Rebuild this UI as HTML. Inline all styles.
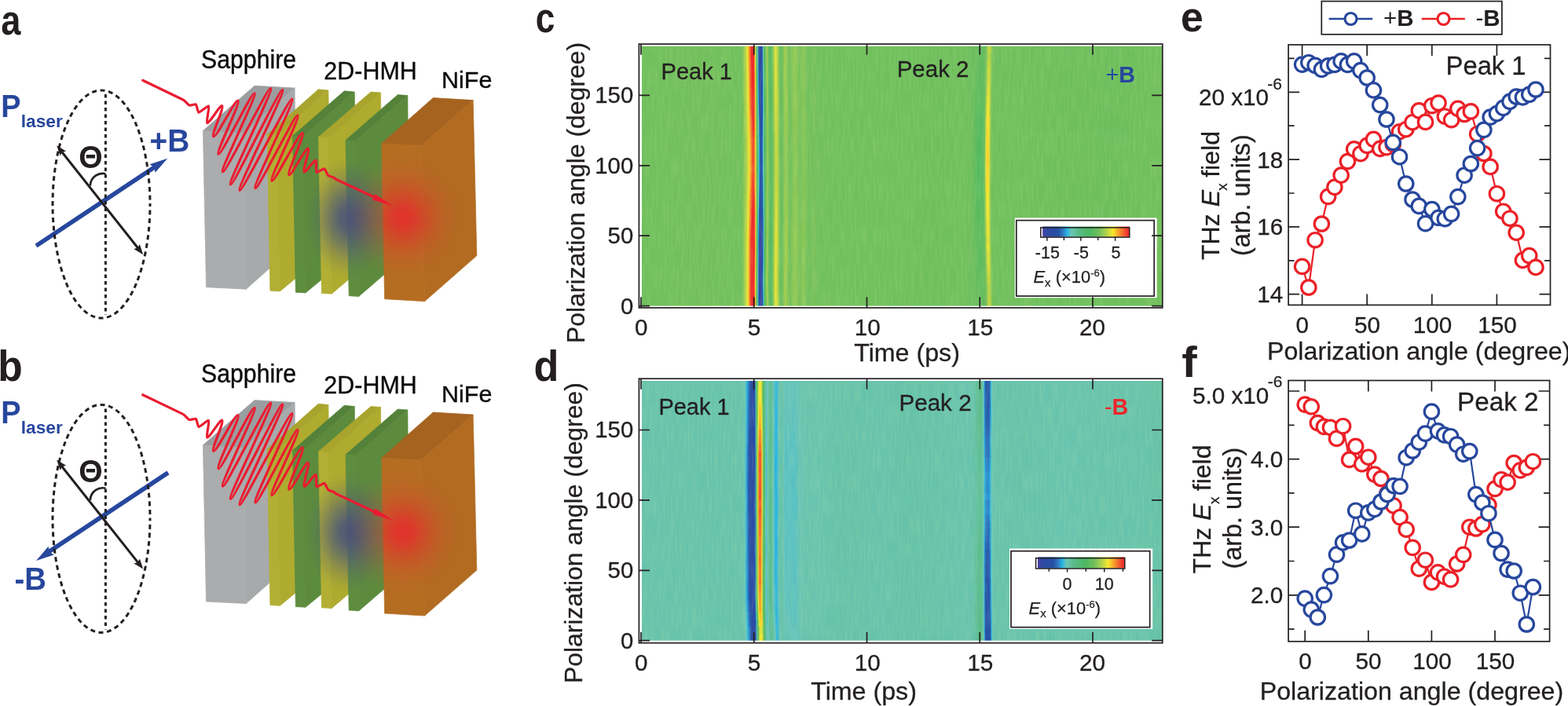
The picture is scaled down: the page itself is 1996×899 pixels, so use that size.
<!DOCTYPE html>
<html lang="en"><head><meta charset="utf-8"><title>Figure</title>
<style>
html,body{margin:0;padding:0;background:#fff;}
body{width:1996px;height:899px;overflow:hidden;}
svg{display:block;font-family:"Liberation Sans",sans-serif;}
</style></head>
<body>
<svg width="1996" height="899" viewBox="0 0 1996 899">
<defs>
<radialGradient id="gblue" cx="0.5" cy="0.5" r="0.5">
<stop offset="0" stop-color="#42507e" stop-opacity="0.95"/>
<stop offset="0.22" stop-color="#46547c" stop-opacity="0.85"/>
<stop offset="0.45" stop-color="#4d5a78" stop-opacity="0.6"/>
<stop offset="0.68" stop-color="#556070" stop-opacity="0.3"/>
<stop offset="0.88" stop-color="#5a6468" stop-opacity="0.08"/>
<stop offset="1" stop-color="#606a60" stop-opacity="0"/>
</radialGradient>
<radialGradient id="gred" cx="0.5" cy="0.5" r="0.5">
<stop offset="0" stop-color="#e2302c" stop-opacity="0.97"/>
<stop offset="0.15" stop-color="#e0332c" stop-opacity="0.9"/>
<stop offset="0.35" stop-color="#d93e2b" stop-opacity="0.66"/>
<stop offset="0.6" stop-color="#cf4d2a" stop-opacity="0.34"/>
<stop offset="0.85" stop-color="#c45a28" stop-opacity="0.09"/>
<stop offset="1" stop-color="#b96622" stop-opacity="0"/>
</radialGradient>
<clipPath id="clipN"><polygon points="485.8,182.6 551.4,124.6 602.2,127.6 606.9,325.6 540.6,383.7 489.6,380.7"/></clipPath>
<clipPath id="clipS"><polygon points="340.2,171.4 405.2,113.8 602.2,127.6 606.9,325.6 540.6,383.7 343.9,370.2"/></clipPath>
<clipPath id="clipL"><polygon points="340.2,171.4 405.2,113.8 518.9,121.6 520,152 485.8,182.6 489.6,380.7 343.9,370.2"/></clipPath>
<filter id="nz" x="0" y="0" width="100%" height="100%" color-interpolation-filters="sRGB"><feTurbulence type="fractalNoise" baseFrequency="0.42 0.035" numOctaves="1" seed="11"/><feColorMatrix type="matrix" values="0 0 0 0 0.9  0 0 0 0 1  0 0 0 0 0.7  0.26 0 0 0 -0.1"/></filter>
<linearGradient id="cb"><stop offset="0%" stop-color="#4a3ea5"/><stop offset="5%" stop-color="#2f49a3"/><stop offset="18%" stop-color="#2551a5"/><stop offset="24%" stop-color="#2f7fc5"/><stop offset="28%" stop-color="#25b4e6"/><stop offset="33%" stop-color="#6cc5b5"/><stop offset="42%" stop-color="#58bb88"/><stop offset="55%" stop-color="#4db860"/><stop offset="65%" stop-color="#72bf5d"/><stop offset="72%" stop-color="#a5cf50"/><stop offset="81%" stop-color="#f5e830"/><stop offset="86%" stop-color="#f9b22c"/><stop offset="92%" stop-color="#f3702e"/><stop offset="98%" stop-color="#ee3030"/><stop offset="100%" stop-color="#ed2a2a"/></linearGradient>
<linearGradient id="hc0"><stop offset="0%" stop-color="#70bf5d"/><stop offset="11.78%" stop-color="#73bf5d"/><stop offset="17.44%" stop-color="#71bf5d"/><stop offset="19.32%" stop-color="#72bf5d"/><stop offset="19.7%" stop-color="#9ccc52"/><stop offset="20.08%" stop-color="#c1d845"/><stop offset="20.38%" stop-color="#f0e632"/><stop offset="20.46%" stop-color="#f6d82f"/><stop offset="20.68%" stop-color="#f68d2d"/><stop offset="21.06%" stop-color="#ee3030"/><stop offset="21.36%" stop-color="#ed2a2a"/><stop offset="21.59%" stop-color="#ed2a2a"/><stop offset="21.66%" stop-color="#ef422f"/><stop offset="21.74%" stop-color="#f36f2e"/><stop offset="21.81%" stop-color="#f8ab2c"/><stop offset="21.89%" stop-color="#e5e336"/><stop offset="21.97%" stop-color="#a2ce51"/><stop offset="22.04%" stop-color="#6abe5e"/><stop offset="22.12%" stop-color="#4eb862"/><stop offset="22.27%" stop-color="#5dbe94"/><stop offset="22.34%" stop-color="#64c3bb"/><stop offset="22.42%" stop-color="#2c90cf"/><stop offset="22.49%" stop-color="#285eae"/><stop offset="22.57%" stop-color="#284fa4"/><stop offset="22.8%" stop-color="#3646a4"/><stop offset="22.87%" stop-color="#4440a5"/><stop offset="23.02%" stop-color="#3049a3"/><stop offset="23.17%" stop-color="#294ea4"/><stop offset="23.25%" stop-color="#2759aa"/><stop offset="23.32%" stop-color="#2b94d2"/><stop offset="23.4%" stop-color="#65c3ba"/><stop offset="23.48%" stop-color="#5dbd93"/><stop offset="23.63%" stop-color="#4eb862"/><stop offset="23.93%" stop-color="#77c05c"/><stop offset="24.08%" stop-color="#9dcc52"/><stop offset="24.15%" stop-color="#9fcd52"/><stop offset="24.38%" stop-color="#72bf5d"/><stop offset="24.76%" stop-color="#4db861"/><stop offset="25.14%" stop-color="#6fbe5d"/><stop offset="25.59%" stop-color="#c7da42"/><stop offset="25.74%" stop-color="#e8e435"/><stop offset="25.82%" stop-color="#e7e435"/><stop offset="26.57%" stop-color="#70bf5d"/><stop offset="26.8%" stop-color="#63bc5e"/><stop offset="27.17%" stop-color="#7bc25b"/><stop offset="27.63%" stop-color="#a7d04f"/><stop offset="28.46%" stop-color="#6fbe5d"/><stop offset="29.44%" stop-color="#97cb53"/><stop offset="30.27%" stop-color="#77c05c"/><stop offset="31.1%" stop-color="#8ac757"/><stop offset="32%" stop-color="#70bf5d"/><stop offset="32.99%" stop-color="#7ac15b"/><stop offset="34.04%" stop-color="#70bf5d"/><stop offset="50.72%" stop-color="#70bf5d"/><stop offset="56.54%" stop-color="#6ebe5d"/><stop offset="61.82%" stop-color="#71bf5d"/><stop offset="64.01%" stop-color="#6bbe5e"/><stop offset="65.52%" stop-color="#60bc5e"/><stop offset="66.05%" stop-color="#6abe5e"/><stop offset="66.2%" stop-color="#72bf5d"/><stop offset="66.58%" stop-color="#b9d548"/><stop offset="66.88%" stop-color="#bfd745"/><stop offset="66.95%" stop-color="#bed746"/><stop offset="67.33%" stop-color="#7dc25a"/><stop offset="67.71%" stop-color="#6fbe5d"/><stop offset="72.01%" stop-color="#70bf5d"/><stop offset="80.62%" stop-color="#6ebe5d"/><stop offset="82.88%" stop-color="#6ebe5d"/><stop offset="90.73%" stop-color="#6dbe5d"/><stop offset="99.94%" stop-color="#71bf5d"/></linearGradient>
<linearGradient id="hc1"><stop offset="0%" stop-color="#70bf5d"/><stop offset="11.78%" stop-color="#73bf5d"/><stop offset="17.44%" stop-color="#71bf5d"/><stop offset="19.25%" stop-color="#71bf5d"/><stop offset="19.7%" stop-color="#9ecd52"/><stop offset="20.08%" stop-color="#c6d943"/><stop offset="20.38%" stop-color="#f5e730"/><stop offset="20.68%" stop-color="#f5862d"/><stop offset="21.06%" stop-color="#ee2d2d"/><stop offset="21.59%" stop-color="#ee2d2d"/><stop offset="21.66%" stop-color="#f1512f"/><stop offset="21.74%" stop-color="#f5822d"/><stop offset="21.81%" stop-color="#f7c82e"/><stop offset="21.89%" stop-color="#cddb40"/><stop offset="21.97%" stop-color="#8ac757"/><stop offset="22.04%" stop-color="#5ebb5f"/><stop offset="22.12%" stop-color="#50b96b"/><stop offset="22.19%" stop-color="#56bb82"/><stop offset="22.27%" stop-color="#63c1a1"/><stop offset="22.34%" stop-color="#3dbad5"/><stop offset="22.42%" stop-color="#2e78c0"/><stop offset="22.49%" stop-color="#2551a5"/><stop offset="22.72%" stop-color="#2f49a3"/><stop offset="22.87%" stop-color="#4142a4"/><stop offset="23.1%" stop-color="#2c4ba4"/><stop offset="23.17%" stop-color="#274fa5"/><stop offset="23.25%" stop-color="#2b6bb7"/><stop offset="23.32%" stop-color="#25b3e5"/><stop offset="23.4%" stop-color="#67c3aa"/><stop offset="23.48%" stop-color="#58bb87"/><stop offset="23.63%" stop-color="#52b960"/><stop offset="23.85%" stop-color="#6ebe5d"/><stop offset="24.08%" stop-color="#a4cf50"/><stop offset="24.46%" stop-color="#67bd5e"/><stop offset="24.76%" stop-color="#4db861"/><stop offset="25.14%" stop-color="#72bf5d"/><stop offset="25.66%" stop-color="#dee139"/><stop offset="25.74%" stop-color="#eee633"/><stop offset="26.49%" stop-color="#76c05c"/><stop offset="26.72%" stop-color="#62bc5e"/><stop offset="27.17%" stop-color="#7ec35a"/><stop offset="27.55%" stop-color="#a5cf50"/><stop offset="27.85%" stop-color="#95ca54"/><stop offset="28.46%" stop-color="#6fbf5d"/><stop offset="29.44%" stop-color="#96ca54"/><stop offset="30.27%" stop-color="#77c15c"/><stop offset="31.1%" stop-color="#89c657"/><stop offset="32%" stop-color="#70bf5d"/><stop offset="32.99%" stop-color="#79c15b"/><stop offset="34.04%" stop-color="#70bf5d"/><stop offset="50.72%" stop-color="#70bf5d"/><stop offset="56.54%" stop-color="#6ebe5d"/><stop offset="61.82%" stop-color="#71bf5d"/><stop offset="64.01%" stop-color="#6bbe5e"/><stop offset="65.52%" stop-color="#61bc5e"/><stop offset="66.05%" stop-color="#6cbe5d"/><stop offset="66.2%" stop-color="#76c05c"/><stop offset="66.58%" stop-color="#b8d548"/><stop offset="66.88%" stop-color="#bad548"/><stop offset="67.18%" stop-color="#91c955"/><stop offset="67.33%" stop-color="#79c15b"/><stop offset="67.86%" stop-color="#6ebe5d"/><stop offset="71.94%" stop-color="#71bf5d"/><stop offset="80.77%" stop-color="#6ebe5d"/><stop offset="82.8%" stop-color="#6fbe5d"/><stop offset="90.81%" stop-color="#6dbe5d"/><stop offset="99.94%" stop-color="#71bf5d"/></linearGradient>
<linearGradient id="hc2"><stop offset="0%" stop-color="#70bf5d"/><stop offset="11.78%" stop-color="#73bf5d"/><stop offset="17.44%" stop-color="#71bf5d"/><stop offset="19.25%" stop-color="#71bf5d"/><stop offset="19.7%" stop-color="#9fcd52"/><stop offset="20%" stop-color="#bbd647"/><stop offset="20.38%" stop-color="#f5e530"/><stop offset="20.68%" stop-color="#f5862d"/><stop offset="21.06%" stop-color="#ee2d2d"/><stop offset="21.51%" stop-color="#ed2a2a"/><stop offset="21.59%" stop-color="#ee2f2f"/><stop offset="21.66%" stop-color="#f1572f"/><stop offset="21.74%" stop-color="#f5892d"/><stop offset="21.81%" stop-color="#f7d22e"/><stop offset="21.89%" stop-color="#c5d943"/><stop offset="21.97%" stop-color="#83c459"/><stop offset="22.04%" stop-color="#5bbb5f"/><stop offset="22.12%" stop-color="#51b96e"/><stop offset="22.19%" stop-color="#57bb84"/><stop offset="22.27%" stop-color="#65c1a5"/><stop offset="22.34%" stop-color="#34b8dc"/><stop offset="22.42%" stop-color="#2d75be"/><stop offset="22.49%" stop-color="#2650a5"/><stop offset="22.72%" stop-color="#2f49a3"/><stop offset="22.8%" stop-color="#3c44a4"/><stop offset="22.87%" stop-color="#3e43a4"/><stop offset="23.17%" stop-color="#2750a5"/><stop offset="23.25%" stop-color="#2c72bc"/><stop offset="23.32%" stop-color="#30b7de"/><stop offset="23.4%" stop-color="#65c2a6"/><stop offset="23.48%" stop-color="#57bb84"/><stop offset="23.63%" stop-color="#53b960"/><stop offset="23.85%" stop-color="#6fbf5d"/><stop offset="24.08%" stop-color="#a6cf4f"/><stop offset="24.38%" stop-color="#6ebe5d"/><stop offset="24.76%" stop-color="#4db861"/><stop offset="25.14%" stop-color="#74bf5d"/><stop offset="25.66%" stop-color="#dfe139"/><stop offset="25.74%" stop-color="#ede533"/><stop offset="26.49%" stop-color="#75c05c"/><stop offset="26.72%" stop-color="#61bc5e"/><stop offset="27.17%" stop-color="#7fc35a"/><stop offset="27.55%" stop-color="#a6cf50"/><stop offset="28.38%" stop-color="#70bf5d"/><stop offset="29.14%" stop-color="#8cc756"/><stop offset="29.44%" stop-color="#96ca54"/><stop offset="30.27%" stop-color="#78c15c"/><stop offset="31.02%" stop-color="#8bc757"/><stop offset="32%" stop-color="#70bf5d"/><stop offset="32.99%" stop-color="#79c15b"/><stop offset="34.04%" stop-color="#70bf5d"/><stop offset="50.72%" stop-color="#70bf5d"/><stop offset="56.54%" stop-color="#6ebe5d"/><stop offset="61.82%" stop-color="#71bf5d"/><stop offset="63.93%" stop-color="#6cbe5d"/><stop offset="65.52%" stop-color="#62bc5e"/><stop offset="66.05%" stop-color="#6dbe5d"/><stop offset="66.2%" stop-color="#7bc25b"/><stop offset="66.5%" stop-color="#aed24c"/><stop offset="66.73%" stop-color="#b9d548"/><stop offset="66.88%" stop-color="#b5d449"/><stop offset="67.33%" stop-color="#77c15c"/><stop offset="68.09%" stop-color="#6ebe5d"/><stop offset="71.94%" stop-color="#71bf5d"/><stop offset="80.77%" stop-color="#6ebe5d"/><stop offset="82.8%" stop-color="#6fbe5d"/><stop offset="90.81%" stop-color="#6dbe5d"/><stop offset="99.94%" stop-color="#71bf5d"/></linearGradient>
<linearGradient id="hc3"><stop offset="0%" stop-color="#70bf5d"/><stop offset="11.78%" stop-color="#73bf5d"/><stop offset="17.44%" stop-color="#71bf5d"/><stop offset="19.25%" stop-color="#71bf5d"/><stop offset="19.7%" stop-color="#9ecd52"/><stop offset="20%" stop-color="#bbd647"/><stop offset="20.38%" stop-color="#f5e630"/><stop offset="20.68%" stop-color="#f5872d"/><stop offset="21.06%" stop-color="#ee2e2e"/><stop offset="21.51%" stop-color="#ed2a2a"/><stop offset="21.59%" stop-color="#ee2f2f"/><stop offset="21.74%" stop-color="#f58a2d"/><stop offset="21.81%" stop-color="#f7d22e"/><stop offset="21.89%" stop-color="#c5d943"/><stop offset="21.97%" stop-color="#84c558"/><stop offset="22.04%" stop-color="#5cbb5f"/><stop offset="22.12%" stop-color="#51b96d"/><stop offset="22.19%" stop-color="#57bb83"/><stop offset="22.27%" stop-color="#64c1a4"/><stop offset="22.34%" stop-color="#38b9d9"/><stop offset="22.42%" stop-color="#2d77c0"/><stop offset="22.49%" stop-color="#2551a5"/><stop offset="22.72%" stop-color="#2f49a3"/><stop offset="22.8%" stop-color="#3a44a4"/><stop offset="22.87%" stop-color="#3d43a4"/><stop offset="23.1%" stop-color="#2b4ca4"/><stop offset="23.17%" stop-color="#2650a5"/><stop offset="23.25%" stop-color="#2c73bc"/><stop offset="23.32%" stop-color="#32b7dd"/><stop offset="23.4%" stop-color="#65c2a5"/><stop offset="23.48%" stop-color="#57bb84"/><stop offset="23.63%" stop-color="#53b960"/><stop offset="23.85%" stop-color="#6fbe5d"/><stop offset="24.08%" stop-color="#a6cf50"/><stop offset="24.38%" stop-color="#6ebe5d"/><stop offset="24.76%" stop-color="#4db861"/><stop offset="25.14%" stop-color="#73bf5d"/><stop offset="25.66%" stop-color="#dee139"/><stop offset="25.74%" stop-color="#ece533"/><stop offset="26.49%" stop-color="#75c05c"/><stop offset="26.72%" stop-color="#61bc5e"/><stop offset="27.17%" stop-color="#7ec35a"/><stop offset="27.55%" stop-color="#a5cf50"/><stop offset="28.38%" stop-color="#70bf5d"/><stop offset="29.14%" stop-color="#8cc756"/><stop offset="29.44%" stop-color="#96ca54"/><stop offset="30.27%" stop-color="#77c15c"/><stop offset="31.02%" stop-color="#8bc757"/><stop offset="32%" stop-color="#70bf5d"/><stop offset="32.99%" stop-color="#79c15b"/><stop offset="34.04%" stop-color="#70bf5d"/><stop offset="50.72%" stop-color="#70bf5d"/><stop offset="56.54%" stop-color="#6ebe5d"/><stop offset="61.82%" stop-color="#71bf5d"/><stop offset="63.93%" stop-color="#6bbe5e"/><stop offset="65.37%" stop-color="#5fbb5f"/><stop offset="65.97%" stop-color="#6bbe5e"/><stop offset="66.12%" stop-color="#73bf5d"/><stop offset="66.5%" stop-color="#bdd647"/><stop offset="66.8%" stop-color="#c0d845"/><stop offset="66.88%" stop-color="#bdd746"/><stop offset="67.26%" stop-color="#7bc25b"/><stop offset="67.63%" stop-color="#6fbe5d"/><stop offset="72.01%" stop-color="#70bf5d"/><stop offset="80.62%" stop-color="#6ebe5d"/><stop offset="82.88%" stop-color="#6ebe5d"/><stop offset="90.73%" stop-color="#6dbe5d"/><stop offset="99.94%" stop-color="#71bf5d"/></linearGradient>
<linearGradient id="hc4"><stop offset="0%" stop-color="#70bf5d"/><stop offset="11.78%" stop-color="#73bf5d"/><stop offset="17.44%" stop-color="#71bf5d"/><stop offset="19.25%" stop-color="#71bf5d"/><stop offset="19.7%" stop-color="#9ecd52"/><stop offset="20.08%" stop-color="#c6d943"/><stop offset="20.38%" stop-color="#f5e730"/><stop offset="20.68%" stop-color="#f5872d"/><stop offset="21.06%" stop-color="#ee2e2e"/><stop offset="21.59%" stop-color="#ee2e2e"/><stop offset="21.66%" stop-color="#f1542f"/><stop offset="21.74%" stop-color="#f5852d"/><stop offset="21.81%" stop-color="#f7cb2e"/><stop offset="21.89%" stop-color="#cbdb41"/><stop offset="21.97%" stop-color="#89c657"/><stop offset="22.04%" stop-color="#5ebb5f"/><stop offset="22.12%" stop-color="#50b96c"/><stop offset="22.19%" stop-color="#56bb82"/><stop offset="22.27%" stop-color="#63c1a2"/><stop offset="22.34%" stop-color="#3dbad5"/><stop offset="22.42%" stop-color="#2e79c1"/><stop offset="22.49%" stop-color="#2551a5"/><stop offset="22.72%" stop-color="#2f49a3"/><stop offset="22.87%" stop-color="#3f42a4"/><stop offset="23.1%" stop-color="#2c4ca4"/><stop offset="23.17%" stop-color="#274fa5"/><stop offset="23.25%" stop-color="#2b6db9"/><stop offset="23.32%" stop-color="#28b5e4"/><stop offset="23.4%" stop-color="#67c2a9"/><stop offset="23.48%" stop-color="#57bb86"/><stop offset="23.63%" stop-color="#52b960"/><stop offset="23.85%" stop-color="#6fbe5d"/><stop offset="24.08%" stop-color="#a4cf50"/><stop offset="24.38%" stop-color="#6fbe5d"/><stop offset="24.76%" stop-color="#4db861"/><stop offset="25.14%" stop-color="#72bf5d"/><stop offset="25.66%" stop-color="#dde139"/><stop offset="25.74%" stop-color="#eee633"/><stop offset="26.49%" stop-color="#76c05c"/><stop offset="26.72%" stop-color="#61bc5e"/><stop offset="27.17%" stop-color="#7ec35a"/><stop offset="27.55%" stop-color="#a5cf50"/><stop offset="28%" stop-color="#89c657"/><stop offset="28.46%" stop-color="#70bf5d"/><stop offset="29.44%" stop-color="#96ca54"/><stop offset="30.27%" stop-color="#77c15c"/><stop offset="31.1%" stop-color="#89c657"/><stop offset="32%" stop-color="#70bf5d"/><stop offset="32.99%" stop-color="#79c15b"/><stop offset="34.04%" stop-color="#70bf5d"/><stop offset="50.72%" stop-color="#70bf5d"/><stop offset="56.54%" stop-color="#6ebe5d"/><stop offset="61.82%" stop-color="#71bf5d"/><stop offset="63.86%" stop-color="#6cbe5e"/><stop offset="64.99%" stop-color="#60bc5e"/><stop offset="65.82%" stop-color="#64bc5e"/><stop offset="66.12%" stop-color="#79c15b"/><stop offset="66.5%" stop-color="#c7da43"/><stop offset="66.8%" stop-color="#c8da42"/><stop offset="67.03%" stop-color="#a4cf50"/><stop offset="67.26%" stop-color="#7ac25b"/><stop offset="67.71%" stop-color="#6ebe5d"/><stop offset="71.94%" stop-color="#71bf5d"/><stop offset="80.77%" stop-color="#6ebe5d"/><stop offset="82.8%" stop-color="#6fbe5d"/><stop offset="90.81%" stop-color="#6dbe5d"/><stop offset="99.94%" stop-color="#71bf5d"/></linearGradient>
<linearGradient id="hc5"><stop offset="0%" stop-color="#70bf5d"/><stop offset="11.78%" stop-color="#73bf5d"/><stop offset="17.44%" stop-color="#71bf5d"/><stop offset="19.25%" stop-color="#71bf5d"/><stop offset="20%" stop-color="#b9d548"/><stop offset="20.38%" stop-color="#f4e830"/><stop offset="20.68%" stop-color="#f5882d"/><stop offset="21.06%" stop-color="#ee2e2e"/><stop offset="21.59%" stop-color="#ed2c2c"/><stop offset="21.66%" stop-color="#f04f2f"/><stop offset="21.74%" stop-color="#f47f2e"/><stop offset="21.81%" stop-color="#f8c32d"/><stop offset="21.89%" stop-color="#d2dd3e"/><stop offset="21.97%" stop-color="#8fc856"/><stop offset="22.04%" stop-color="#61bc5e"/><stop offset="22.12%" stop-color="#50b96a"/><stop offset="22.27%" stop-color="#62c09e"/><stop offset="22.34%" stop-color="#46bccf"/><stop offset="22.42%" stop-color="#2e7cc3"/><stop offset="22.49%" stop-color="#2552a6"/><stop offset="22.72%" stop-color="#2f49a3"/><stop offset="22.87%" stop-color="#4142a4"/><stop offset="23.1%" stop-color="#2c4ba4"/><stop offset="23.17%" stop-color="#284fa4"/><stop offset="23.25%" stop-color="#2a68b5"/><stop offset="23.32%" stop-color="#26aee2"/><stop offset="23.4%" stop-color="#68c3ad"/><stop offset="23.48%" stop-color="#58bb88"/><stop offset="23.63%" stop-color="#51b960"/><stop offset="23.93%" stop-color="#7cc25a"/><stop offset="24.08%" stop-color="#a3ce51"/><stop offset="24.23%" stop-color="#8bc757"/><stop offset="24.46%" stop-color="#68bd5e"/><stop offset="24.76%" stop-color="#4eb862"/><stop offset="25.14%" stop-color="#71bf5d"/><stop offset="25.59%" stop-color="#ccdb41"/><stop offset="25.74%" stop-color="#ece533"/><stop offset="26.57%" stop-color="#6ebe5d"/><stop offset="26.72%" stop-color="#62bc5e"/><stop offset="27.17%" stop-color="#7dc25a"/><stop offset="27.55%" stop-color="#a4cf50"/><stop offset="27.7%" stop-color="#a0cd51"/><stop offset="28.46%" stop-color="#6fbf5d"/><stop offset="29.44%" stop-color="#96ca54"/><stop offset="30.27%" stop-color="#77c15c"/><stop offset="31.1%" stop-color="#89c657"/><stop offset="32%" stop-color="#70bf5d"/><stop offset="32.99%" stop-color="#79c15b"/><stop offset="34.04%" stop-color="#70bf5d"/><stop offset="50.72%" stop-color="#70bf5d"/><stop offset="56.54%" stop-color="#6ebe5d"/><stop offset="61.82%" stop-color="#71bf5d"/><stop offset="63.78%" stop-color="#6cbe5d"/><stop offset="64.92%" stop-color="#5ebb5f"/><stop offset="65.75%" stop-color="#61bc5e"/><stop offset="66.05%" stop-color="#72bf5d"/><stop offset="66.43%" stop-color="#c9da41"/><stop offset="66.65%" stop-color="#d5de3d"/><stop offset="66.8%" stop-color="#d1dd3e"/><stop offset="67.18%" stop-color="#82c459"/><stop offset="67.48%" stop-color="#70bf5d"/><stop offset="72.01%" stop-color="#70bf5d"/><stop offset="80.62%" stop-color="#6ebe5d"/><stop offset="82.88%" stop-color="#6ebe5d"/><stop offset="90.73%" stop-color="#6dbe5d"/><stop offset="99.94%" stop-color="#71bf5d"/></linearGradient>
<linearGradient id="hc6"><stop offset="0%" stop-color="#70bf5d"/><stop offset="11.78%" stop-color="#73bf5d"/><stop offset="17.44%" stop-color="#71bf5d"/><stop offset="19.25%" stop-color="#71bf5d"/><stop offset="19.4%" stop-color="#7dc35a"/><stop offset="19.78%" stop-color="#a3ce50"/><stop offset="20.08%" stop-color="#c4d944"/><stop offset="20.38%" stop-color="#f2e731"/><stop offset="20.61%" stop-color="#f79f2d"/><stop offset="21.06%" stop-color="#ee2e2e"/><stop offset="21.59%" stop-color="#ed2b2b"/><stop offset="21.66%" stop-color="#f0482f"/><stop offset="21.74%" stop-color="#f4772e"/><stop offset="21.81%" stop-color="#f8b92d"/><stop offset="21.89%" stop-color="#d9df3b"/><stop offset="21.97%" stop-color="#96ca54"/><stop offset="22.04%" stop-color="#64bc5e"/><stop offset="22.12%" stop-color="#4fb967"/><stop offset="22.27%" stop-color="#61bf9b"/><stop offset="22.34%" stop-color="#4fbec9"/><stop offset="22.42%" stop-color="#2f7fc5"/><stop offset="22.49%" stop-color="#2655a8"/><stop offset="22.72%" stop-color="#2f49a3"/><stop offset="22.87%" stop-color="#4441a5"/><stop offset="23.02%" stop-color="#2f49a3"/><stop offset="23.17%" stop-color="#284ea4"/><stop offset="23.25%" stop-color="#2861b0"/><stop offset="23.32%" stop-color="#28a2db"/><stop offset="23.4%" stop-color="#6ac4b1"/><stop offset="23.48%" stop-color="#5abc8d"/><stop offset="23.63%" stop-color="#50b860"/><stop offset="23.93%" stop-color="#7ac25b"/><stop offset="24.08%" stop-color="#a1ce51"/><stop offset="24.15%" stop-color="#9ccc52"/><stop offset="24.38%" stop-color="#70bf5d"/><stop offset="24.76%" stop-color="#4eb863"/><stop offset="25.14%" stop-color="#71bf5d"/><stop offset="25.59%" stop-color="#cadb41"/><stop offset="25.74%" stop-color="#ebe534"/><stop offset="25.97%" stop-color="#cfdc3f"/><stop offset="26.57%" stop-color="#6fbe5d"/><stop offset="26.72%" stop-color="#63bc5e"/><stop offset="27.17%" stop-color="#7cc25a"/><stop offset="27.63%" stop-color="#a7cf4f"/><stop offset="28.46%" stop-color="#6fbe5d"/><stop offset="29.44%" stop-color="#97cb54"/><stop offset="30.27%" stop-color="#77c15c"/><stop offset="31.1%" stop-color="#8ac657"/><stop offset="32%" stop-color="#70bf5d"/><stop offset="32.99%" stop-color="#7ac15b"/><stop offset="34.04%" stop-color="#70bf5d"/><stop offset="50.72%" stop-color="#70bf5d"/><stop offset="56.54%" stop-color="#6ebe5d"/><stop offset="61.82%" stop-color="#71bf5d"/><stop offset="63.78%" stop-color="#6cbe5e"/><stop offset="64.84%" stop-color="#5dbb5f"/><stop offset="65.75%" stop-color="#61bc5e"/><stop offset="66.05%" stop-color="#76c05c"/><stop offset="66.43%" stop-color="#d5de3d"/><stop offset="66.73%" stop-color="#d8df3c"/><stop offset="66.8%" stop-color="#d2dd3e"/><stop offset="67.18%" stop-color="#7dc35a"/><stop offset="67.48%" stop-color="#6fbf5d"/><stop offset="72.01%" stop-color="#70bf5d"/><stop offset="80.62%" stop-color="#6ebe5d"/><stop offset="82.88%" stop-color="#6ebe5d"/><stop offset="90.73%" stop-color="#6dbe5d"/><stop offset="99.94%" stop-color="#71bf5d"/></linearGradient>
<linearGradient id="hc7"><stop offset="0%" stop-color="#70bf5d"/><stop offset="11.78%" stop-color="#73bf5d"/><stop offset="17.44%" stop-color="#71bf5d"/><stop offset="19.32%" stop-color="#72bf5d"/><stop offset="19.7%" stop-color="#9dcc52"/><stop offset="20.08%" stop-color="#c2d844"/><stop offset="20.38%" stop-color="#f0e732"/><stop offset="20.53%" stop-color="#f8bd2d"/><stop offset="20.76%" stop-color="#f47b2e"/><stop offset="21.06%" stop-color="#ee2f2f"/><stop offset="21.44%" stop-color="#ed2a2a"/><stop offset="21.59%" stop-color="#ed2a2a"/><stop offset="21.66%" stop-color="#f0452f"/><stop offset="21.74%" stop-color="#f3732e"/><stop offset="21.81%" stop-color="#f9b12c"/><stop offset="21.89%" stop-color="#e0e138"/><stop offset="21.97%" stop-color="#9dcc52"/><stop offset="22.04%" stop-color="#68bd5e"/><stop offset="22.12%" stop-color="#4eb864"/><stop offset="22.27%" stop-color="#5ebe97"/><stop offset="22.34%" stop-color="#5dc1c0"/><stop offset="22.42%" stop-color="#2d8acc"/><stop offset="22.49%" stop-color="#275bac"/><stop offset="22.57%" stop-color="#284ea4"/><stop offset="22.8%" stop-color="#3746a4"/><stop offset="22.87%" stop-color="#4341a4"/><stop offset="23.02%" stop-color="#2f49a3"/><stop offset="23.17%" stop-color="#294ea4"/><stop offset="23.25%" stop-color="#285dad"/><stop offset="23.32%" stop-color="#2a9ad6"/><stop offset="23.4%" stop-color="#6cc5b5"/><stop offset="23.48%" stop-color="#5cbd90"/><stop offset="23.63%" stop-color="#4db860"/><stop offset="23.93%" stop-color="#78c15b"/><stop offset="24.08%" stop-color="#9ecd52"/><stop offset="24.15%" stop-color="#9ecd52"/><stop offset="24.38%" stop-color="#71bf5d"/><stop offset="24.76%" stop-color="#4db862"/><stop offset="25.14%" stop-color="#70bf5d"/><stop offset="25.59%" stop-color="#c8da42"/><stop offset="25.74%" stop-color="#e9e435"/><stop offset="25.82%" stop-color="#e7e336"/><stop offset="26.57%" stop-color="#70bf5d"/><stop offset="26.8%" stop-color="#63bc5e"/><stop offset="27.17%" stop-color="#7bc25b"/><stop offset="27.63%" stop-color="#a7d04f"/><stop offset="28.46%" stop-color="#6fbe5d"/><stop offset="29.44%" stop-color="#97cb54"/><stop offset="30.27%" stop-color="#77c15c"/><stop offset="31.1%" stop-color="#8ac657"/><stop offset="32%" stop-color="#70bf5d"/><stop offset="32.99%" stop-color="#7ac15b"/><stop offset="34.04%" stop-color="#70bf5d"/><stop offset="50.72%" stop-color="#70bf5d"/><stop offset="56.54%" stop-color="#6ebe5d"/><stop offset="61.82%" stop-color="#71bf5d"/><stop offset="63.71%" stop-color="#6dbe5d"/><stop offset="64.84%" stop-color="#5dbb5f"/><stop offset="65.75%" stop-color="#62bc5e"/><stop offset="65.97%" stop-color="#71bf5d"/><stop offset="66.12%" stop-color="#8fc855"/><stop offset="66.43%" stop-color="#d6de3c"/><stop offset="66.65%" stop-color="#dae03b"/><stop offset="66.8%" stop-color="#cedc40"/><stop offset="67.18%" stop-color="#7cc25a"/><stop offset="67.48%" stop-color="#6fbe5d"/><stop offset="72.01%" stop-color="#70bf5d"/><stop offset="80.62%" stop-color="#6ebe5d"/><stop offset="82.88%" stop-color="#6ebe5d"/><stop offset="90.73%" stop-color="#6dbe5d"/><stop offset="99.94%" stop-color="#71bf5d"/></linearGradient>
<linearGradient id="hc8"><stop offset="0%" stop-color="#70bf5d"/><stop offset="11.78%" stop-color="#73bf5d"/><stop offset="17.44%" stop-color="#71bf5d"/><stop offset="19.32%" stop-color="#72bf5d"/><stop offset="19.7%" stop-color="#9ccc52"/><stop offset="20.08%" stop-color="#c2d845"/><stop offset="20.38%" stop-color="#f0e632"/><stop offset="20.46%" stop-color="#f6d72f"/><stop offset="20.68%" stop-color="#f68d2d"/><stop offset="21.06%" stop-color="#ee3030"/><stop offset="21.44%" stop-color="#ed2a2a"/><stop offset="21.59%" stop-color="#ed2a2a"/><stop offset="21.66%" stop-color="#ef3f30"/><stop offset="21.74%" stop-color="#f36c2e"/><stop offset="21.81%" stop-color="#f8a72c"/><stop offset="21.89%" stop-color="#e8e435"/><stop offset="21.97%" stop-color="#a4cf50"/><stop offset="22.04%" stop-color="#6bbe5e"/><stop offset="22.12%" stop-color="#4db861"/><stop offset="22.27%" stop-color="#5dbe93"/><stop offset="22.34%" stop-color="#65c3ba"/><stop offset="22.42%" stop-color="#2c90d0"/><stop offset="22.49%" stop-color="#285eae"/><stop offset="22.57%" stop-color="#284fa4"/><stop offset="22.8%" stop-color="#3746a4"/><stop offset="22.87%" stop-color="#4540a5"/><stop offset="23.1%" stop-color="#2e4aa3"/><stop offset="23.25%" stop-color="#2656a8"/><stop offset="23.32%" stop-color="#2c8fcf"/><stop offset="23.4%" stop-color="#5fc2be"/><stop offset="23.48%" stop-color="#5ebe95"/><stop offset="23.63%" stop-color="#4eb863"/><stop offset="23.93%" stop-color="#76c05c"/><stop offset="24.08%" stop-color="#9dcc52"/><stop offset="24.15%" stop-color="#a0cd51"/><stop offset="24.38%" stop-color="#72bf5d"/><stop offset="24.76%" stop-color="#4db861"/><stop offset="25.14%" stop-color="#6fbe5d"/><stop offset="25.59%" stop-color="#c7da42"/><stop offset="25.74%" stop-color="#e8e435"/><stop offset="25.82%" stop-color="#e8e435"/><stop offset="26.57%" stop-color="#70bf5d"/><stop offset="26.8%" stop-color="#62bc5e"/><stop offset="27.17%" stop-color="#7bc25b"/><stop offset="27.63%" stop-color="#a8d04f"/><stop offset="28.46%" stop-color="#6fbe5d"/><stop offset="29.44%" stop-color="#98cb53"/><stop offset="30.27%" stop-color="#77c15c"/><stop offset="31.1%" stop-color="#8ac757"/><stop offset="32%" stop-color="#70bf5d"/><stop offset="32.99%" stop-color="#7ac25b"/><stop offset="34.04%" stop-color="#70bf5d"/><stop offset="50.72%" stop-color="#70bf5d"/><stop offset="56.54%" stop-color="#6ebe5d"/><stop offset="61.82%" stop-color="#71bf5d"/><stop offset="63.71%" stop-color="#6cbe5d"/><stop offset="64.76%" stop-color="#5aba5f"/><stop offset="65.67%" stop-color="#5fbb5f"/><stop offset="65.97%" stop-color="#74c05d"/><stop offset="66.35%" stop-color="#dbe03a"/><stop offset="66.5%" stop-color="#e8e435"/><stop offset="66.73%" stop-color="#e4e337"/><stop offset="67.1%" stop-color="#86c558"/><stop offset="67.33%" stop-color="#71bf5d"/><stop offset="68.24%" stop-color="#6fbe5d"/><stop offset="72.01%" stop-color="#70bf5d"/><stop offset="80.62%" stop-color="#6ebe5d"/><stop offset="82.88%" stop-color="#6ebe5d"/><stop offset="90.73%" stop-color="#6dbe5d"/><stop offset="99.94%" stop-color="#71bf5d"/></linearGradient>
<linearGradient id="hc9"><stop offset="0%" stop-color="#70bf5d"/><stop offset="11.78%" stop-color="#73bf5d"/><stop offset="17.44%" stop-color="#71bf5d"/><stop offset="19.32%" stop-color="#71bf5d"/><stop offset="19.7%" stop-color="#9bcc53"/><stop offset="20.08%" stop-color="#bfd746"/><stop offset="20.38%" stop-color="#ede533"/><stop offset="20.46%" stop-color="#f6dd2f"/><stop offset="20.68%" stop-color="#f6922d"/><stop offset="21.06%" stop-color="#ee3530"/><stop offset="21.21%" stop-color="#ed2a2a"/><stop offset="21.59%" stop-color="#ed2a2a"/><stop offset="21.66%" stop-color="#ef3f30"/><stop offset="21.74%" stop-color="#f36a2e"/><stop offset="21.81%" stop-color="#f8a22c"/><stop offset="21.89%" stop-color="#ede533"/><stop offset="21.97%" stop-color="#aad14e"/><stop offset="22.04%" stop-color="#6ebe5d"/><stop offset="22.12%" stop-color="#4fb860"/><stop offset="22.27%" stop-color="#5bbc8e"/><stop offset="22.34%" stop-color="#6bc4b2"/><stop offset="22.42%" stop-color="#29a0da"/><stop offset="22.49%" stop-color="#2a67b4"/><stop offset="22.57%" stop-color="#274fa5"/><stop offset="22.8%" stop-color="#3248a3"/><stop offset="22.87%" stop-color="#3f42a4"/><stop offset="23.02%" stop-color="#2f49a3"/><stop offset="23.25%" stop-color="#2656a8"/><stop offset="23.32%" stop-color="#2c8ccd"/><stop offset="23.4%" stop-color="#5bc1c1"/><stop offset="23.48%" stop-color="#5fbe97"/><stop offset="23.63%" stop-color="#4eb865"/><stop offset="23.93%" stop-color="#74c05c"/><stop offset="24.08%" stop-color="#9acc53"/><stop offset="24.15%" stop-color="#a1ce51"/><stop offset="24.38%" stop-color="#74c05d"/><stop offset="24.76%" stop-color="#4db860"/><stop offset="25.14%" stop-color="#6ebe5d"/><stop offset="25.59%" stop-color="#c4d944"/><stop offset="25.74%" stop-color="#e4e337"/><stop offset="25.82%" stop-color="#e8e435"/><stop offset="26.57%" stop-color="#71bf5d"/><stop offset="26.8%" stop-color="#62bc5e"/><stop offset="27.17%" stop-color="#7ac15b"/><stop offset="27.63%" stop-color="#a8d04f"/><stop offset="28.46%" stop-color="#6fbe5d"/><stop offset="29.44%" stop-color="#97cb53"/><stop offset="30.34%" stop-color="#78c15b"/><stop offset="31.1%" stop-color="#8ac757"/><stop offset="32%" stop-color="#70bf5d"/><stop offset="32.99%" stop-color="#7ac15b"/><stop offset="34.04%" stop-color="#70bf5d"/><stop offset="50.72%" stop-color="#70bf5d"/><stop offset="56.54%" stop-color="#6ebe5d"/><stop offset="61.82%" stop-color="#71bf5d"/><stop offset="63.71%" stop-color="#6cbe5d"/><stop offset="64.76%" stop-color="#5cbb5f"/><stop offset="65.67%" stop-color="#61bc5e"/><stop offset="65.97%" stop-color="#76c05c"/><stop offset="66.35%" stop-color="#d6de3c"/><stop offset="66.58%" stop-color="#dee139"/><stop offset="66.73%" stop-color="#d7df3c"/><stop offset="67.1%" stop-color="#7fc35a"/><stop offset="67.41%" stop-color="#70bf5d"/><stop offset="72.01%" stop-color="#70bf5d"/><stop offset="80.62%" stop-color="#6ebe5d"/><stop offset="82.88%" stop-color="#6ebe5d"/><stop offset="90.73%" stop-color="#6dbe5d"/><stop offset="99.94%" stop-color="#71bf5d"/></linearGradient>
<linearGradient id="hc10"><stop offset="0%" stop-color="#70bf5d"/><stop offset="11.78%" stop-color="#73bf5d"/><stop offset="17.44%" stop-color="#71bf5d"/><stop offset="19.32%" stop-color="#71bf5d"/><stop offset="19.78%" stop-color="#a0cd51"/><stop offset="20.08%" stop-color="#bdd746"/><stop offset="20.38%" stop-color="#eae534"/><stop offset="20.46%" stop-color="#f6e12f"/><stop offset="20.68%" stop-color="#f7972d"/><stop offset="21.14%" stop-color="#ee2d2d"/><stop offset="21.59%" stop-color="#ed2a2a"/><stop offset="21.66%" stop-color="#ef3e30"/><stop offset="21.74%" stop-color="#f2692e"/><stop offset="21.81%" stop-color="#f79e2d"/><stop offset="21.89%" stop-color="#f1e731"/><stop offset="22.04%" stop-color="#71bf5d"/><stop offset="22.12%" stop-color="#52b960"/><stop offset="22.27%" stop-color="#59bb8a"/><stop offset="22.34%" stop-color="#68c3ad"/><stop offset="22.42%" stop-color="#26aee3"/><stop offset="22.49%" stop-color="#2b6eb9"/><stop offset="22.57%" stop-color="#2650a5"/><stop offset="22.8%" stop-color="#2f49a3"/><stop offset="22.87%" stop-color="#3a44a4"/><stop offset="23.25%" stop-color="#2655a8"/><stop offset="23.32%" stop-color="#2d8acc"/><stop offset="23.4%" stop-color="#56c0c4"/><stop offset="23.48%" stop-color="#60bf99"/><stop offset="23.63%" stop-color="#4fb866"/><stop offset="23.85%" stop-color="#69bd5e"/><stop offset="23.93%" stop-color="#72bf5d"/><stop offset="24.08%" stop-color="#98cb53"/><stop offset="24.15%" stop-color="#a1ce51"/><stop offset="24.46%" stop-color="#6cbe5d"/><stop offset="24.76%" stop-color="#4eb860"/><stop offset="24.98%" stop-color="#5ebb5f"/><stop offset="25.21%" stop-color="#78c15b"/><stop offset="25.66%" stop-color="#d2dd3e"/><stop offset="25.74%" stop-color="#e2e238"/><stop offset="25.82%" stop-color="#e8e435"/><stop offset="26.57%" stop-color="#72bf5d"/><stop offset="26.8%" stop-color="#62bc5e"/><stop offset="27.17%" stop-color="#79c15b"/><stop offset="27.63%" stop-color="#a7d04f"/><stop offset="28.46%" stop-color="#6fbf5d"/><stop offset="29.44%" stop-color="#97cb54"/><stop offset="30.34%" stop-color="#78c15b"/><stop offset="31.1%" stop-color="#8ac757"/><stop offset="32%" stop-color="#70bf5d"/><stop offset="32.99%" stop-color="#7ac15b"/><stop offset="34.12%" stop-color="#70bf5d"/><stop offset="50.72%" stop-color="#70bf5d"/><stop offset="56.54%" stop-color="#6ebe5d"/><stop offset="61.82%" stop-color="#71bf5d"/><stop offset="63.63%" stop-color="#6dbe5d"/><stop offset="64.69%" stop-color="#5aba5f"/><stop offset="65.67%" stop-color="#60bc5e"/><stop offset="65.97%" stop-color="#7cc25b"/><stop offset="66.35%" stop-color="#e2e238"/><stop offset="66.58%" stop-color="#e7e436"/><stop offset="66.73%" stop-color="#dce03a"/><stop offset="67.1%" stop-color="#7ec35a"/><stop offset="67.41%" stop-color="#6fbe5d"/><stop offset="72.01%" stop-color="#70bf5d"/><stop offset="80.62%" stop-color="#6ebe5d"/><stop offset="82.88%" stop-color="#6ebe5d"/><stop offset="90.73%" stop-color="#6dbe5d"/><stop offset="99.94%" stop-color="#71bf5d"/></linearGradient>
<linearGradient id="hc11"><stop offset="0%" stop-color="#70bf5d"/><stop offset="11.78%" stop-color="#73bf5d"/><stop offset="17.44%" stop-color="#71bf5d"/><stop offset="19.32%" stop-color="#71bf5d"/><stop offset="19.78%" stop-color="#9ecd52"/><stop offset="20.08%" stop-color="#bad647"/><stop offset="20.46%" stop-color="#f5e630"/><stop offset="20.68%" stop-color="#f79d2d"/><stop offset="21.14%" stop-color="#ee3030"/><stop offset="21.51%" stop-color="#ed2a2a"/><stop offset="21.59%" stop-color="#ed2a2a"/><stop offset="21.66%" stop-color="#ef412f"/><stop offset="21.74%" stop-color="#f36a2e"/><stop offset="21.81%" stop-color="#f79e2d"/><stop offset="21.89%" stop-color="#f4e830"/><stop offset="22.04%" stop-color="#76c05c"/><stop offset="22.12%" stop-color="#55ba5f"/><stop offset="22.19%" stop-color="#52b971"/><stop offset="22.27%" stop-color="#57bb86"/><stop offset="22.34%" stop-color="#66c2a7"/><stop offset="22.42%" stop-color="#31b7de"/><stop offset="22.49%" stop-color="#2d77c0"/><stop offset="22.57%" stop-color="#2551a5"/><stop offset="22.87%" stop-color="#3347a3"/><stop offset="23.17%" stop-color="#294ea4"/><stop offset="23.25%" stop-color="#2657a9"/><stop offset="23.32%" stop-color="#2c8ccd"/><stop offset="23.4%" stop-color="#56c0c4"/><stop offset="23.48%" stop-color="#60bf9a"/><stop offset="23.63%" stop-color="#4fb968"/><stop offset="23.78%" stop-color="#5fbb5f"/><stop offset="23.93%" stop-color="#71bf5d"/><stop offset="24.15%" stop-color="#a2ce51"/><stop offset="24.46%" stop-color="#6dbe5d"/><stop offset="24.76%" stop-color="#4fb860"/><stop offset="24.91%" stop-color="#56ba5f"/><stop offset="25.21%" stop-color="#77c05c"/><stop offset="25.74%" stop-color="#dee139"/><stop offset="25.82%" stop-color="#e6e336"/><stop offset="26.57%" stop-color="#72bf5d"/><stop offset="26.8%" stop-color="#62bc5e"/><stop offset="27.25%" stop-color="#7fc35a"/><stop offset="27.63%" stop-color="#a5cf50"/><stop offset="28.46%" stop-color="#70bf5d"/><stop offset="29.44%" stop-color="#96ca54"/><stop offset="30.34%" stop-color="#78c15b"/><stop offset="31.1%" stop-color="#8ac657"/><stop offset="32%" stop-color="#70bf5d"/><stop offset="32.99%" stop-color="#7ac15b"/><stop offset="34.12%" stop-color="#70bf5d"/><stop offset="50.72%" stop-color="#70bf5d"/><stop offset="56.54%" stop-color="#6ebe5d"/><stop offset="61.82%" stop-color="#71bf5d"/><stop offset="63.63%" stop-color="#6cbe5d"/><stop offset="64.69%" stop-color="#5aba5f"/><stop offset="65.59%" stop-color="#5fbb5f"/><stop offset="65.9%" stop-color="#72bf5d"/><stop offset="66.05%" stop-color="#96ca54"/><stop offset="66.27%" stop-color="#d7df3c"/><stop offset="66.35%" stop-color="#e4e337"/><stop offset="66.58%" stop-color="#e8e435"/><stop offset="66.65%" stop-color="#e5e336"/><stop offset="66.88%" stop-color="#b4d44a"/><stop offset="67.03%" stop-color="#8bc757"/><stop offset="67.18%" stop-color="#77c15c"/><stop offset="67.71%" stop-color="#6cbe5d"/><stop offset="71.94%" stop-color="#71bf5d"/><stop offset="80.77%" stop-color="#6ebe5d"/><stop offset="82.8%" stop-color="#6fbe5d"/><stop offset="90.81%" stop-color="#6dbe5d"/><stop offset="99.94%" stop-color="#71bf5d"/></linearGradient>
<linearGradient id="hc12"><stop offset="0%" stop-color="#70bf5d"/><stop offset="11.78%" stop-color="#73bf5d"/><stop offset="17.44%" stop-color="#71bf5d"/><stop offset="19.32%" stop-color="#71bf5d"/><stop offset="19.78%" stop-color="#9dcc52"/><stop offset="20.08%" stop-color="#b8d549"/><stop offset="20.46%" stop-color="#f2e731"/><stop offset="20.76%" stop-color="#f6932d"/><stop offset="21.14%" stop-color="#ef3830"/><stop offset="21.21%" stop-color="#ed2c2c"/><stop offset="21.59%" stop-color="#ed2c2c"/><stop offset="21.66%" stop-color="#f0452f"/><stop offset="21.74%" stop-color="#f36e2e"/><stop offset="21.81%" stop-color="#f7a02d"/><stop offset="21.89%" stop-color="#f5e730"/><stop offset="22.04%" stop-color="#7ac25b"/><stop offset="22.12%" stop-color="#58ba5f"/><stop offset="22.19%" stop-color="#51b96e"/><stop offset="22.27%" stop-color="#57bb83"/><stop offset="22.34%" stop-color="#63c1a1"/><stop offset="22.42%" stop-color="#43bbd1"/><stop offset="22.49%" stop-color="#2e83c8"/><stop offset="22.57%" stop-color="#2759ab"/><stop offset="22.72%" stop-color="#2b4ca4"/><stop offset="23.1%" stop-color="#2c4ca4"/><stop offset="23.17%" stop-color="#284ea4"/><stop offset="23.25%" stop-color="#275cac"/><stop offset="23.32%" stop-color="#2c92d1"/><stop offset="23.4%" stop-color="#59c0c2"/><stop offset="23.48%" stop-color="#60bf99"/><stop offset="23.63%" stop-color="#4fb968"/><stop offset="23.78%" stop-color="#5ebb5f"/><stop offset="23.93%" stop-color="#71bf5d"/><stop offset="24.15%" stop-color="#a1ce51"/><stop offset="24.46%" stop-color="#6dbe5d"/><stop offset="24.76%" stop-color="#50b960"/><stop offset="24.91%" stop-color="#56ba5f"/><stop offset="25.21%" stop-color="#75c05c"/><stop offset="25.82%" stop-color="#e4e337"/><stop offset="26.57%" stop-color="#73bf5d"/><stop offset="26.8%" stop-color="#62bc5e"/><stop offset="27.25%" stop-color="#7ec35a"/><stop offset="27.63%" stop-color="#a3ce50"/><stop offset="28.46%" stop-color="#70bf5d"/><stop offset="29.51%" stop-color="#93c955"/><stop offset="30.34%" stop-color="#78c15c"/><stop offset="31.1%" stop-color="#89c657"/><stop offset="32.08%" stop-color="#70bf5d"/><stop offset="32.99%" stop-color="#7ac15b"/><stop offset="34.12%" stop-color="#70bf5d"/><stop offset="50.72%" stop-color="#70bf5d"/><stop offset="56.54%" stop-color="#6ebe5d"/><stop offset="61.82%" stop-color="#71bf5d"/><stop offset="63.63%" stop-color="#6cbe5d"/><stop offset="64.61%" stop-color="#59ba5f"/><stop offset="65.59%" stop-color="#5fbb5f"/><stop offset="65.9%" stop-color="#74c05c"/><stop offset="66.27%" stop-color="#dee139"/><stop offset="66.43%" stop-color="#ebe534"/><stop offset="66.65%" stop-color="#e8e435"/><stop offset="67.03%" stop-color="#87c658"/><stop offset="67.26%" stop-color="#71bf5d"/><stop offset="68.16%" stop-color="#6fbe5d"/><stop offset="72.01%" stop-color="#70bf5d"/><stop offset="80.62%" stop-color="#6ebe5d"/><stop offset="82.88%" stop-color="#6ebe5d"/><stop offset="90.73%" stop-color="#6dbe5d"/><stop offset="99.94%" stop-color="#71bf5d"/></linearGradient>
<linearGradient id="hc13"><stop offset="0%" stop-color="#70bf5d"/><stop offset="11.78%" stop-color="#73bf5d"/><stop offset="17.44%" stop-color="#71bf5d"/><stop offset="19.32%" stop-color="#71bf5d"/><stop offset="19.78%" stop-color="#9bcc52"/><stop offset="20.08%" stop-color="#b5d44a"/><stop offset="20.46%" stop-color="#ede633"/><stop offset="20.53%" stop-color="#f6da2f"/><stop offset="20.76%" stop-color="#f79a2d"/><stop offset="21.21%" stop-color="#ee2e2e"/><stop offset="21.59%" stop-color="#ee2d2d"/><stop offset="21.66%" stop-color="#f04a2f"/><stop offset="21.81%" stop-color="#f8a22c"/><stop offset="21.89%" stop-color="#f5e630"/><stop offset="22.04%" stop-color="#7ec35a"/><stop offset="22.12%" stop-color="#5bbb5f"/><stop offset="22.19%" stop-color="#50b96c"/><stop offset="22.34%" stop-color="#61c09c"/><stop offset="22.42%" stop-color="#54bfc6"/><stop offset="22.49%" stop-color="#2b93d2"/><stop offset="22.57%" stop-color="#2964b2"/><stop offset="22.64%" stop-color="#274fa5"/><stop offset="23.1%" stop-color="#2b4ca4"/><stop offset="23.17%" stop-color="#284fa4"/><stop offset="23.25%" stop-color="#2860b0"/><stop offset="23.32%" stop-color="#2a98d4"/><stop offset="23.4%" stop-color="#5dc1c0"/><stop offset="23.48%" stop-color="#5fbf99"/><stop offset="23.63%" stop-color="#4fb969"/><stop offset="23.78%" stop-color="#5ebb5f"/><stop offset="24%" stop-color="#7fc35a"/><stop offset="24.15%" stop-color="#a1ce51"/><stop offset="24.46%" stop-color="#6ebe5d"/><stop offset="24.83%" stop-color="#4fb860"/><stop offset="25.21%" stop-color="#74c05c"/><stop offset="25.82%" stop-color="#e2e238"/><stop offset="26.57%" stop-color="#73bf5d"/><stop offset="26.8%" stop-color="#62bc5e"/><stop offset="27.25%" stop-color="#7ec35a"/><stop offset="27.63%" stop-color="#a1ce51"/><stop offset="28.46%" stop-color="#70bf5d"/><stop offset="29.51%" stop-color="#93c955"/><stop offset="30.34%" stop-color="#77c15c"/><stop offset="31.17%" stop-color="#88c657"/><stop offset="32.08%" stop-color="#70bf5d"/><stop offset="33.06%" stop-color="#78c15b"/><stop offset="34.19%" stop-color="#70bf5d"/><stop offset="50.72%" stop-color="#70bf5d"/><stop offset="56.54%" stop-color="#6ebe5d"/><stop offset="61.82%" stop-color="#71bf5d"/><stop offset="63.56%" stop-color="#6ebe5d"/><stop offset="64.61%" stop-color="#58ba5f"/><stop offset="65.59%" stop-color="#5ebb5f"/><stop offset="65.9%" stop-color="#77c05c"/><stop offset="66.27%" stop-color="#e5e336"/><stop offset="66.5%" stop-color="#f0e632"/><stop offset="66.65%" stop-color="#ebe534"/><stop offset="67.03%" stop-color="#84c558"/><stop offset="67.33%" stop-color="#70bf5d"/><stop offset="68.31%" stop-color="#70bf5d"/><stop offset="72.01%" stop-color="#70bf5d"/><stop offset="80.62%" stop-color="#6ebe5d"/><stop offset="82.88%" stop-color="#6ebe5d"/><stop offset="90.73%" stop-color="#6dbe5d"/><stop offset="99.94%" stop-color="#71bf5d"/></linearGradient>
<linearGradient id="hc14"><stop offset="0%" stop-color="#70bf5d"/><stop offset="11.78%" stop-color="#73bf5d"/><stop offset="17.44%" stop-color="#71bf5d"/><stop offset="19.32%" stop-color="#70bf5d"/><stop offset="19.85%" stop-color="#9ecd52"/><stop offset="20.15%" stop-color="#bcd647"/><stop offset="20.53%" stop-color="#f5e230"/><stop offset="20.76%" stop-color="#f8a42c"/><stop offset="21.14%" stop-color="#f04e2f"/><stop offset="21.21%" stop-color="#ef3830"/><stop offset="21.29%" stop-color="#ed2c2c"/><stop offset="21.51%" stop-color="#ed2b2b"/><stop offset="21.59%" stop-color="#ee3130"/><stop offset="21.74%" stop-color="#f47a2e"/><stop offset="21.81%" stop-color="#f8a82c"/><stop offset="21.89%" stop-color="#f5e830"/><stop offset="22.04%" stop-color="#80c459"/><stop offset="22.12%" stop-color="#5dbb5f"/><stop offset="22.19%" stop-color="#50b969"/><stop offset="22.34%" stop-color="#5ebe96"/><stop offset="22.42%" stop-color="#6ac4b7"/><stop offset="22.49%" stop-color="#27a9df"/><stop offset="22.57%" stop-color="#2c72bc"/><stop offset="22.64%" stop-color="#2651a5"/><stop offset="23.1%" stop-color="#294da4"/><stop offset="23.17%" stop-color="#2750a5"/><stop offset="23.25%" stop-color="#2a6ab7"/><stop offset="23.32%" stop-color="#28a6dd"/><stop offset="23.4%" stop-color="#68c4b8"/><stop offset="23.55%" stop-color="#55ba7d"/><stop offset="23.63%" stop-color="#4fb969"/><stop offset="23.78%" stop-color="#5ebb5f"/><stop offset="24%" stop-color="#7ec35a"/><stop offset="24.15%" stop-color="#a0cd51"/><stop offset="24.46%" stop-color="#6ebe5d"/><stop offset="24.83%" stop-color="#50b960"/><stop offset="25.21%" stop-color="#73bf5d"/><stop offset="25.74%" stop-color="#d2dd3e"/><stop offset="25.82%" stop-color="#dee139"/><stop offset="26.57%" stop-color="#74c05d"/><stop offset="26.8%" stop-color="#62bc5e"/><stop offset="27.25%" stop-color="#7dc25a"/><stop offset="27.63%" stop-color="#9fcd51"/><stop offset="28.46%" stop-color="#70bf5d"/><stop offset="29.51%" stop-color="#92c955"/><stop offset="30.34%" stop-color="#77c15c"/><stop offset="31.17%" stop-color="#87c658"/><stop offset="32.08%" stop-color="#70bf5d"/><stop offset="33.06%" stop-color="#78c15c"/><stop offset="34.19%" stop-color="#70bf5d"/><stop offset="50.72%" stop-color="#70bf5d"/><stop offset="56.54%" stop-color="#6ebe5d"/><stop offset="61.82%" stop-color="#71bf5d"/><stop offset="63.56%" stop-color="#6dbe5d"/><stop offset="64.61%" stop-color="#58ba5f"/><stop offset="65.59%" stop-color="#5ebb5f"/><stop offset="65.9%" stop-color="#79c15b"/><stop offset="66.27%" stop-color="#ece534"/><stop offset="66.5%" stop-color="#f4e831"/><stop offset="66.65%" stop-color="#ece534"/><stop offset="67.03%" stop-color="#82c459"/><stop offset="67.33%" stop-color="#6fbf5d"/><stop offset="68.24%" stop-color="#70bf5d"/><stop offset="72.01%" stop-color="#70bf5d"/><stop offset="80.62%" stop-color="#6ebe5d"/><stop offset="82.88%" stop-color="#6ebe5d"/><stop offset="90.73%" stop-color="#6dbe5d"/><stop offset="99.94%" stop-color="#71bf5d"/></linearGradient>
<linearGradient id="hc15"><stop offset="0%" stop-color="#70bf5d"/><stop offset="11.78%" stop-color="#73bf5d"/><stop offset="17.44%" stop-color="#71bf5d"/><stop offset="19.32%" stop-color="#70bf5d"/><stop offset="19.85%" stop-color="#9dcc52"/><stop offset="20.15%" stop-color="#b9d548"/><stop offset="20.46%" stop-color="#e3e337"/><stop offset="20.53%" stop-color="#f5e830"/><stop offset="20.76%" stop-color="#f8aa2c"/><stop offset="21.14%" stop-color="#f1562f"/><stop offset="21.29%" stop-color="#ee2f2f"/><stop offset="21.51%" stop-color="#ee2d2d"/><stop offset="21.59%" stop-color="#ef3830"/><stop offset="21.74%" stop-color="#f47f2e"/><stop offset="21.81%" stop-color="#f8ac2c"/><stop offset="21.89%" stop-color="#f4e831"/><stop offset="22.04%" stop-color="#82c459"/><stop offset="22.12%" stop-color="#5fbb5f"/><stop offset="22.19%" stop-color="#4fb967"/><stop offset="22.34%" stop-color="#5cbd92"/><stop offset="22.42%" stop-color="#6ac4b1"/><stop offset="22.49%" stop-color="#28b5e4"/><stop offset="22.57%" stop-color="#2e7bc2"/><stop offset="22.64%" stop-color="#2656a8"/><stop offset="22.95%" stop-color="#2b4ca4"/><stop offset="23.17%" stop-color="#2650a5"/><stop offset="23.25%" stop-color="#2c70bb"/><stop offset="23.32%" stop-color="#26aee2"/><stop offset="23.4%" stop-color="#6cc5b4"/><stop offset="23.55%" stop-color="#55ba7c"/><stop offset="23.63%" stop-color="#4fb969"/><stop offset="23.78%" stop-color="#5ebb5f"/><stop offset="24%" stop-color="#7dc25a"/><stop offset="24.15%" stop-color="#9ecd52"/><stop offset="24.46%" stop-color="#6ebe5d"/><stop offset="24.83%" stop-color="#51b960"/><stop offset="25.21%" stop-color="#73bf5d"/><stop offset="25.74%" stop-color="#cfdc3f"/><stop offset="25.82%" stop-color="#dce03a"/><stop offset="26.65%" stop-color="#6ebe5d"/><stop offset="26.8%" stop-color="#63bc5e"/><stop offset="27.25%" stop-color="#7cc25a"/><stop offset="27.63%" stop-color="#9ecd52"/><stop offset="28.53%" stop-color="#70bf5d"/><stop offset="29.51%" stop-color="#91c955"/><stop offset="30.34%" stop-color="#77c15c"/><stop offset="31.17%" stop-color="#87c558"/><stop offset="32.08%" stop-color="#70bf5d"/><stop offset="33.06%" stop-color="#77c15c"/><stop offset="34.27%" stop-color="#70bf5d"/><stop offset="50.72%" stop-color="#70bf5d"/><stop offset="56.54%" stop-color="#6ebe5d"/><stop offset="61.82%" stop-color="#71bf5d"/><stop offset="63.56%" stop-color="#6dbe5d"/><stop offset="64.61%" stop-color="#58ba5f"/><stop offset="65.52%" stop-color="#5dbb5f"/><stop offset="65.82%" stop-color="#70bf5d"/><stop offset="65.9%" stop-color="#7bc25b"/><stop offset="66.27%" stop-color="#ede533"/><stop offset="66.5%" stop-color="#f3e731"/><stop offset="66.65%" stop-color="#e9e435"/><stop offset="67.03%" stop-color="#80c359"/><stop offset="67.33%" stop-color="#6fbe5d"/><stop offset="68.24%" stop-color="#70bf5d"/><stop offset="72.01%" stop-color="#70bf5d"/><stop offset="80.62%" stop-color="#6ebe5d"/><stop offset="82.88%" stop-color="#6ebe5d"/><stop offset="90.73%" stop-color="#6dbe5d"/><stop offset="99.94%" stop-color="#71bf5d"/></linearGradient>
<linearGradient id="hc16"><stop offset="0%" stop-color="#70bf5d"/><stop offset="11.78%" stop-color="#73bf5d"/><stop offset="17.44%" stop-color="#71bf5d"/><stop offset="19.32%" stop-color="#70bf5d"/><stop offset="19.93%" stop-color="#9fcd51"/><stop offset="20.3%" stop-color="#c8da42"/><stop offset="20.53%" stop-color="#eee633"/><stop offset="20.61%" stop-color="#f6db2f"/><stop offset="21.21%" stop-color="#f1502f"/><stop offset="21.29%" stop-color="#ef3c30"/><stop offset="21.44%" stop-color="#ee3030"/><stop offset="21.51%" stop-color="#ee3630"/><stop offset="21.59%" stop-color="#f0462f"/><stop offset="21.74%" stop-color="#f58a2d"/><stop offset="21.81%" stop-color="#f9b52c"/><stop offset="21.89%" stop-color="#efe632"/><stop offset="22.04%" stop-color="#83c459"/><stop offset="22.12%" stop-color="#60bc5e"/><stop offset="22.19%" stop-color="#4eb865"/><stop offset="22.34%" stop-color="#59bc8b"/><stop offset="22.42%" stop-color="#67c2a9"/><stop offset="22.49%" stop-color="#41bbd2"/><stop offset="22.57%" stop-color="#2c92d1"/><stop offset="22.64%" stop-color="#2a66b4"/><stop offset="22.72%" stop-color="#2651a5"/><stop offset="23.1%" stop-color="#2750a5"/><stop offset="23.17%" stop-color="#2656a9"/><stop offset="23.25%" stop-color="#2f7dc4"/><stop offset="23.32%" stop-color="#33b7dc"/><stop offset="23.4%" stop-color="#69c3ae"/><stop offset="23.55%" stop-color="#54ba7a"/><stop offset="23.63%" stop-color="#4fb968"/><stop offset="23.78%" stop-color="#5fbb5f"/><stop offset="24%" stop-color="#7bc25b"/><stop offset="24.15%" stop-color="#9bcc53"/><stop offset="24.46%" stop-color="#6fbe5d"/><stop offset="24.83%" stop-color="#52b960"/><stop offset="25.21%" stop-color="#72bf5d"/><stop offset="25.82%" stop-color="#d7df3c"/><stop offset="26.65%" stop-color="#6ebe5d"/><stop offset="26.8%" stop-color="#64bc5e"/><stop offset="27.25%" stop-color="#7bc25b"/><stop offset="27.63%" stop-color="#9bcc52"/><stop offset="28.53%" stop-color="#70bf5d"/><stop offset="29.51%" stop-color="#8fc856"/><stop offset="30.34%" stop-color="#77c05c"/><stop offset="31.17%" stop-color="#86c558"/><stop offset="32.08%" stop-color="#70bf5d"/><stop offset="33.06%" stop-color="#77c15c"/><stop offset="34.34%" stop-color="#70bf5d"/><stop offset="50.72%" stop-color="#70bf5d"/><stop offset="56.54%" stop-color="#6ebe5d"/><stop offset="61.82%" stop-color="#71bf5d"/><stop offset="63.56%" stop-color="#6cbe5d"/><stop offset="64.54%" stop-color="#56ba5f"/><stop offset="65.44%" stop-color="#5aba5f"/><stop offset="65.67%" stop-color="#64bc5e"/><stop offset="65.9%" stop-color="#7ec35a"/><stop offset="66.2%" stop-color="#e5e336"/><stop offset="66.27%" stop-color="#f5e230"/><stop offset="66.5%" stop-color="#f6db2f"/><stop offset="66.65%" stop-color="#f3e831"/><stop offset="67.03%" stop-color="#81c459"/><stop offset="67.33%" stop-color="#6fbe5d"/><stop offset="68.16%" stop-color="#6fbe5d"/><stop offset="72.01%" stop-color="#70bf5d"/><stop offset="80.62%" stop-color="#6ebe5d"/><stop offset="82.88%" stop-color="#6ebe5d"/><stop offset="90.73%" stop-color="#6dbe5d"/><stop offset="99.94%" stop-color="#71bf5d"/></linearGradient>
<linearGradient id="hc17"><stop offset="0%" stop-color="#70bf5d"/><stop offset="11.78%" stop-color="#73bf5d"/><stop offset="17.44%" stop-color="#71bf5d"/><stop offset="19.32%" stop-color="#70bf5d"/><stop offset="20.15%" stop-color="#b2d34b"/><stop offset="20.46%" stop-color="#d9df3b"/><stop offset="20.61%" stop-color="#f6e12f"/><stop offset="20.91%" stop-color="#f79f2d"/><stop offset="21.29%" stop-color="#f0452f"/><stop offset="21.44%" stop-color="#ef3930"/><stop offset="21.51%" stop-color="#ef3f30"/><stop offset="21.59%" stop-color="#f04f2f"/><stop offset="21.74%" stop-color="#f6912d"/><stop offset="21.81%" stop-color="#f8ba2d"/><stop offset="21.89%" stop-color="#ece533"/><stop offset="22.04%" stop-color="#84c559"/><stop offset="22.12%" stop-color="#61bc5e"/><stop offset="22.19%" stop-color="#4eb864"/><stop offset="22.34%" stop-color="#58bb88"/><stop offset="22.42%" stop-color="#65c1a5"/><stop offset="22.49%" stop-color="#50bec9"/><stop offset="22.57%" stop-color="#29a1da"/><stop offset="22.64%" stop-color="#2c70bb"/><stop offset="22.72%" stop-color="#2655a8"/><stop offset="23.02%" stop-color="#274fa5"/><stop offset="23.1%" stop-color="#2650a5"/><stop offset="23.17%" stop-color="#285faf"/><stop offset="23.25%" stop-color="#2d89cb"/><stop offset="23.32%" stop-color="#3fbad4"/><stop offset="23.4%" stop-color="#67c3aa"/><stop offset="23.48%" stop-color="#5abc8d"/><stop offset="23.63%" stop-color="#4fb967"/><stop offset="23.78%" stop-color="#5fbb5f"/><stop offset="24%" stop-color="#7bc25b"/><stop offset="24.15%" stop-color="#9acb53"/><stop offset="24.53%" stop-color="#69bd5e"/><stop offset="24.83%" stop-color="#52b960"/><stop offset="25.21%" stop-color="#72bf5d"/><stop offset="25.82%" stop-color="#d4de3d"/><stop offset="26.65%" stop-color="#6ebe5d"/><stop offset="26.8%" stop-color="#64bc5e"/><stop offset="27.25%" stop-color="#7bc25b"/><stop offset="27.63%" stop-color="#9acc53"/><stop offset="28.53%" stop-color="#6fbf5d"/><stop offset="29.51%" stop-color="#8fc856"/><stop offset="30.34%" stop-color="#76c05c"/><stop offset="31.17%" stop-color="#85c558"/><stop offset="32.08%" stop-color="#70bf5d"/><stop offset="33.14%" stop-color="#76c05c"/><stop offset="34.57%" stop-color="#71bf5d"/><stop offset="50.72%" stop-color="#70bf5d"/><stop offset="56.54%" stop-color="#6ebe5d"/><stop offset="61.82%" stop-color="#71bf5d"/><stop offset="63.56%" stop-color="#6cbe5d"/><stop offset="64.54%" stop-color="#55ba5f"/><stop offset="65.44%" stop-color="#5aba5f"/><stop offset="65.67%" stop-color="#64bc5e"/><stop offset="65.82%" stop-color="#71bf5d"/><stop offset="65.9%" stop-color="#80c35a"/><stop offset="66.2%" stop-color="#e9e435"/><stop offset="66.27%" stop-color="#f6de2f"/><stop offset="66.5%" stop-color="#f6d72f"/><stop offset="66.65%" stop-color="#f5e830"/><stop offset="67.03%" stop-color="#81c459"/><stop offset="67.33%" stop-color="#6fbe5d"/><stop offset="68.16%" stop-color="#6fbe5d"/><stop offset="72.01%" stop-color="#70bf5d"/><stop offset="80.62%" stop-color="#6ebe5d"/><stop offset="82.88%" stop-color="#6ebe5d"/><stop offset="90.73%" stop-color="#6dbe5d"/><stop offset="99.94%" stop-color="#71bf5d"/></linearGradient>
<linearGradient id="hc18"><stop offset="0%" stop-color="#70bf5d"/><stop offset="11.78%" stop-color="#73bf5d"/><stop offset="17.44%" stop-color="#71bf5d"/><stop offset="19.32%" stop-color="#70bf5d"/><stop offset="20.15%" stop-color="#b1d34b"/><stop offset="20.46%" stop-color="#d8df3c"/><stop offset="20.61%" stop-color="#f5e330"/><stop offset="20.91%" stop-color="#f8a32c"/><stop offset="21.29%" stop-color="#f0492f"/><stop offset="21.44%" stop-color="#ef3d30"/><stop offset="21.59%" stop-color="#f1522f"/><stop offset="21.74%" stop-color="#f6932d"/><stop offset="21.81%" stop-color="#f8bc2d"/><stop offset="21.89%" stop-color="#ebe534"/><stop offset="22.04%" stop-color="#84c558"/><stop offset="22.12%" stop-color="#62bc5e"/><stop offset="22.19%" stop-color="#4eb863"/><stop offset="22.34%" stop-color="#58bb87"/><stop offset="22.42%" stop-color="#64c1a3"/><stop offset="22.49%" stop-color="#56c0c4"/><stop offset="22.57%" stop-color="#27a7de"/><stop offset="22.64%" stop-color="#2d74bd"/><stop offset="22.72%" stop-color="#275aab"/><stop offset="22.87%" stop-color="#274fa5"/><stop offset="23.1%" stop-color="#2551a5"/><stop offset="23.17%" stop-color="#2963b1"/><stop offset="23.25%" stop-color="#2c8fcf"/><stop offset="23.32%" stop-color="#44bcd0"/><stop offset="23.4%" stop-color="#67c2a9"/><stop offset="23.48%" stop-color="#5abc8c"/><stop offset="23.63%" stop-color="#4fb967"/><stop offset="23.78%" stop-color="#5fbb5f"/><stop offset="24%" stop-color="#7ac25b"/><stop offset="24.15%" stop-color="#99cb53"/><stop offset="24.53%" stop-color="#69bd5e"/><stop offset="24.83%" stop-color="#53b960"/><stop offset="25.21%" stop-color="#72bf5d"/><stop offset="25.82%" stop-color="#d2dd3e"/><stop offset="26.65%" stop-color="#6ebe5d"/><stop offset="26.8%" stop-color="#64bc5e"/><stop offset="27.32%" stop-color="#81c459"/><stop offset="27.63%" stop-color="#99cb53"/><stop offset="28.53%" stop-color="#6fbf5d"/><stop offset="29.51%" stop-color="#8ec856"/><stop offset="30.34%" stop-color="#76c05c"/><stop offset="31.17%" stop-color="#85c558"/><stop offset="32.08%" stop-color="#70bf5d"/><stop offset="33.14%" stop-color="#75c05c"/><stop offset="34.57%" stop-color="#71bf5d"/><stop offset="50.72%" stop-color="#70bf5d"/><stop offset="56.54%" stop-color="#6ebe5d"/><stop offset="61.82%" stop-color="#71bf5d"/><stop offset="63.56%" stop-color="#6cbe5d"/><stop offset="64.54%" stop-color="#54b95f"/><stop offset="65.44%" stop-color="#59ba5f"/><stop offset="65.67%" stop-color="#64bc5e"/><stop offset="65.82%" stop-color="#71bf5d"/><stop offset="65.9%" stop-color="#81c459"/><stop offset="66.2%" stop-color="#ece533"/><stop offset="66.27%" stop-color="#f6d92f"/><stop offset="66.43%" stop-color="#f7d02e"/><stop offset="66.58%" stop-color="#f6d62f"/><stop offset="66.65%" stop-color="#f5e430"/><stop offset="66.8%" stop-color="#cbdb41"/><stop offset="67.03%" stop-color="#81c459"/><stop offset="67.33%" stop-color="#6fbe5d"/><stop offset="68.16%" stop-color="#6fbe5d"/><stop offset="72.01%" stop-color="#70bf5d"/><stop offset="80.62%" stop-color="#6ebe5d"/><stop offset="82.88%" stop-color="#6ebe5d"/><stop offset="90.73%" stop-color="#6dbe5d"/><stop offset="99.94%" stop-color="#71bf5d"/></linearGradient>
<linearGradient id="hc19"><stop offset="0%" stop-color="#70bf5d"/><stop offset="11.78%" stop-color="#73bf5d"/><stop offset="17.44%" stop-color="#71bf5d"/><stop offset="19.4%" stop-color="#73bf5d"/><stop offset="19.85%" stop-color="#97cb54"/><stop offset="20.15%" stop-color="#afd24c"/><stop offset="20.46%" stop-color="#d4de3d"/><stop offset="20.61%" stop-color="#f4e830"/><stop offset="21.14%" stop-color="#f47a2e"/><stop offset="21.29%" stop-color="#f1532f"/><stop offset="21.44%" stop-color="#f0472f"/><stop offset="21.59%" stop-color="#f15c2f"/><stop offset="21.74%" stop-color="#f79c2d"/><stop offset="21.81%" stop-color="#f8c32d"/><stop offset="21.89%" stop-color="#e7e436"/><stop offset="22.04%" stop-color="#83c459"/><stop offset="22.12%" stop-color="#62bc5e"/><stop offset="22.19%" stop-color="#4eb862"/><stop offset="22.34%" stop-color="#57bb85"/><stop offset="22.49%" stop-color="#64c3ba"/><stop offset="22.57%" stop-color="#27b5e4"/><stop offset="22.64%" stop-color="#2f7ec4"/><stop offset="22.72%" stop-color="#2964b3"/><stop offset="22.8%" stop-color="#2656a8"/><stop offset="23.02%" stop-color="#2551a5"/><stop offset="23.1%" stop-color="#2758aa"/><stop offset="23.17%" stop-color="#2b6eb9"/><stop offset="23.25%" stop-color="#29a0d9"/><stop offset="23.32%" stop-color="#54bfc6"/><stop offset="23.4%" stop-color="#65c1a4"/><stop offset="23.48%" stop-color="#58bb88"/><stop offset="23.63%" stop-color="#4fb866"/><stop offset="24%" stop-color="#7ac25b"/><stop offset="24.15%" stop-color="#98cb53"/><stop offset="24.53%" stop-color="#69bd5e"/><stop offset="24.83%" stop-color="#54b95f"/><stop offset="25.21%" stop-color="#72bf5d"/><stop offset="25.82%" stop-color="#cfdc3f"/><stop offset="26.65%" stop-color="#6ebe5d"/><stop offset="26.8%" stop-color="#65bc5e"/><stop offset="27.32%" stop-color="#80c359"/><stop offset="27.63%" stop-color="#98cb53"/><stop offset="28.53%" stop-color="#6fbf5d"/><stop offset="29.51%" stop-color="#8dc856"/><stop offset="30.34%" stop-color="#76c05c"/><stop offset="31.17%" stop-color="#85c558"/><stop offset="32.08%" stop-color="#70bf5d"/><stop offset="33.14%" stop-color="#75c05c"/><stop offset="34.72%" stop-color="#71bf5d"/><stop offset="50.72%" stop-color="#70bf5d"/><stop offset="56.54%" stop-color="#6ebe5d"/><stop offset="61.82%" stop-color="#71bf5d"/><stop offset="63.48%" stop-color="#6ebe5d"/><stop offset="64.54%" stop-color="#54b95f"/><stop offset="65.44%" stop-color="#59ba5f"/><stop offset="65.67%" stop-color="#63bc5e"/><stop offset="65.82%" stop-color="#71bf5d"/><stop offset="65.9%" stop-color="#81c459"/><stop offset="66.2%" stop-color="#efe632"/><stop offset="66.27%" stop-color="#f6d52f"/><stop offset="66.43%" stop-color="#f7cb2e"/><stop offset="66.58%" stop-color="#f7d22e"/><stop offset="66.65%" stop-color="#f6df2f"/><stop offset="66.73%" stop-color="#e5e336"/><stop offset="67.03%" stop-color="#82c459"/><stop offset="67.33%" stop-color="#6fbe5d"/><stop offset="68.09%" stop-color="#6ebe5d"/><stop offset="72.01%" stop-color="#70bf5d"/><stop offset="80.62%" stop-color="#6ebe5d"/><stop offset="82.88%" stop-color="#6ebe5d"/><stop offset="90.73%" stop-color="#6dbe5d"/><stop offset="99.94%" stop-color="#71bf5d"/></linearGradient>
<linearGradient id="hc20"><stop offset="0%" stop-color="#70bf5d"/><stop offset="11.78%" stop-color="#73bf5d"/><stop offset="17.44%" stop-color="#71bf5d"/><stop offset="19.32%" stop-color="#70bf5d"/><stop offset="20.15%" stop-color="#b1d34b"/><stop offset="20.46%" stop-color="#d8df3c"/><stop offset="20.61%" stop-color="#f5e430"/><stop offset="21.06%" stop-color="#f5832d"/><stop offset="21.29%" stop-color="#f04b2f"/><stop offset="21.44%" stop-color="#ef3f30"/><stop offset="21.51%" stop-color="#f0452f"/><stop offset="21.59%" stop-color="#f1552f"/><stop offset="21.74%" stop-color="#f6962d"/><stop offset="21.81%" stop-color="#f8be2d"/><stop offset="21.89%" stop-color="#e9e435"/><stop offset="22.04%" stop-color="#82c459"/><stop offset="22.12%" stop-color="#61bc5e"/><stop offset="22.19%" stop-color="#4eb864"/><stop offset="22.34%" stop-color="#58bb87"/><stop offset="22.42%" stop-color="#64c1a3"/><stop offset="22.49%" stop-color="#57c0c4"/><stop offset="22.57%" stop-color="#27a8df"/><stop offset="22.64%" stop-color="#2d75be"/><stop offset="22.72%" stop-color="#275bac"/><stop offset="22.8%" stop-color="#2651a5"/><stop offset="23.1%" stop-color="#2551a5"/><stop offset="23.17%" stop-color="#2966b3"/><stop offset="23.25%" stop-color="#2b93d2"/><stop offset="23.32%" stop-color="#49bdcd"/><stop offset="23.4%" stop-color="#66c2a7"/><stop offset="23.48%" stop-color="#59bc8b"/><stop offset="23.63%" stop-color="#4fb866"/><stop offset="23.85%" stop-color="#67bd5e"/><stop offset="24.08%" stop-color="#8ac657"/><stop offset="24.15%" stop-color="#99cb53"/><stop offset="24.46%" stop-color="#6fbe5d"/><stop offset="24.83%" stop-color="#53b960"/><stop offset="25.21%" stop-color="#72bf5d"/><stop offset="25.82%" stop-color="#d2dd3e"/><stop offset="26.65%" stop-color="#6ebe5d"/><stop offset="26.8%" stop-color="#64bc5e"/><stop offset="27.32%" stop-color="#81c459"/><stop offset="27.63%" stop-color="#99cb53"/><stop offset="28.53%" stop-color="#6fbf5d"/><stop offset="29.51%" stop-color="#8ec856"/><stop offset="30.34%" stop-color="#76c05c"/><stop offset="31.17%" stop-color="#85c558"/><stop offset="32.08%" stop-color="#70bf5d"/><stop offset="33.14%" stop-color="#75c05c"/><stop offset="34.57%" stop-color="#71bf5d"/><stop offset="50.72%" stop-color="#70bf5d"/><stop offset="56.54%" stop-color="#6ebe5d"/><stop offset="61.82%" stop-color="#71bf5d"/><stop offset="63.48%" stop-color="#6ebe5d"/><stop offset="64.54%" stop-color="#52b960"/><stop offset="65.37%" stop-color="#55ba5f"/><stop offset="65.67%" stop-color="#62bc5e"/><stop offset="65.82%" stop-color="#71bf5d"/><stop offset="65.9%" stop-color="#80c359"/><stop offset="66.2%" stop-color="#f5e630"/><stop offset="66.27%" stop-color="#f7c92e"/><stop offset="66.43%" stop-color="#f8bf2d"/><stop offset="66.58%" stop-color="#f8c52d"/><stop offset="66.73%" stop-color="#eee633"/><stop offset="67.03%" stop-color="#84c459"/><stop offset="67.33%" stop-color="#6fbe5d"/><stop offset="68.01%" stop-color="#6ebe5d"/><stop offset="71.94%" stop-color="#71bf5d"/><stop offset="80.77%" stop-color="#6ebe5d"/><stop offset="82.8%" stop-color="#6fbe5d"/><stop offset="90.81%" stop-color="#6dbe5d"/><stop offset="99.94%" stop-color="#71bf5d"/></linearGradient>
<linearGradient id="hc21"><stop offset="0%" stop-color="#70bf5d"/><stop offset="11.78%" stop-color="#73bf5d"/><stop offset="17.44%" stop-color="#71bf5d"/><stop offset="19.32%" stop-color="#70bf5d"/><stop offset="20.15%" stop-color="#b0d24c"/><stop offset="20.46%" stop-color="#d6de3c"/><stop offset="20.61%" stop-color="#f5e630"/><stop offset="21.14%" stop-color="#f4762e"/><stop offset="21.29%" stop-color="#f04f2f"/><stop offset="21.44%" stop-color="#f0442f"/><stop offset="21.51%" stop-color="#f04a2f"/><stop offset="21.59%" stop-color="#f15a2f"/><stop offset="21.74%" stop-color="#f79b2d"/><stop offset="21.81%" stop-color="#f8c32d"/><stop offset="21.89%" stop-color="#e6e336"/><stop offset="22.04%" stop-color="#81c459"/><stop offset="22.12%" stop-color="#60bc5e"/><stop offset="22.19%" stop-color="#4eb864"/><stop offset="22.34%" stop-color="#58bb86"/><stop offset="22.42%" stop-color="#63c1a1"/><stop offset="22.49%" stop-color="#5cc1c0"/><stop offset="22.57%" stop-color="#26aee2"/><stop offset="22.64%" stop-color="#2e79c1"/><stop offset="22.72%" stop-color="#2860b0"/><stop offset="22.8%" stop-color="#2551a5"/><stop offset="23.1%" stop-color="#2655a8"/><stop offset="23.17%" stop-color="#2b6cb8"/><stop offset="23.25%" stop-color="#299dd8"/><stop offset="23.32%" stop-color="#53bfc7"/><stop offset="23.4%" stop-color="#65c1a4"/><stop offset="23.48%" stop-color="#58bb88"/><stop offset="23.63%" stop-color="#4eb865"/><stop offset="24%" stop-color="#7bc25b"/><stop offset="24.15%" stop-color="#99cb53"/><stop offset="24.46%" stop-color="#6ebe5d"/><stop offset="24.83%" stop-color="#54b95f"/><stop offset="25.21%" stop-color="#72bf5d"/><stop offset="25.82%" stop-color="#d0dc3f"/><stop offset="26.65%" stop-color="#6ebe5d"/><stop offset="26.8%" stop-color="#64bc5e"/><stop offset="27.32%" stop-color="#80c459"/><stop offset="27.63%" stop-color="#99cb53"/><stop offset="28.53%" stop-color="#70bf5d"/><stop offset="29.51%" stop-color="#8dc856"/><stop offset="30.34%" stop-color="#76c05c"/><stop offset="31.17%" stop-color="#85c558"/><stop offset="32.08%" stop-color="#70bf5d"/><stop offset="33.14%" stop-color="#75c05c"/><stop offset="34.72%" stop-color="#71bf5d"/><stop offset="50.72%" stop-color="#70bf5d"/><stop offset="56.54%" stop-color="#6ebe5d"/><stop offset="61.82%" stop-color="#71bf5d"/><stop offset="63.56%" stop-color="#6cbe5d"/><stop offset="64.54%" stop-color="#53b95f"/><stop offset="65.44%" stop-color="#58ba5f"/><stop offset="65.67%" stop-color="#62bc5e"/><stop offset="65.9%" stop-color="#7dc25a"/><stop offset="66.2%" stop-color="#ede533"/><stop offset="66.27%" stop-color="#f6d42f"/><stop offset="66.5%" stop-color="#f7cc2e"/><stop offset="66.65%" stop-color="#f6da2f"/><stop offset="66.73%" stop-color="#e9e435"/><stop offset="67.03%" stop-color="#83c459"/><stop offset="67.33%" stop-color="#6fbe5d"/><stop offset="68.09%" stop-color="#6ebe5d"/><stop offset="71.94%" stop-color="#71bf5d"/><stop offset="80.77%" stop-color="#6ebe5d"/><stop offset="82.8%" stop-color="#6fbe5d"/><stop offset="90.81%" stop-color="#6dbe5d"/><stop offset="99.94%" stop-color="#71bf5d"/></linearGradient>
<linearGradient id="hc22"><stop offset="0%" stop-color="#70bf5d"/><stop offset="11.78%" stop-color="#73bf5d"/><stop offset="17.44%" stop-color="#71bf5d"/><stop offset="19.32%" stop-color="#70bf5d"/><stop offset="19.93%" stop-color="#9ccc52"/><stop offset="20.3%" stop-color="#c2d844"/><stop offset="20.53%" stop-color="#e7e436"/><stop offset="20.61%" stop-color="#f5e630"/><stop offset="21.14%" stop-color="#f4762e"/><stop offset="21.29%" stop-color="#f0502f"/><stop offset="21.44%" stop-color="#f0452f"/><stop offset="21.51%" stop-color="#f04b2f"/><stop offset="21.59%" stop-color="#f15c2f"/><stop offset="21.74%" stop-color="#f79d2d"/><stop offset="21.81%" stop-color="#f8c52d"/><stop offset="21.89%" stop-color="#e3e237"/><stop offset="22.04%" stop-color="#7fc35a"/><stop offset="22.12%" stop-color="#5fbb5f"/><stop offset="22.19%" stop-color="#4eb864"/><stop offset="22.34%" stop-color="#58bb87"/><stop offset="22.42%" stop-color="#64c1a2"/><stop offset="22.49%" stop-color="#5bc1c1"/><stop offset="22.57%" stop-color="#26ade2"/><stop offset="22.64%" stop-color="#2e78c0"/><stop offset="22.72%" stop-color="#2860b0"/><stop offset="22.8%" stop-color="#2551a5"/><stop offset="23.1%" stop-color="#2656a9"/><stop offset="23.17%" stop-color="#2b6eb9"/><stop offset="23.25%" stop-color="#29a1da"/><stop offset="23.32%" stop-color="#57c0c4"/><stop offset="23.4%" stop-color="#64c1a3"/><stop offset="23.48%" stop-color="#58bb87"/><stop offset="23.63%" stop-color="#4eb864"/><stop offset="24%" stop-color="#7bc25b"/><stop offset="24.15%" stop-color="#99cb53"/><stop offset="24.46%" stop-color="#6ebe5d"/><stop offset="24.83%" stop-color="#54b95f"/><stop offset="25.21%" stop-color="#72bf5d"/><stop offset="25.82%" stop-color="#cfdc3f"/><stop offset="26.65%" stop-color="#6ebe5d"/><stop offset="26.8%" stop-color="#64bc5e"/><stop offset="27.32%" stop-color="#81c459"/><stop offset="27.63%" stop-color="#99cb53"/><stop offset="28.53%" stop-color="#70bf5d"/><stop offset="29.51%" stop-color="#8dc856"/><stop offset="30.34%" stop-color="#76c05c"/><stop offset="31.17%" stop-color="#85c558"/><stop offset="32.08%" stop-color="#70bf5d"/><stop offset="33.14%" stop-color="#75c05c"/><stop offset="34.72%" stop-color="#71bf5d"/><stop offset="50.72%" stop-color="#70bf5d"/><stop offset="56.54%" stop-color="#6ebe5d"/><stop offset="61.82%" stop-color="#71bf5d"/><stop offset="63.56%" stop-color="#6dbe5d"/><stop offset="64.54%" stop-color="#54b95f"/><stop offset="65.44%" stop-color="#58ba5f"/><stop offset="65.67%" stop-color="#62bc5e"/><stop offset="65.9%" stop-color="#7bc25b"/><stop offset="66.2%" stop-color="#e8e435"/><stop offset="66.27%" stop-color="#f6d82f"/><stop offset="66.5%" stop-color="#f7cd2e"/><stop offset="66.65%" stop-color="#f6d92f"/><stop offset="66.73%" stop-color="#ebe534"/><stop offset="67.03%" stop-color="#85c558"/><stop offset="67.33%" stop-color="#6fbe5d"/><stop offset="68.09%" stop-color="#6ebe5d"/><stop offset="71.94%" stop-color="#71bf5d"/><stop offset="80.77%" stop-color="#6ebe5d"/><stop offset="82.8%" stop-color="#6fbe5d"/><stop offset="90.81%" stop-color="#6dbe5d"/><stop offset="99.94%" stop-color="#71bf5d"/></linearGradient>
<linearGradient id="hc23"><stop offset="0%" stop-color="#70bf5d"/><stop offset="11.78%" stop-color="#73bf5d"/><stop offset="17.44%" stop-color="#71bf5d"/><stop offset="19.32%" stop-color="#70bf5d"/><stop offset="19.93%" stop-color="#9dcd52"/><stop offset="20.3%" stop-color="#c4d944"/><stop offset="20.61%" stop-color="#f5e330"/><stop offset="21.06%" stop-color="#f5832d"/><stop offset="21.29%" stop-color="#f04c2f"/><stop offset="21.44%" stop-color="#ef422f"/><stop offset="21.51%" stop-color="#f0492f"/><stop offset="21.59%" stop-color="#f15b2f"/><stop offset="21.74%" stop-color="#f79c2d"/><stop offset="21.81%" stop-color="#f8c52d"/><stop offset="21.89%" stop-color="#e2e238"/><stop offset="22.04%" stop-color="#7cc25a"/><stop offset="22.12%" stop-color="#5ebb5f"/><stop offset="22.19%" stop-color="#4fb866"/><stop offset="22.34%" stop-color="#58bb89"/><stop offset="22.42%" stop-color="#65c1a5"/><stop offset="22.49%" stop-color="#53bfc6"/><stop offset="22.57%" stop-color="#28a5dd"/><stop offset="22.64%" stop-color="#2d74bd"/><stop offset="22.72%" stop-color="#275cad"/><stop offset="22.8%" stop-color="#2551a5"/><stop offset="23.1%" stop-color="#2654a7"/><stop offset="23.17%" stop-color="#2b6db9"/><stop offset="23.25%" stop-color="#29a0d9"/><stop offset="23.32%" stop-color="#56c0c4"/><stop offset="23.4%" stop-color="#64c1a3"/><stop offset="23.48%" stop-color="#58bb87"/><stop offset="23.63%" stop-color="#4eb864"/><stop offset="24%" stop-color="#7cc25a"/><stop offset="24.15%" stop-color="#99cb53"/><stop offset="24.46%" stop-color="#6ebe5d"/><stop offset="24.83%" stop-color="#54b95f"/><stop offset="25.21%" stop-color="#73bf5d"/><stop offset="25.82%" stop-color="#d0dc3f"/><stop offset="26.65%" stop-color="#6dbe5d"/><stop offset="26.8%" stop-color="#64bc5e"/><stop offset="27.32%" stop-color="#81c459"/><stop offset="27.63%" stop-color="#9acb53"/><stop offset="28.46%" stop-color="#70bf5d"/><stop offset="29.51%" stop-color="#8dc856"/><stop offset="30.34%" stop-color="#77c05c"/><stop offset="31.17%" stop-color="#85c558"/><stop offset="32.08%" stop-color="#70bf5d"/><stop offset="33.06%" stop-color="#76c05c"/><stop offset="34.42%" stop-color="#71bf5d"/><stop offset="50.72%" stop-color="#70bf5d"/><stop offset="56.54%" stop-color="#6ebe5d"/><stop offset="61.82%" stop-color="#71bf5d"/><stop offset="63.56%" stop-color="#6dbe5d"/><stop offset="64.54%" stop-color="#54b95f"/><stop offset="65.44%" stop-color="#58ba5f"/><stop offset="65.67%" stop-color="#61bc5e"/><stop offset="65.9%" stop-color="#78c15b"/><stop offset="66.2%" stop-color="#e4e337"/><stop offset="66.27%" stop-color="#f6de2f"/><stop offset="66.43%" stop-color="#f7cf2e"/><stop offset="66.65%" stop-color="#f6d62f"/><stop offset="66.73%" stop-color="#ede633"/><stop offset="67.03%" stop-color="#88c657"/><stop offset="67.26%" stop-color="#71bf5d"/><stop offset="68.01%" stop-color="#6dbe5d"/><stop offset="71.94%" stop-color="#71bf5d"/><stop offset="80.77%" stop-color="#6ebe5d"/><stop offset="82.8%" stop-color="#6fbe5d"/><stop offset="90.81%" stop-color="#6dbe5d"/><stop offset="99.94%" stop-color="#71bf5d"/></linearGradient>
<linearGradient id="hc24"><stop offset="0%" stop-color="#70bf5d"/><stop offset="11.78%" stop-color="#73bf5d"/><stop offset="17.44%" stop-color="#71bf5d"/><stop offset="19.32%" stop-color="#70bf5d"/><stop offset="19.85%" stop-color="#9acc53"/><stop offset="20.15%" stop-color="#b5d44a"/><stop offset="20.46%" stop-color="#dde139"/><stop offset="20.53%" stop-color="#eee633"/><stop offset="20.61%" stop-color="#f6dc2f"/><stop offset="21.21%" stop-color="#f1542f"/><stop offset="21.36%" stop-color="#ef3830"/><stop offset="21.51%" stop-color="#ef3f30"/><stop offset="21.59%" stop-color="#f1532f"/><stop offset="21.74%" stop-color="#f7972d"/><stop offset="21.81%" stop-color="#f8c22d"/><stop offset="21.89%" stop-color="#e2e238"/><stop offset="22.04%" stop-color="#79c15b"/><stop offset="22.12%" stop-color="#5cbb5f"/><stop offset="22.19%" stop-color="#4fb968"/><stop offset="22.34%" stop-color="#5bbc8e"/><stop offset="22.42%" stop-color="#68c3ab"/><stop offset="22.49%" stop-color="#40bbd3"/><stop offset="22.57%" stop-color="#2b92d1"/><stop offset="22.64%" stop-color="#2a68b5"/><stop offset="22.72%" stop-color="#2551a5"/><stop offset="23.1%" stop-color="#2650a5"/><stop offset="23.17%" stop-color="#2965b3"/><stop offset="23.25%" stop-color="#2b95d2"/><stop offset="23.32%" stop-color="#4dbecb"/><stop offset="23.4%" stop-color="#65c1a5"/><stop offset="23.48%" stop-color="#58bb88"/><stop offset="23.63%" stop-color="#4eb863"/><stop offset="24%" stop-color="#7ec35a"/><stop offset="24.15%" stop-color="#9acb53"/><stop offset="24.46%" stop-color="#6dbe5d"/><stop offset="24.83%" stop-color="#54b95f"/><stop offset="25.21%" stop-color="#74c05c"/><stop offset="25.82%" stop-color="#d2dd3e"/><stop offset="26.65%" stop-color="#6dbe5d"/><stop offset="26.8%" stop-color="#64bc5e"/><stop offset="27.25%" stop-color="#7cc25a"/><stop offset="27.63%" stop-color="#9ccc52"/><stop offset="28.46%" stop-color="#70bf5d"/><stop offset="29.51%" stop-color="#8ec856"/><stop offset="30.34%" stop-color="#77c05c"/><stop offset="31.17%" stop-color="#85c558"/><stop offset="32.08%" stop-color="#70bf5d"/><stop offset="33.06%" stop-color="#76c05c"/><stop offset="34.34%" stop-color="#70bf5d"/><stop offset="50.72%" stop-color="#70bf5d"/><stop offset="56.54%" stop-color="#6ebe5d"/><stop offset="61.82%" stop-color="#71bf5d"/><stop offset="63.56%" stop-color="#6dbe5d"/><stop offset="64.61%" stop-color="#55b95f"/><stop offset="65.52%" stop-color="#5aba5f"/><stop offset="65.82%" stop-color="#6dbe5d"/><stop offset="65.9%" stop-color="#76c05c"/><stop offset="66.05%" stop-color="#a5cf50"/><stop offset="66.2%" stop-color="#dde03a"/><stop offset="66.27%" stop-color="#f5e730"/><stop offset="66.35%" stop-color="#f6d92f"/><stop offset="66.5%" stop-color="#f7d12e"/><stop offset="66.65%" stop-color="#f6d92f"/><stop offset="66.73%" stop-color="#eee633"/><stop offset="67.03%" stop-color="#8cc756"/><stop offset="67.18%" stop-color="#78c15b"/><stop offset="67.63%" stop-color="#6cbe5d"/><stop offset="71.71%" stop-color="#72bf5d"/><stop offset="81.82%" stop-color="#72bf5d"/><stop offset="91.18%" stop-color="#6cbe5e"/><stop offset="99.94%" stop-color="#71bf5d"/></linearGradient>
<linearGradient id="hc25"><stop offset="0%" stop-color="#70bf5d"/><stop offset="11.78%" stop-color="#73bf5d"/><stop offset="17.44%" stop-color="#71bf5d"/><stop offset="19.32%" stop-color="#70bf5d"/><stop offset="19.85%" stop-color="#9ccc52"/><stop offset="20.15%" stop-color="#b9d548"/><stop offset="20.46%" stop-color="#e3e337"/><stop offset="20.53%" stop-color="#f5e830"/><stop offset="20.76%" stop-color="#f9ae2c"/><stop offset="21.14%" stop-color="#f15b2f"/><stop offset="21.29%" stop-color="#ee3430"/><stop offset="21.44%" stop-color="#ee2f2f"/><stop offset="21.51%" stop-color="#ee3330"/><stop offset="21.59%" stop-color="#f04a2f"/><stop offset="21.74%" stop-color="#f6902d"/><stop offset="21.81%" stop-color="#f8bd2d"/><stop offset="21.89%" stop-color="#e2e237"/><stop offset="22.04%" stop-color="#75c05c"/><stop offset="22.12%" stop-color="#59ba5f"/><stop offset="22.19%" stop-color="#50b96b"/><stop offset="22.34%" stop-color="#5ebe95"/><stop offset="22.42%" stop-color="#6bc5b3"/><stop offset="22.49%" stop-color="#29b5e3"/><stop offset="22.57%" stop-color="#2e7cc3"/><stop offset="22.64%" stop-color="#2758aa"/><stop offset="22.8%" stop-color="#284ea4"/><stop offset="23.1%" stop-color="#274fa5"/><stop offset="23.17%" stop-color="#275cac"/><stop offset="23.25%" stop-color="#2e86ca"/><stop offset="23.32%" stop-color="#41bbd3"/><stop offset="23.4%" stop-color="#66c2a8"/><stop offset="23.48%" stop-color="#59bb89"/><stop offset="23.63%" stop-color="#4eb863"/><stop offset="23.93%" stop-color="#71bf5d"/><stop offset="24.15%" stop-color="#9bcc53"/><stop offset="24.46%" stop-color="#6dbe5d"/><stop offset="24.76%" stop-color="#53b960"/><stop offset="24.98%" stop-color="#60bc5e"/><stop offset="25.29%" stop-color="#82c459"/><stop offset="25.74%" stop-color="#cfdc3f"/><stop offset="25.82%" stop-color="#d6de3d"/><stop offset="26.57%" stop-color="#72bf5d"/><stop offset="26.8%" stop-color="#64bc5e"/><stop offset="27.25%" stop-color="#7dc25a"/><stop offset="27.63%" stop-color="#9ecd52"/><stop offset="28.46%" stop-color="#70bf5d"/><stop offset="29.51%" stop-color="#8fc856"/><stop offset="30.34%" stop-color="#77c15c"/><stop offset="31.17%" stop-color="#86c558"/><stop offset="32.08%" stop-color="#70bf5d"/><stop offset="33.06%" stop-color="#77c15c"/><stop offset="34.27%" stop-color="#70bf5d"/><stop offset="50.72%" stop-color="#70bf5d"/><stop offset="56.54%" stop-color="#6ebe5d"/><stop offset="61.82%" stop-color="#71bf5d"/><stop offset="63.56%" stop-color="#6ebe5d"/><stop offset="64.61%" stop-color="#55ba5f"/><stop offset="65.52%" stop-color="#5aba5f"/><stop offset="65.82%" stop-color="#6cbe5d"/><stop offset="65.9%" stop-color="#73bf5d"/><stop offset="66.05%" stop-color="#9ecd52"/><stop offset="66.27%" stop-color="#ede533"/><stop offset="66.43%" stop-color="#f6da2f"/><stop offset="66.58%" stop-color="#f6da2f"/><stop offset="66.73%" stop-color="#efe632"/><stop offset="67.03%" stop-color="#90c855"/><stop offset="67.1%" stop-color="#80c35a"/><stop offset="67.33%" stop-color="#70bf5d"/><stop offset="68.16%" stop-color="#6fbe5d"/><stop offset="72.01%" stop-color="#70bf5d"/><stop offset="80.62%" stop-color="#6ebe5d"/><stop offset="82.88%" stop-color="#6ebe5d"/><stop offset="90.73%" stop-color="#6dbe5d"/><stop offset="99.94%" stop-color="#71bf5d"/></linearGradient>
<linearGradient id="hc26"><stop offset="0%" stop-color="#70bf5d"/><stop offset="11.78%" stop-color="#73bf5d"/><stop offset="17.44%" stop-color="#71bf5d"/><stop offset="19.32%" stop-color="#70bf5d"/><stop offset="19.78%" stop-color="#99cb53"/><stop offset="20.08%" stop-color="#b1d34b"/><stop offset="20.46%" stop-color="#e8e435"/><stop offset="20.53%" stop-color="#f5e330"/><stop offset="20.76%" stop-color="#f8a82c"/><stop offset="21.14%" stop-color="#f1532f"/><stop offset="21.29%" stop-color="#ee2f2f"/><stop offset="21.51%" stop-color="#ee2f2f"/><stop offset="21.59%" stop-color="#f0462f"/><stop offset="21.74%" stop-color="#f68e2d"/><stop offset="21.81%" stop-color="#f8bd2d"/><stop offset="21.89%" stop-color="#e0e138"/><stop offset="22.04%" stop-color="#71bf5d"/><stop offset="22.12%" stop-color="#56ba5f"/><stop offset="22.19%" stop-color="#51b96d"/><stop offset="22.34%" stop-color="#60bf9a"/><stop offset="22.42%" stop-color="#61c2bd"/><stop offset="22.49%" stop-color="#27a9df"/><stop offset="22.57%" stop-color="#2c73bc"/><stop offset="22.64%" stop-color="#2551a5"/><stop offset="23.1%" stop-color="#284fa4"/><stop offset="23.17%" stop-color="#2758aa"/><stop offset="23.25%" stop-color="#2e82c7"/><stop offset="23.32%" stop-color="#3ebad5"/><stop offset="23.4%" stop-color="#66c2a8"/><stop offset="23.48%" stop-color="#58bb89"/><stop offset="23.63%" stop-color="#4eb862"/><stop offset="23.93%" stop-color="#72bf5d"/><stop offset="24.08%" stop-color="#92c955"/><stop offset="24.15%" stop-color="#9acc53"/><stop offset="24.46%" stop-color="#6cbe5d"/><stop offset="24.76%" stop-color="#52b960"/><stop offset="25.06%" stop-color="#67bd5e"/><stop offset="25.29%" stop-color="#84c558"/><stop offset="25.74%" stop-color="#d2dd3e"/><stop offset="25.82%" stop-color="#d7df3c"/><stop offset="26.57%" stop-color="#71bf5d"/><stop offset="26.8%" stop-color="#64bc5e"/><stop offset="27.25%" stop-color="#7ec35a"/><stop offset="27.63%" stop-color="#9fcd51"/><stop offset="28.46%" stop-color="#6fbf5d"/><stop offset="29.44%" stop-color="#92c955"/><stop offset="30.34%" stop-color="#77c15c"/><stop offset="31.1%" stop-color="#87c658"/><stop offset="32.08%" stop-color="#70bf5d"/><stop offset="33.06%" stop-color="#77c15c"/><stop offset="34.27%" stop-color="#70bf5d"/><stop offset="50.72%" stop-color="#70bf5d"/><stop offset="56.54%" stop-color="#6ebe5d"/><stop offset="61.82%" stop-color="#71bf5d"/><stop offset="63.63%" stop-color="#6cbe5d"/><stop offset="64.61%" stop-color="#55ba5f"/><stop offset="65.52%" stop-color="#59ba5f"/><stop offset="65.75%" stop-color="#64bc5e"/><stop offset="65.9%" stop-color="#71bf5d"/><stop offset="65.97%" stop-color="#7fc35a"/><stop offset="66.27%" stop-color="#e8e435"/><stop offset="66.35%" stop-color="#f6de2f"/><stop offset="66.58%" stop-color="#f6d72f"/><stop offset="66.73%" stop-color="#f5e730"/><stop offset="67.1%" stop-color="#81c459"/><stop offset="67.41%" stop-color="#6fbe5d"/><stop offset="68.24%" stop-color="#6fbe5d"/><stop offset="72.01%" stop-color="#70bf5d"/><stop offset="80.62%" stop-color="#6ebe5d"/><stop offset="82.88%" stop-color="#6ebe5d"/><stop offset="90.73%" stop-color="#6dbe5d"/><stop offset="99.94%" stop-color="#71bf5d"/></linearGradient>
<linearGradient id="hc27"><stop offset="0%" stop-color="#70bf5d"/><stop offset="11.78%" stop-color="#73bf5d"/><stop offset="17.44%" stop-color="#71bf5d"/><stop offset="19.32%" stop-color="#71bf5d"/><stop offset="19.78%" stop-color="#9bcc53"/><stop offset="20.08%" stop-color="#b4d44a"/><stop offset="20.46%" stop-color="#ede533"/><stop offset="20.53%" stop-color="#f6dc2f"/><stop offset="20.76%" stop-color="#f7a12d"/><stop offset="21.14%" stop-color="#f0492f"/><stop offset="21.21%" stop-color="#ee3330"/><stop offset="21.44%" stop-color="#ed2b2b"/><stop offset="21.51%" stop-color="#ed2d2d"/><stop offset="21.59%" stop-color="#ef402f"/><stop offset="21.74%" stop-color="#f68c2d"/><stop offset="21.81%" stop-color="#f8bd2d"/><stop offset="21.89%" stop-color="#dee139"/><stop offset="21.97%" stop-color="#a3ce50"/><stop offset="22.04%" stop-color="#6fbe5d"/><stop offset="22.12%" stop-color="#53b960"/><stop offset="22.27%" stop-color="#57bb84"/><stop offset="22.34%" stop-color="#63c0a0"/><stop offset="22.42%" stop-color="#4dbdcb"/><stop offset="22.49%" stop-color="#2b96d3"/><stop offset="22.57%" stop-color="#2a67b4"/><stop offset="22.64%" stop-color="#2750a5"/><stop offset="23.1%" stop-color="#294ea4"/><stop offset="23.17%" stop-color="#2653a7"/><stop offset="23.25%" stop-color="#2f7dc3"/><stop offset="23.32%" stop-color="#39b9d8"/><stop offset="23.4%" stop-color="#67c2a9"/><stop offset="23.48%" stop-color="#58bb89"/><stop offset="23.63%" stop-color="#4db861"/><stop offset="23.93%" stop-color="#73bf5d"/><stop offset="24.08%" stop-color="#95ca54"/><stop offset="24.15%" stop-color="#9acc53"/><stop offset="24.38%" stop-color="#73bf5d"/><stop offset="24.76%" stop-color="#51b960"/><stop offset="25.21%" stop-color="#78c15b"/><stop offset="25.74%" stop-color="#d6de3c"/><stop offset="25.82%" stop-color="#d9df3b"/><stop offset="26.57%" stop-color="#71bf5d"/><stop offset="26.8%" stop-color="#64bc5e"/><stop offset="27.25%" stop-color="#7fc35a"/><stop offset="27.63%" stop-color="#a1ce51"/><stop offset="28.46%" stop-color="#6fbe5d"/><stop offset="29.44%" stop-color="#93c955"/><stop offset="30.34%" stop-color="#78c15c"/><stop offset="31.1%" stop-color="#88c657"/><stop offset="32%" stop-color="#70bf5d"/><stop offset="32.99%" stop-color="#78c15b"/><stop offset="34.19%" stop-color="#70bf5d"/><stop offset="50.72%" stop-color="#70bf5d"/><stop offset="56.54%" stop-color="#6ebe5d"/><stop offset="61.82%" stop-color="#71bf5d"/><stop offset="63.63%" stop-color="#6dbe5d"/><stop offset="64.69%" stop-color="#59ba5f"/><stop offset="65.67%" stop-color="#5ebb5f"/><stop offset="65.97%" stop-color="#78c15c"/><stop offset="66.35%" stop-color="#e8e435"/><stop offset="66.58%" stop-color="#f0e632"/><stop offset="66.73%" stop-color="#e9e435"/><stop offset="67.1%" stop-color="#82c459"/><stop offset="67.41%" stop-color="#6fbf5d"/><stop offset="68.39%" stop-color="#70bf5d"/><stop offset="72.01%" stop-color="#70bf5d"/><stop offset="80.62%" stop-color="#6ebe5d"/><stop offset="82.88%" stop-color="#6ebe5d"/><stop offset="90.73%" stop-color="#6dbe5d"/><stop offset="99.94%" stop-color="#71bf5d"/></linearGradient>
<linearGradient id="hc28"><stop offset="0%" stop-color="#70bf5d"/><stop offset="11.78%" stop-color="#73bf5d"/><stop offset="17.44%" stop-color="#71bf5d"/><stop offset="19.32%" stop-color="#71bf5d"/><stop offset="19.78%" stop-color="#9ccc52"/><stop offset="20.08%" stop-color="#b8d548"/><stop offset="20.38%" stop-color="#e2e238"/><stop offset="20.46%" stop-color="#f3e731"/><stop offset="20.76%" stop-color="#f7972d"/><stop offset="21.21%" stop-color="#ee2d2d"/><stop offset="21.51%" stop-color="#ed2a2a"/><stop offset="21.59%" stop-color="#ef3a30"/><stop offset="21.74%" stop-color="#f5892d"/><stop offset="21.81%" stop-color="#f8bf2d"/><stop offset="21.89%" stop-color="#dbe03a"/><stop offset="21.97%" stop-color="#9fcd52"/><stop offset="22.04%" stop-color="#6cbe5e"/><stop offset="22.12%" stop-color="#4fb860"/><stop offset="22.27%" stop-color="#58bb88"/><stop offset="22.34%" stop-color="#66c2a8"/><stop offset="22.42%" stop-color="#35b8db"/><stop offset="22.49%" stop-color="#2f80c5"/><stop offset="22.57%" stop-color="#2759ab"/><stop offset="22.72%" stop-color="#2a4da4"/><stop offset="23.1%" stop-color="#2a4da4"/><stop offset="23.17%" stop-color="#2551a5"/><stop offset="23.25%" stop-color="#2d78c0"/><stop offset="23.32%" stop-color="#33b7dc"/><stop offset="23.4%" stop-color="#67c3aa"/><stop offset="23.48%" stop-color="#58bb89"/><stop offset="23.63%" stop-color="#4db860"/><stop offset="23.93%" stop-color="#75c05c"/><stop offset="24.08%" stop-color="#98cb53"/><stop offset="24.15%" stop-color="#9acc53"/><stop offset="24.38%" stop-color="#72bf5d"/><stop offset="24.76%" stop-color="#4fb860"/><stop offset="25.21%" stop-color="#7ac15b"/><stop offset="25.74%" stop-color="#dbe03a"/><stop offset="25.82%" stop-color="#dbe03a"/><stop offset="26.57%" stop-color="#70bf5d"/><stop offset="26.8%" stop-color="#64bc5e"/><stop offset="27.17%" stop-color="#79c15b"/><stop offset="27.63%" stop-color="#a2ce51"/><stop offset="28.46%" stop-color="#6fbe5d"/><stop offset="29.44%" stop-color="#94ca54"/><stop offset="30.34%" stop-color="#78c15b"/><stop offset="31.1%" stop-color="#88c657"/><stop offset="32%" stop-color="#70bf5d"/><stop offset="32.99%" stop-color="#79c15b"/><stop offset="34.12%" stop-color="#70bf5d"/><stop offset="50.72%" stop-color="#70bf5d"/><stop offset="56.54%" stop-color="#6ebe5d"/><stop offset="61.82%" stop-color="#71bf5d"/><stop offset="63.71%" stop-color="#6cbe5e"/><stop offset="64.76%" stop-color="#59ba5f"/><stop offset="65.67%" stop-color="#5ebb5f"/><stop offset="65.97%" stop-color="#74c05c"/><stop offset="66.35%" stop-color="#dee139"/><stop offset="66.5%" stop-color="#ebe534"/><stop offset="66.73%" stop-color="#e8e435"/><stop offset="67.1%" stop-color="#87c658"/><stop offset="67.33%" stop-color="#71bf5d"/><stop offset="68.24%" stop-color="#6fbe5d"/><stop offset="72.01%" stop-color="#70bf5d"/><stop offset="80.62%" stop-color="#6ebe5d"/><stop offset="82.88%" stop-color="#6ebe5d"/><stop offset="90.73%" stop-color="#6dbe5d"/><stop offset="99.94%" stop-color="#71bf5d"/></linearGradient>
<linearGradient id="hc29"><stop offset="0%" stop-color="#70bf5d"/><stop offset="11.78%" stop-color="#73bf5d"/><stop offset="17.44%" stop-color="#71bf5d"/><stop offset="19.32%" stop-color="#72bf5d"/><stop offset="19.7%" stop-color="#99cb53"/><stop offset="20.08%" stop-color="#bbd647"/><stop offset="20.46%" stop-color="#f5e530"/><stop offset="20.68%" stop-color="#f7a12d"/><stop offset="21.06%" stop-color="#f0492f"/><stop offset="21.14%" stop-color="#ee3430"/><stop offset="21.29%" stop-color="#ed2a2a"/><stop offset="21.51%" stop-color="#ed2a2a"/><stop offset="21.59%" stop-color="#ef3730"/><stop offset="21.74%" stop-color="#f5892d"/><stop offset="21.81%" stop-color="#f8c32d"/><stop offset="21.89%" stop-color="#d7de3c"/><stop offset="21.97%" stop-color="#99cb53"/><stop offset="22.04%" stop-color="#68bd5e"/><stop offset="22.12%" stop-color="#4db862"/><stop offset="22.27%" stop-color="#5abc8d"/><stop offset="22.34%" stop-color="#69c4ae"/><stop offset="22.42%" stop-color="#26b1e4"/><stop offset="22.49%" stop-color="#2d75be"/><stop offset="22.57%" stop-color="#2551a5"/><stop offset="22.95%" stop-color="#2d4ba3"/><stop offset="23.17%" stop-color="#2651a5"/><stop offset="23.25%" stop-color="#2d77bf"/><stop offset="23.32%" stop-color="#33b7dd"/><stop offset="23.4%" stop-color="#67c2a9"/><stop offset="23.48%" stop-color="#58bb87"/><stop offset="23.63%" stop-color="#4fb860"/><stop offset="23.93%" stop-color="#77c15c"/><stop offset="24.08%" stop-color="#9bcc53"/><stop offset="24.15%" stop-color="#9acc53"/><stop offset="24.38%" stop-color="#71bf5d"/><stop offset="24.76%" stop-color="#4eb860"/><stop offset="25.21%" stop-color="#7cc25b"/><stop offset="25.66%" stop-color="#d0dc3f"/><stop offset="25.74%" stop-color="#dfe139"/><stop offset="25.89%" stop-color="#d2dd3e"/><stop offset="26.57%" stop-color="#70bf5d"/><stop offset="26.8%" stop-color="#64bc5e"/><stop offset="27.17%" stop-color="#7ac25b"/><stop offset="27.63%" stop-color="#a2ce51"/><stop offset="28.46%" stop-color="#6fbe5d"/><stop offset="29.44%" stop-color="#94ca54"/><stop offset="30.34%" stop-color="#78c15b"/><stop offset="31.1%" stop-color="#88c657"/><stop offset="32%" stop-color="#70bf5d"/><stop offset="32.99%" stop-color="#79c15b"/><stop offset="34.12%" stop-color="#70bf5d"/><stop offset="50.72%" stop-color="#70bf5d"/><stop offset="56.54%" stop-color="#6ebe5d"/><stop offset="61.82%" stop-color="#71bf5d"/><stop offset="63.71%" stop-color="#6cbe5d"/><stop offset="64.76%" stop-color="#5abb5f"/><stop offset="65.67%" stop-color="#5fbb5f"/><stop offset="65.97%" stop-color="#71bf5d"/><stop offset="66.12%" stop-color="#93c955"/><stop offset="66.35%" stop-color="#d4de3d"/><stop offset="66.43%" stop-color="#e2e237"/><stop offset="66.65%" stop-color="#e6e336"/><stop offset="66.8%" stop-color="#d9df3b"/><stop offset="67.18%" stop-color="#7dc35a"/><stop offset="67.48%" stop-color="#6fbe5d"/><stop offset="72.01%" stop-color="#70bf5d"/><stop offset="80.62%" stop-color="#6ebe5d"/><stop offset="82.88%" stop-color="#6ebe5d"/><stop offset="90.73%" stop-color="#6dbe5d"/><stop offset="99.94%" stop-color="#71bf5d"/></linearGradient>
<linearGradient id="hc30"><stop offset="0%" stop-color="#70bf5d"/><stop offset="11.78%" stop-color="#73bf5d"/><stop offset="17.44%" stop-color="#71bf5d"/><stop offset="19.32%" stop-color="#73bf5d"/><stop offset="19.7%" stop-color="#9acb53"/><stop offset="20.08%" stop-color="#bdd647"/><stop offset="20.38%" stop-color="#e8e435"/><stop offset="20.46%" stop-color="#f6e12f"/><stop offset="20.68%" stop-color="#f79d2d"/><stop offset="21.06%" stop-color="#f0452f"/><stop offset="21.14%" stop-color="#ee3030"/><stop offset="21.44%" stop-color="#ed2a2a"/><stop offset="21.51%" stop-color="#ed2a2a"/><stop offset="21.59%" stop-color="#ef3930"/><stop offset="21.74%" stop-color="#f68e2d"/><stop offset="21.81%" stop-color="#f7ca2e"/><stop offset="21.89%" stop-color="#d0dc3f"/><stop offset="21.97%" stop-color="#93c955"/><stop offset="22.04%" stop-color="#65bd5e"/><stop offset="22.12%" stop-color="#4eb865"/><stop offset="22.27%" stop-color="#5cbd92"/><stop offset="22.34%" stop-color="#6bc5b3"/><stop offset="22.42%" stop-color="#28a7de"/><stop offset="22.49%" stop-color="#2b6fba"/><stop offset="22.57%" stop-color="#2650a5"/><stop offset="22.95%" stop-color="#2d4ba3"/><stop offset="23.17%" stop-color="#2551a5"/><stop offset="23.25%" stop-color="#2e7ac2"/><stop offset="23.32%" stop-color="#3ab9d7"/><stop offset="23.4%" stop-color="#65c2a6"/><stop offset="23.48%" stop-color="#57bb85"/><stop offset="23.63%" stop-color="#52b960"/><stop offset="23.93%" stop-color="#79c15b"/><stop offset="24.08%" stop-color="#9dcc52"/><stop offset="24.15%" stop-color="#98cb53"/><stop offset="24.38%" stop-color="#70bf5d"/><stop offset="24.76%" stop-color="#4db860"/><stop offset="25.14%" stop-color="#71bf5d"/><stop offset="25.59%" stop-color="#c3d844"/><stop offset="25.74%" stop-color="#e1e238"/><stop offset="26.12%" stop-color="#b1d34b"/><stop offset="26.57%" stop-color="#6fbe5d"/><stop offset="26.8%" stop-color="#64bc5e"/><stop offset="27.25%" stop-color="#83c459"/><stop offset="27.63%" stop-color="#a2ce51"/><stop offset="28.46%" stop-color="#6fbe5d"/><stop offset="29.44%" stop-color="#94ca54"/><stop offset="30.27%" stop-color="#77c05c"/><stop offset="31.1%" stop-color="#88c657"/><stop offset="32%" stop-color="#70bf5d"/><stop offset="32.99%" stop-color="#79c15b"/><stop offset="34.12%" stop-color="#70bf5d"/><stop offset="50.72%" stop-color="#70bf5d"/><stop offset="56.54%" stop-color="#6ebe5d"/><stop offset="61.82%" stop-color="#71bf5d"/><stop offset="63.78%" stop-color="#6cbe5e"/><stop offset="64.84%" stop-color="#5dbb5f"/><stop offset="65.75%" stop-color="#61bc5e"/><stop offset="66.05%" stop-color="#76c05c"/><stop offset="66.43%" stop-color="#d6de3d"/><stop offset="66.73%" stop-color="#d9df3b"/><stop offset="66.8%" stop-color="#d4de3d"/><stop offset="67.18%" stop-color="#7ec35a"/><stop offset="67.48%" stop-color="#6fbf5d"/><stop offset="72.01%" stop-color="#70bf5d"/><stop offset="80.62%" stop-color="#6ebe5d"/><stop offset="82.88%" stop-color="#6ebe5d"/><stop offset="90.73%" stop-color="#6dbe5d"/><stop offset="99.94%" stop-color="#71bf5d"/></linearGradient>
<linearGradient id="hc31"><stop offset="0%" stop-color="#70bf5d"/><stop offset="11.78%" stop-color="#73bf5d"/><stop offset="17.44%" stop-color="#71bf5d"/><stop offset="19.25%" stop-color="#71bf5d"/><stop offset="19.78%" stop-color="#a0cd51"/><stop offset="20.08%" stop-color="#bfd746"/><stop offset="20.38%" stop-color="#ebe534"/><stop offset="20.46%" stop-color="#f6dc2f"/><stop offset="20.68%" stop-color="#f7992d"/><stop offset="21.14%" stop-color="#ee2e2e"/><stop offset="21.51%" stop-color="#ed2a2a"/><stop offset="21.59%" stop-color="#ef3b30"/><stop offset="21.74%" stop-color="#f6922d"/><stop offset="21.81%" stop-color="#f7d22e"/><stop offset="21.89%" stop-color="#c9da42"/><stop offset="21.97%" stop-color="#8cc756"/><stop offset="22.04%" stop-color="#61bc5e"/><stop offset="22.12%" stop-color="#4fb968"/><stop offset="22.27%" stop-color="#5fbe97"/><stop offset="22.34%" stop-color="#62c3bc"/><stop offset="22.42%" stop-color="#2a9ad6"/><stop offset="22.49%" stop-color="#2a67b4"/><stop offset="22.57%" stop-color="#2750a5"/><stop offset="23.02%" stop-color="#2c4ca4"/><stop offset="23.17%" stop-color="#2551a5"/><stop offset="23.25%" stop-color="#2f7ec4"/><stop offset="23.32%" stop-color="#41bbd3"/><stop offset="23.4%" stop-color="#64c1a3"/><stop offset="23.48%" stop-color="#57bb83"/><stop offset="23.63%" stop-color="#53b960"/><stop offset="23.93%" stop-color="#7cc25b"/><stop offset="24.08%" stop-color="#a0cd51"/><stop offset="24.46%" stop-color="#68bd5e"/><stop offset="24.76%" stop-color="#4db860"/><stop offset="25.14%" stop-color="#71bf5d"/><stop offset="25.59%" stop-color="#c6d943"/><stop offset="25.74%" stop-color="#e4e337"/><stop offset="26.49%" stop-color="#76c05c"/><stop offset="26.72%" stop-color="#63bc5e"/><stop offset="27.17%" stop-color="#7cc25a"/><stop offset="27.55%" stop-color="#a1ce51"/><stop offset="27.85%" stop-color="#92c955"/><stop offset="28.46%" stop-color="#6fbf5d"/><stop offset="29.44%" stop-color="#94ca54"/><stop offset="30.27%" stop-color="#77c15c"/><stop offset="31.1%" stop-color="#88c657"/><stop offset="32%" stop-color="#70bf5d"/><stop offset="32.99%" stop-color="#79c15b"/><stop offset="34.12%" stop-color="#70bf5d"/><stop offset="50.72%" stop-color="#70bf5d"/><stop offset="56.54%" stop-color="#6ebe5d"/><stop offset="61.82%" stop-color="#71bf5d"/><stop offset="63.78%" stop-color="#6cbe5d"/><stop offset="64.92%" stop-color="#5ebb5f"/><stop offset="65.75%" stop-color="#61bc5e"/><stop offset="66.05%" stop-color="#72bf5d"/><stop offset="66.43%" stop-color="#cadb41"/><stop offset="66.65%" stop-color="#d6de3c"/><stop offset="66.8%" stop-color="#d1dd3e"/><stop offset="67.18%" stop-color="#83c459"/><stop offset="67.48%" stop-color="#70bf5d"/><stop offset="72.01%" stop-color="#70bf5d"/><stop offset="80.62%" stop-color="#6ebe5d"/><stop offset="82.88%" stop-color="#6ebe5d"/><stop offset="90.73%" stop-color="#6dbe5d"/><stop offset="99.94%" stop-color="#71bf5d"/></linearGradient>
<linearGradient id="hc32"><stop offset="0%" stop-color="#70bf5d"/><stop offset="11.78%" stop-color="#73bf5d"/><stop offset="17.44%" stop-color="#71bf5d"/><stop offset="19.25%" stop-color="#71bf5d"/><stop offset="19.7%" stop-color="#9ccc52"/><stop offset="20%" stop-color="#b6d449"/><stop offset="20.38%" stop-color="#efe632"/><stop offset="20.46%" stop-color="#f6d72f"/><stop offset="20.68%" stop-color="#f6952d"/><stop offset="21.14%" stop-color="#ed2c2c"/><stop offset="21.51%" stop-color="#ed2a2a"/><stop offset="21.59%" stop-color="#ef3d30"/><stop offset="21.74%" stop-color="#f6962d"/><stop offset="21.81%" stop-color="#f6da2f"/><stop offset="21.89%" stop-color="#c2d844"/><stop offset="21.97%" stop-color="#84c558"/><stop offset="22.04%" stop-color="#5dbb5f"/><stop offset="22.12%" stop-color="#50b96b"/><stop offset="22.27%" stop-color="#61c09d"/><stop offset="22.34%" stop-color="#51bec8"/><stop offset="22.42%" stop-color="#2d8ccd"/><stop offset="22.49%" stop-color="#285eae"/><stop offset="22.57%" stop-color="#284fa4"/><stop offset="22.95%" stop-color="#2d4aa3"/><stop offset="23.17%" stop-color="#2553a6"/><stop offset="23.25%" stop-color="#2e82c7"/><stop offset="23.32%" stop-color="#47bcce"/><stop offset="23.4%" stop-color="#62c09f"/><stop offset="23.48%" stop-color="#56ba81"/><stop offset="23.55%" stop-color="#50b96c"/><stop offset="23.63%" stop-color="#54b95f"/><stop offset="23.85%" stop-color="#6fbe5d"/><stop offset="24.08%" stop-color="#a2ce51"/><stop offset="24.38%" stop-color="#6ebe5d"/><stop offset="24.76%" stop-color="#4eb860"/><stop offset="25.14%" stop-color="#73bf5d"/><stop offset="25.66%" stop-color="#d8df3c"/><stop offset="25.74%" stop-color="#e6e336"/><stop offset="26.49%" stop-color="#75c05c"/><stop offset="26.72%" stop-color="#62bc5e"/><stop offset="27.17%" stop-color="#7dc35a"/><stop offset="27.55%" stop-color="#a2ce51"/><stop offset="28.38%" stop-color="#70bf5d"/><stop offset="29.14%" stop-color="#8ac757"/><stop offset="29.44%" stop-color="#94ca54"/><stop offset="30.27%" stop-color="#77c15c"/><stop offset="31.1%" stop-color="#88c657"/><stop offset="32%" stop-color="#70bf5d"/><stop offset="32.99%" stop-color="#78c15b"/><stop offset="34.12%" stop-color="#70bf5d"/><stop offset="50.72%" stop-color="#70bf5d"/><stop offset="56.54%" stop-color="#6ebe5d"/><stop offset="61.82%" stop-color="#71bf5d"/><stop offset="63.86%" stop-color="#6cbe5e"/><stop offset="64.99%" stop-color="#5fbb5f"/><stop offset="65.82%" stop-color="#64bc5e"/><stop offset="66.12%" stop-color="#7ac15b"/><stop offset="66.5%" stop-color="#cada41"/><stop offset="66.8%" stop-color="#cbdb41"/><stop offset="67.03%" stop-color="#a5cf50"/><stop offset="67.26%" stop-color="#7bc25b"/><stop offset="67.63%" stop-color="#6fbe5d"/><stop offset="72.01%" stop-color="#70bf5d"/><stop offset="80.62%" stop-color="#6ebe5d"/><stop offset="82.88%" stop-color="#6ebe5d"/><stop offset="90.73%" stop-color="#6dbe5d"/><stop offset="99.94%" stop-color="#71bf5d"/></linearGradient>
<linearGradient id="hc33"><stop offset="0%" stop-color="#70bf5d"/><stop offset="11.78%" stop-color="#73bf5d"/><stop offset="17.44%" stop-color="#71bf5d"/><stop offset="19.25%" stop-color="#71bf5d"/><stop offset="19.7%" stop-color="#9dcc52"/><stop offset="20%" stop-color="#b8d548"/><stop offset="20.38%" stop-color="#f3e731"/><stop offset="20.68%" stop-color="#f6912d"/><stop offset="21.06%" stop-color="#ee3530"/><stop offset="21.14%" stop-color="#ed2b2b"/><stop offset="21.51%" stop-color="#ed2a2a"/><stop offset="21.59%" stop-color="#ef402f"/><stop offset="21.74%" stop-color="#f79b2d"/><stop offset="21.81%" stop-color="#f5e230"/><stop offset="21.97%" stop-color="#7cc25a"/><stop offset="22.04%" stop-color="#59ba5f"/><stop offset="22.12%" stop-color="#51b96e"/><stop offset="22.19%" stop-color="#57bb83"/><stop offset="22.27%" stop-color="#64c1a2"/><stop offset="22.34%" stop-color="#40bbd3"/><stop offset="22.42%" stop-color="#2f7fc5"/><stop offset="22.49%" stop-color="#2656a9"/><stop offset="22.72%" stop-color="#2d4ba3"/><stop offset="23.1%" stop-color="#294ea4"/><stop offset="23.17%" stop-color="#2656a9"/><stop offset="23.25%" stop-color="#2d89cb"/><stop offset="23.32%" stop-color="#51bec8"/><stop offset="23.4%" stop-color="#61bf9c"/><stop offset="23.55%" stop-color="#50b969"/><stop offset="23.63%" stop-color="#55ba5f"/><stop offset="23.85%" stop-color="#70bf5d"/><stop offset="24.08%" stop-color="#a2ce51"/><stop offset="24.38%" stop-color="#6dbe5d"/><stop offset="24.68%" stop-color="#50b960"/><stop offset="24.83%" stop-color="#56ba5f"/><stop offset="25.14%" stop-color="#75c05c"/><stop offset="25.74%" stop-color="#e6e336"/><stop offset="26.49%" stop-color="#73bf5d"/><stop offset="26.72%" stop-color="#62bc5e"/><stop offset="27.17%" stop-color="#7fc35a"/><stop offset="27.55%" stop-color="#a4cf50"/><stop offset="28.38%" stop-color="#70bf5d"/><stop offset="29.44%" stop-color="#94ca54"/><stop offset="30.27%" stop-color="#77c15c"/><stop offset="31.02%" stop-color="#8ac657"/><stop offset="32%" stop-color="#70bf5d"/><stop offset="32.99%" stop-color="#78c15b"/><stop offset="34.12%" stop-color="#70bf5d"/><stop offset="50.72%" stop-color="#70bf5d"/><stop offset="56.54%" stop-color="#6ebe5d"/><stop offset="61.82%" stop-color="#71bf5d"/><stop offset="63.86%" stop-color="#6cbe5d"/><stop offset="64.99%" stop-color="#5fbb5f"/><stop offset="65.82%" stop-color="#62bc5e"/><stop offset="66.12%" stop-color="#74c05d"/><stop offset="66.5%" stop-color="#c7da42"/><stop offset="66.8%" stop-color="#cbdb41"/><stop offset="66.88%" stop-color="#c7da42"/><stop offset="67.26%" stop-color="#7dc25a"/><stop offset="67.63%" stop-color="#6fbe5d"/><stop offset="72.01%" stop-color="#70bf5d"/><stop offset="80.62%" stop-color="#6ebe5d"/><stop offset="82.88%" stop-color="#6ebe5d"/><stop offset="90.73%" stop-color="#6dbe5d"/><stop offset="99.94%" stop-color="#71bf5d"/></linearGradient>
<linearGradient id="hc34"><stop offset="0%" stop-color="#70bf5d"/><stop offset="11.78%" stop-color="#73bf5d"/><stop offset="17.44%" stop-color="#71bf5d"/><stop offset="19.25%" stop-color="#71bf5d"/><stop offset="19.7%" stop-color="#9ecd52"/><stop offset="20%" stop-color="#bad548"/><stop offset="20.38%" stop-color="#f5e830"/><stop offset="20.61%" stop-color="#f7a02d"/><stop offset="21.06%" stop-color="#ee3230"/><stop offset="21.21%" stop-color="#ed2a2a"/><stop offset="21.51%" stop-color="#ed2c2c"/><stop offset="21.59%" stop-color="#f0462f"/><stop offset="21.66%" stop-color="#f36f2e"/><stop offset="21.74%" stop-color="#f8a22c"/><stop offset="21.81%" stop-color="#f1e732"/><stop offset="21.97%" stop-color="#74c05c"/><stop offset="22.04%" stop-color="#55b95f"/><stop offset="22.19%" stop-color="#57bb86"/><stop offset="22.27%" stop-color="#66c2a7"/><stop offset="22.34%" stop-color="#34b8dc"/><stop offset="22.42%" stop-color="#2e7ac1"/><stop offset="22.49%" stop-color="#2551a5"/><stop offset="22.87%" stop-color="#2f49a3"/><stop offset="23.1%" stop-color="#284ea4"/><stop offset="23.17%" stop-color="#285dad"/><stop offset="23.25%" stop-color="#2b95d3"/><stop offset="23.32%" stop-color="#5fc2be"/><stop offset="23.4%" stop-color="#5fbe97"/><stop offset="23.55%" stop-color="#4fb866"/><stop offset="23.78%" stop-color="#68bd5e"/><stop offset="23.93%" stop-color="#83c459"/><stop offset="24.08%" stop-color="#a0ce51"/><stop offset="24.38%" stop-color="#6cbe5d"/><stop offset="24.68%" stop-color="#4fb860"/><stop offset="24.83%" stop-color="#57ba5f"/><stop offset="25.14%" stop-color="#77c05c"/><stop offset="25.66%" stop-color="#dde03a"/><stop offset="25.74%" stop-color="#e4e337"/><stop offset="26.49%" stop-color="#72bf5d"/><stop offset="26.72%" stop-color="#62bc5e"/><stop offset="27.17%" stop-color="#80c35a"/><stop offset="27.55%" stop-color="#a5cf50"/><stop offset="28.38%" stop-color="#70bf5d"/><stop offset="29.36%" stop-color="#96ca54"/><stop offset="30.27%" stop-color="#78c15c"/><stop offset="31.02%" stop-color="#89c657"/><stop offset="32%" stop-color="#71bf5d"/><stop offset="32.91%" stop-color="#79c15b"/><stop offset="34.04%" stop-color="#70bf5d"/><stop offset="50.72%" stop-color="#70bf5d"/><stop offset="56.54%" stop-color="#6ebe5d"/><stop offset="61.82%" stop-color="#71bf5d"/><stop offset="63.93%" stop-color="#6bbe5e"/><stop offset="65.44%" stop-color="#5fbb5f"/><stop offset="65.97%" stop-color="#69bd5e"/><stop offset="66.12%" stop-color="#71bf5d"/><stop offset="66.5%" stop-color="#b8d548"/><stop offset="66.73%" stop-color="#c4d944"/><stop offset="66.88%" stop-color="#c0d745"/><stop offset="67.33%" stop-color="#78c15b"/><stop offset="67.93%" stop-color="#6dbe5d"/><stop offset="71.94%" stop-color="#71bf5d"/><stop offset="80.77%" stop-color="#6ebe5d"/><stop offset="82.8%" stop-color="#6fbe5d"/><stop offset="90.81%" stop-color="#6dbe5d"/><stop offset="99.94%" stop-color="#71bf5d"/></linearGradient>
<linearGradient id="hc35"><stop offset="0%" stop-color="#70bf5d"/><stop offset="11.78%" stop-color="#73bf5d"/><stop offset="17.44%" stop-color="#71bf5d"/><stop offset="19.25%" stop-color="#71bf5d"/><stop offset="19.7%" stop-color="#9ecd52"/><stop offset="20%" stop-color="#bbd647"/><stop offset="20.38%" stop-color="#f5e430"/><stop offset="20.61%" stop-color="#f79c2d"/><stop offset="21.06%" stop-color="#ee2f2f"/><stop offset="21.44%" stop-color="#ed2a2a"/><stop offset="21.51%" stop-color="#ed2d2d"/><stop offset="21.59%" stop-color="#f04b2f"/><stop offset="21.66%" stop-color="#f3752e"/><stop offset="21.74%" stop-color="#f8aa2c"/><stop offset="21.81%" stop-color="#e9e435"/><stop offset="21.89%" stop-color="#a9d04e"/><stop offset="21.97%" stop-color="#6fbe5d"/><stop offset="22.04%" stop-color="#50b960"/><stop offset="22.19%" stop-color="#59bb89"/><stop offset="22.27%" stop-color="#68c3ac"/><stop offset="22.34%" stop-color="#25b3e5"/><stop offset="22.42%" stop-color="#2c73bd"/><stop offset="22.49%" stop-color="#2650a5"/><stop offset="22.8%" stop-color="#3347a3"/><stop offset="23.1%" stop-color="#284fa4"/><stop offset="23.17%" stop-color="#2962b1"/><stop offset="23.25%" stop-color="#299fd9"/><stop offset="23.32%" stop-color="#6bc5b6"/><stop offset="23.4%" stop-color="#5dbd93"/><stop offset="23.55%" stop-color="#4eb864"/><stop offset="23.85%" stop-color="#74bf5d"/><stop offset="24%" stop-color="#98cb53"/><stop offset="24.08%" stop-color="#9fcd52"/><stop offset="24.31%" stop-color="#73bf5d"/><stop offset="24.68%" stop-color="#4eb860"/><stop offset="25.06%" stop-color="#6ebe5d"/><stop offset="25.51%" stop-color="#c0d745"/><stop offset="25.66%" stop-color="#dfe139"/><stop offset="25.74%" stop-color="#e3e237"/><stop offset="26.49%" stop-color="#71bf5d"/><stop offset="26.72%" stop-color="#63bc5e"/><stop offset="27.1%" stop-color="#79c15b"/><stop offset="27.55%" stop-color="#a5cf50"/><stop offset="28.38%" stop-color="#6fbe5d"/><stop offset="29.36%" stop-color="#96ca54"/><stop offset="30.27%" stop-color="#78c15b"/><stop offset="31.02%" stop-color="#89c657"/><stop offset="31.93%" stop-color="#70bf5d"/><stop offset="32.91%" stop-color="#79c15b"/><stop offset="34.04%" stop-color="#70bf5d"/><stop offset="50.72%" stop-color="#70bf5d"/><stop offset="56.54%" stop-color="#6ebe5d"/><stop offset="61.82%" stop-color="#71bf5d"/><stop offset="64.09%" stop-color="#6bbe5e"/><stop offset="65.67%" stop-color="#63bc5e"/><stop offset="66.12%" stop-color="#6fbe5d"/><stop offset="66.27%" stop-color="#83c459"/><stop offset="66.58%" stop-color="#b1d34b"/><stop offset="66.88%" stop-color="#b3d34a"/><stop offset="67.26%" stop-color="#83c459"/><stop offset="67.41%" stop-color="#75c05c"/><stop offset="68.46%" stop-color="#6fbe5d"/><stop offset="72.01%" stop-color="#70bf5d"/><stop offset="80.62%" stop-color="#6ebe5d"/><stop offset="82.88%" stop-color="#6ebe5d"/><stop offset="90.73%" stop-color="#6dbe5d"/><stop offset="99.94%" stop-color="#71bf5d"/></linearGradient>
<linearGradient id="hc36"><stop offset="0%" stop-color="#70bf5d"/><stop offset="11.78%" stop-color="#73bf5d"/><stop offset="17.44%" stop-color="#71bf5d"/><stop offset="19.25%" stop-color="#72bf5d"/><stop offset="19.63%" stop-color="#9acc53"/><stop offset="20%" stop-color="#bed746"/><stop offset="20.3%" stop-color="#eae534"/><stop offset="20.38%" stop-color="#f6df2f"/><stop offset="20.61%" stop-color="#f7982d"/><stop offset="21.06%" stop-color="#ee2e2e"/><stop offset="21.51%" stop-color="#ee2d2d"/><stop offset="21.59%" stop-color="#f04e2f"/><stop offset="21.66%" stop-color="#f47a2e"/><stop offset="21.74%" stop-color="#f9b32c"/><stop offset="21.81%" stop-color="#e1e238"/><stop offset="21.89%" stop-color="#a0cd51"/><stop offset="21.97%" stop-color="#6bbe5e"/><stop offset="22.04%" stop-color="#4db861"/><stop offset="22.19%" stop-color="#5bbd8f"/><stop offset="22.27%" stop-color="#6bc4b2"/><stop offset="22.34%" stop-color="#28a3db"/><stop offset="22.42%" stop-color="#2b6bb7"/><stop offset="22.49%" stop-color="#2750a5"/><stop offset="22.72%" stop-color="#2e4aa3"/><stop offset="22.8%" stop-color="#3746a4"/><stop offset="22.95%" stop-color="#2d4aa3"/><stop offset="23.1%" stop-color="#274fa5"/><stop offset="23.17%" stop-color="#2966b3"/><stop offset="23.25%" stop-color="#28a7de"/><stop offset="23.32%" stop-color="#6bc4b2"/><stop offset="23.4%" stop-color="#5bbc8f"/><stop offset="23.55%" stop-color="#4db861"/><stop offset="23.85%" stop-color="#76c05c"/><stop offset="24%" stop-color="#9bcc53"/><stop offset="24.08%" stop-color="#9dcc52"/><stop offset="24.31%" stop-color="#72bf5d"/><stop offset="24.68%" stop-color="#4db860"/><stop offset="25.14%" stop-color="#7bc25b"/><stop offset="25.59%" stop-color="#d3dd3e"/><stop offset="25.66%" stop-color="#e3e237"/><stop offset="25.74%" stop-color="#e2e237"/><stop offset="26.49%" stop-color="#70bf5d"/><stop offset="26.72%" stop-color="#63bc5e"/><stop offset="27.1%" stop-color="#7ac25b"/><stop offset="27.55%" stop-color="#a5cf50"/><stop offset="28.38%" stop-color="#6fbe5d"/><stop offset="29.36%" stop-color="#96ca54"/><stop offset="30.27%" stop-color="#78c15b"/><stop offset="31.02%" stop-color="#89c657"/><stop offset="31.93%" stop-color="#70bf5d"/><stop offset="32.91%" stop-color="#79c15b"/><stop offset="34.04%" stop-color="#70bf5d"/><stop offset="50.72%" stop-color="#70bf5d"/><stop offset="56.54%" stop-color="#6ebe5d"/><stop offset="61.82%" stop-color="#71bf5d"/><stop offset="64.01%" stop-color="#6bbe5e"/><stop offset="65.52%" stop-color="#5fbb5f"/><stop offset="66.05%" stop-color="#6abd5e"/><stop offset="66.2%" stop-color="#72bf5d"/><stop offset="66.58%" stop-color="#bed746"/><stop offset="66.88%" stop-color="#c4d943"/><stop offset="66.95%" stop-color="#c3d844"/><stop offset="67.33%" stop-color="#7ec35a"/><stop offset="67.63%" stop-color="#70bf5d"/><stop offset="72.01%" stop-color="#70bf5d"/><stop offset="80.62%" stop-color="#6ebe5d"/><stop offset="82.88%" stop-color="#6ebe5d"/><stop offset="90.73%" stop-color="#6dbe5d"/><stop offset="99.94%" stop-color="#71bf5d"/></linearGradient>
<linearGradient id="hd0"><stop offset="0%" stop-color="#68c3ac"/><stop offset="6.57%" stop-color="#68c3ab"/><stop offset="15.25%" stop-color="#67c3ab"/><stop offset="19.1%" stop-color="#68c3ab"/><stop offset="19.93%" stop-color="#6bc4b2"/><stop offset="20.08%" stop-color="#6bc5b6"/><stop offset="20.38%" stop-color="#29b5e4"/><stop offset="20.76%" stop-color="#2d75be"/><stop offset="21.06%" stop-color="#2650a5"/><stop offset="21.36%" stop-color="#2e4aa3"/><stop offset="21.81%" stop-color="#2b4ca4"/><stop offset="21.89%" stop-color="#2750a5"/><stop offset="21.97%" stop-color="#2a66b4"/><stop offset="22.04%" stop-color="#2b94d2"/><stop offset="22.12%" stop-color="#69c3ae"/><stop offset="22.19%" stop-color="#57bb85"/><stop offset="22.27%" stop-color="#50b96d"/><stop offset="22.34%" stop-color="#57ba5f"/><stop offset="22.42%" stop-color="#6bbe5e"/><stop offset="22.64%" stop-color="#d1dd3e"/><stop offset="22.72%" stop-color="#ece533"/><stop offset="23.02%" stop-color="#eee633"/><stop offset="23.1%" stop-color="#ebe534"/><stop offset="23.17%" stop-color="#dbe03a"/><stop offset="23.4%" stop-color="#78c15b"/><stop offset="23.55%" stop-color="#57ba5f"/><stop offset="23.63%" stop-color="#4eb864"/><stop offset="24.08%" stop-color="#6bc4b2"/><stop offset="24.15%" stop-color="#53bfc6"/><stop offset="24.38%" stop-color="#6bc5b4"/><stop offset="24.91%" stop-color="#5bbd90"/><stop offset="25.59%" stop-color="#69c4b7"/><stop offset="25.97%" stop-color="#33b7dc"/><stop offset="26.12%" stop-color="#3bb9d6"/><stop offset="26.57%" stop-color="#6cc5b5"/><stop offset="27.02%" stop-color="#67c3aa"/><stop offset="27.78%" stop-color="#68c4b8"/><stop offset="29.66%" stop-color="#62c3bc"/><stop offset="30.5%" stop-color="#6bc4b2"/><stop offset="31.85%" stop-color="#69c3ae"/><stop offset="34.12%" stop-color="#69c4af"/><stop offset="37.52%" stop-color="#66c2a8"/><stop offset="46.8%" stop-color="#68c3ac"/><stop offset="48.84%" stop-color="#67c2a9"/><stop offset="51.03%" stop-color="#66c2a8"/><stop offset="58.5%" stop-color="#68c3ab"/><stop offset="62.27%" stop-color="#69c3ae"/><stop offset="63.78%" stop-color="#67c3aa"/><stop offset="64.54%" stop-color="#5dbd93"/><stop offset="64.99%" stop-color="#58bb86"/><stop offset="65.37%" stop-color="#59bb8a"/><stop offset="65.67%" stop-color="#67c2a9"/><stop offset="65.75%" stop-color="#63c3bb"/><stop offset="65.82%" stop-color="#31b7dd"/><stop offset="65.97%" stop-color="#2c73bd"/><stop offset="66.12%" stop-color="#2650a5"/><stop offset="66.95%" stop-color="#2553a7"/><stop offset="67.1%" stop-color="#2e7dc3"/><stop offset="67.18%" stop-color="#299fd9"/><stop offset="67.26%" stop-color="#35b8db"/><stop offset="67.33%" stop-color="#5bc1c0"/><stop offset="67.41%" stop-color="#6ac4b6"/><stop offset="67.78%" stop-color="#67c2aa"/><stop offset="71.78%" stop-color="#68c3ac"/><stop offset="80.92%" stop-color="#68c3ac"/><stop offset="82.73%" stop-color="#68c3ac"/><stop offset="97.22%" stop-color="#68c3ac"/><stop offset="99.94%" stop-color="#65c2a6"/></linearGradient>
<linearGradient id="hd1"><stop offset="0%" stop-color="#68c3ac"/><stop offset="6.57%" stop-color="#68c3ab"/><stop offset="15.25%" stop-color="#67c3ab"/><stop offset="19.1%" stop-color="#68c3ab"/><stop offset="20%" stop-color="#6bc5b4"/><stop offset="20.08%" stop-color="#6bc5b5"/><stop offset="20.38%" stop-color="#29b5e3"/><stop offset="20.76%" stop-color="#2d77bf"/><stop offset="21.06%" stop-color="#2650a5"/><stop offset="21.36%" stop-color="#2e4aa3"/><stop offset="21.81%" stop-color="#294ea4"/><stop offset="21.89%" stop-color="#2551a5"/><stop offset="21.97%" stop-color="#2c73bd"/><stop offset="22.04%" stop-color="#25b3e5"/><stop offset="22.12%" stop-color="#64c1a4"/><stop offset="22.19%" stop-color="#56ba80"/><stop offset="22.27%" stop-color="#50b969"/><stop offset="22.34%" stop-color="#58ba5f"/><stop offset="22.42%" stop-color="#6cbe5e"/><stop offset="22.64%" stop-color="#c9da42"/><stop offset="22.72%" stop-color="#dce03a"/><stop offset="23.1%" stop-color="#dae03b"/><stop offset="23.17%" stop-color="#c3d944"/><stop offset="23.32%" stop-color="#85c558"/><stop offset="23.4%" stop-color="#6dbe5d"/><stop offset="23.55%" stop-color="#50b960"/><stop offset="23.93%" stop-color="#62c09e"/><stop offset="24.08%" stop-color="#6cc5b4"/><stop offset="24.15%" stop-color="#58c0c3"/><stop offset="24.31%" stop-color="#69c4b7"/><stop offset="24.91%" stop-color="#5cbd92"/><stop offset="25.51%" stop-color="#6bc5b3"/><stop offset="25.74%" stop-color="#53bfc6"/><stop offset="25.97%" stop-color="#34b8db"/><stop offset="26.57%" stop-color="#6cc5b4"/><stop offset="26.95%" stop-color="#67c2a9"/><stop offset="27.78%" stop-color="#68c4b8"/><stop offset="28.61%" stop-color="#67c4b9"/><stop offset="29.66%" stop-color="#64c3bb"/><stop offset="30.57%" stop-color="#6ac4b1"/><stop offset="31.93%" stop-color="#69c3ae"/><stop offset="34.12%" stop-color="#69c4af"/><stop offset="37.52%" stop-color="#66c2a8"/><stop offset="46.8%" stop-color="#68c3ac"/><stop offset="48.84%" stop-color="#67c2a9"/><stop offset="51.03%" stop-color="#66c2a8"/><stop offset="58.5%" stop-color="#68c3ab"/><stop offset="62.27%" stop-color="#69c3ae"/><stop offset="63.78%" stop-color="#67c3aa"/><stop offset="64.46%" stop-color="#5ebe96"/><stop offset="64.92%" stop-color="#58bb86"/><stop offset="65.37%" stop-color="#59bc8b"/><stop offset="65.67%" stop-color="#68c3ab"/><stop offset="65.75%" stop-color="#56c0c4"/><stop offset="65.82%" stop-color="#25b4e6"/><stop offset="65.9%" stop-color="#2e87ca"/><stop offset="66.05%" stop-color="#2759aa"/><stop offset="66.2%" stop-color="#2750a5"/><stop offset="66.88%" stop-color="#2650a5"/><stop offset="66.95%" stop-color="#2759ab"/><stop offset="67.1%" stop-color="#2e85c9"/><stop offset="67.18%" stop-color="#27a9df"/><stop offset="67.26%" stop-color="#40bad4"/><stop offset="67.33%" stop-color="#64c3bb"/><stop offset="67.41%" stop-color="#6cc5b5"/><stop offset="67.78%" stop-color="#67c2aa"/><stop offset="71.86%" stop-color="#68c3ac"/><stop offset="81.07%" stop-color="#68c3ad"/><stop offset="82.88%" stop-color="#67c3ab"/><stop offset="97.68%" stop-color="#68c3ad"/><stop offset="99.94%" stop-color="#65c2a6"/></linearGradient>
<linearGradient id="hd2"><stop offset="0%" stop-color="#68c3ac"/><stop offset="6.57%" stop-color="#68c3ab"/><stop offset="15.25%" stop-color="#67c3ab"/><stop offset="19.1%" stop-color="#68c3ab"/><stop offset="20%" stop-color="#6bc5b6"/><stop offset="20.3%" stop-color="#27b4e5"/><stop offset="20.61%" stop-color="#2e7bc2"/><stop offset="20.91%" stop-color="#2553a7"/><stop offset="21.29%" stop-color="#2e4aa3"/><stop offset="21.81%" stop-color="#284ea4"/><stop offset="21.89%" stop-color="#2759aa"/><stop offset="21.97%" stop-color="#2f80c6"/><stop offset="22.04%" stop-color="#67c4b9"/><stop offset="22.12%" stop-color="#58bb88"/><stop offset="22.19%" stop-color="#51b96f"/><stop offset="22.27%" stop-color="#57ba5f"/><stop offset="22.34%" stop-color="#6dbe5d"/><stop offset="22.57%" stop-color="#dee139"/><stop offset="22.64%" stop-color="#f6da2f"/><stop offset="22.87%" stop-color="#f7d22e"/><stop offset="23.02%" stop-color="#f6d92f"/><stop offset="23.1%" stop-color="#f5e630"/><stop offset="23.32%" stop-color="#8ac757"/><stop offset="23.4%" stop-color="#6ebe5d"/><stop offset="23.55%" stop-color="#4fb860"/><stop offset="24%" stop-color="#6ac4b0"/><stop offset="24.08%" stop-color="#58c0c3"/><stop offset="24.23%" stop-color="#63c3bb"/><stop offset="24.31%" stop-color="#6cc5b5"/><stop offset="24.83%" stop-color="#5bbd8f"/><stop offset="25.51%" stop-color="#69c4b7"/><stop offset="25.89%" stop-color="#31b7de"/><stop offset="25.97%" stop-color="#2eb6e0"/><stop offset="26.49%" stop-color="#6ac5b6"/><stop offset="26.95%" stop-color="#67c2a9"/><stop offset="27.63%" stop-color="#69c4b7"/><stop offset="27.85%" stop-color="#64c3bb"/><stop offset="28.38%" stop-color="#66c4b9"/><stop offset="29.59%" stop-color="#60c2bd"/><stop offset="30.5%" stop-color="#6bc4b2"/><stop offset="31.85%" stop-color="#69c3ae"/><stop offset="34.12%" stop-color="#69c4af"/><stop offset="37.52%" stop-color="#66c2a8"/><stop offset="46.8%" stop-color="#68c3ac"/><stop offset="48.84%" stop-color="#67c2a9"/><stop offset="51.03%" stop-color="#66c2a8"/><stop offset="58.5%" stop-color="#68c3ab"/><stop offset="62.27%" stop-color="#69c3ae"/><stop offset="63.78%" stop-color="#67c3aa"/><stop offset="64.54%" stop-color="#5dbd93"/><stop offset="64.99%" stop-color="#58bb88"/><stop offset="65.37%" stop-color="#5bbc8e"/><stop offset="65.67%" stop-color="#69c4af"/><stop offset="65.75%" stop-color="#4fbec9"/><stop offset="65.82%" stop-color="#26b0e4"/><stop offset="65.9%" stop-color="#2e87ca"/><stop offset="66.05%" stop-color="#275bac"/><stop offset="66.12%" stop-color="#2651a5"/><stop offset="66.88%" stop-color="#2551a5"/><stop offset="67.03%" stop-color="#2d77bf"/><stop offset="67.18%" stop-color="#26b4e5"/><stop offset="67.33%" stop-color="#67c4b8"/><stop offset="67.63%" stop-color="#68c3ab"/><stop offset="72.09%" stop-color="#67c3aa"/><stop offset="81.52%" stop-color="#69c4ae"/><stop offset="85.98%" stop-color="#69c3ad"/><stop offset="95.56%" stop-color="#68c3ab"/><stop offset="99.79%" stop-color="#66c2a7"/><stop offset="99.94%" stop-color="#65c2a6"/></linearGradient>
<linearGradient id="hd3"><stop offset="0%" stop-color="#68c3ac"/><stop offset="6.57%" stop-color="#68c3ab"/><stop offset="15.25%" stop-color="#67c3ab"/><stop offset="19.1%" stop-color="#68c3ab"/><stop offset="19.93%" stop-color="#6cc5b5"/><stop offset="20%" stop-color="#62c3bc"/><stop offset="20.23%" stop-color="#2ab5e3"/><stop offset="20.61%" stop-color="#2c72bc"/><stop offset="20.83%" stop-color="#2553a6"/><stop offset="21.29%" stop-color="#2e4aa3"/><stop offset="21.74%" stop-color="#2a4da4"/><stop offset="21.81%" stop-color="#2650a5"/><stop offset="21.89%" stop-color="#2c70bb"/><stop offset="21.97%" stop-color="#3bb9d6"/><stop offset="22.04%" stop-color="#5ebe96"/><stop offset="22.12%" stop-color="#53ba76"/><stop offset="22.19%" stop-color="#52b960"/><stop offset="22.27%" stop-color="#69bd5e"/><stop offset="22.34%" stop-color="#8cc756"/><stop offset="22.42%" stop-color="#b9d548"/><stop offset="22.49%" stop-color="#dee139"/><stop offset="22.57%" stop-color="#f6d82f"/><stop offset="22.64%" stop-color="#f7c92e"/><stop offset="22.87%" stop-color="#f8c42d"/><stop offset="23.02%" stop-color="#f7cb2e"/><stop offset="23.1%" stop-color="#e8e435"/><stop offset="23.32%" stop-color="#7cc25b"/><stop offset="23.48%" stop-color="#56ba5f"/><stop offset="23.55%" stop-color="#4fb967"/><stop offset="23.93%" stop-color="#68c3ac"/><stop offset="24.08%" stop-color="#56c0c5"/><stop offset="24.23%" stop-color="#6ac5b6"/><stop offset="24.76%" stop-color="#5bbd90"/><stop offset="25.21%" stop-color="#66c2a8"/><stop offset="25.44%" stop-color="#6bc5b5"/><stop offset="25.89%" stop-color="#28b5e4"/><stop offset="26.42%" stop-color="#68c4b8"/><stop offset="26.87%" stop-color="#66c2a8"/><stop offset="27.55%" stop-color="#68c4b7"/><stop offset="27.78%" stop-color="#61c2bd"/><stop offset="28.31%" stop-color="#65c3ba"/><stop offset="29.51%" stop-color="#5fc2be"/><stop offset="30.42%" stop-color="#6bc4b2"/><stop offset="31.78%" stop-color="#69c3ad"/><stop offset="34.12%" stop-color="#69c4af"/><stop offset="37.52%" stop-color="#66c2a8"/><stop offset="46.8%" stop-color="#68c3ac"/><stop offset="48.84%" stop-color="#67c2a9"/><stop offset="51.03%" stop-color="#66c2a8"/><stop offset="58.5%" stop-color="#68c3ab"/><stop offset="62.27%" stop-color="#69c3ae"/><stop offset="63.78%" stop-color="#67c3aa"/><stop offset="64.54%" stop-color="#5dbd93"/><stop offset="64.99%" stop-color="#58bb88"/><stop offset="65.37%" stop-color="#5bbd8f"/><stop offset="65.67%" stop-color="#6ac4b1"/><stop offset="65.75%" stop-color="#49bdcd"/><stop offset="65.82%" stop-color="#27aae0"/><stop offset="65.9%" stop-color="#2e83c7"/><stop offset="66.05%" stop-color="#2759ab"/><stop offset="66.2%" stop-color="#2650a5"/><stop offset="66.88%" stop-color="#2655a8"/><stop offset="67.03%" stop-color="#2e7bc2"/><stop offset="67.18%" stop-color="#2db6e1"/><stop offset="67.26%" stop-color="#51bec8"/><stop offset="67.33%" stop-color="#69c4b7"/><stop offset="67.78%" stop-color="#67c3aa"/><stop offset="72.09%" stop-color="#67c3aa"/><stop offset="81.52%" stop-color="#69c4ae"/><stop offset="85.98%" stop-color="#69c3ad"/><stop offset="95.56%" stop-color="#68c3ab"/><stop offset="99.79%" stop-color="#66c2a7"/><stop offset="99.94%" stop-color="#65c2a6"/></linearGradient>
<linearGradient id="hd4"><stop offset="0%" stop-color="#68c3ac"/><stop offset="6.57%" stop-color="#68c3ab"/><stop offset="15.25%" stop-color="#67c3ab"/><stop offset="19.1%" stop-color="#68c3ab"/><stop offset="19.85%" stop-color="#6cc5b5"/><stop offset="19.93%" stop-color="#67c4b8"/><stop offset="20.15%" stop-color="#2cb6e1"/><stop offset="20.23%" stop-color="#27aae0"/><stop offset="20.46%" stop-color="#2e7bc2"/><stop offset="20.76%" stop-color="#2551a5"/><stop offset="21.29%" stop-color="#2e4aa3"/><stop offset="21.74%" stop-color="#284ea4"/><stop offset="21.81%" stop-color="#275aab"/><stop offset="21.89%" stop-color="#2c8dce"/><stop offset="21.97%" stop-color="#67c3aa"/><stop offset="22.04%" stop-color="#56ba7f"/><stop offset="22.12%" stop-color="#4eb864"/><stop offset="22.19%" stop-color="#64bc5e"/><stop offset="22.27%" stop-color="#85c558"/><stop offset="22.42%" stop-color="#e0e238"/><stop offset="22.49%" stop-color="#f7d32e"/><stop offset="22.57%" stop-color="#f9b12c"/><stop offset="22.8%" stop-color="#f8a82c"/><stop offset="22.95%" stop-color="#f9af2c"/><stop offset="23.02%" stop-color="#f7ca2e"/><stop offset="23.1%" stop-color="#e4e337"/><stop offset="23.32%" stop-color="#74c05d"/><stop offset="23.48%" stop-color="#50b960"/><stop offset="23.93%" stop-color="#6bc5b3"/><stop offset="24%" stop-color="#4fbec9"/><stop offset="24.23%" stop-color="#6bc5b4"/><stop offset="24.76%" stop-color="#59bc8b"/><stop offset="25.36%" stop-color="#6cc5b4"/><stop offset="25.82%" stop-color="#26b4e6"/><stop offset="26.12%" stop-color="#47bcce"/><stop offset="26.42%" stop-color="#6cc5b5"/><stop offset="26.8%" stop-color="#65c2a6"/><stop offset="27.48%" stop-color="#68c4b8"/><stop offset="27.78%" stop-color="#5fc2be"/><stop offset="28.31%" stop-color="#63c3bb"/><stop offset="29.44%" stop-color="#5dc1c0"/><stop offset="30.42%" stop-color="#6bc4b2"/><stop offset="31.85%" stop-color="#69c3ae"/><stop offset="34.12%" stop-color="#69c4af"/><stop offset="37.52%" stop-color="#66c2a8"/><stop offset="46.8%" stop-color="#68c3ac"/><stop offset="48.84%" stop-color="#67c2a9"/><stop offset="51.03%" stop-color="#66c2a8"/><stop offset="58.5%" stop-color="#68c3ab"/><stop offset="62.27%" stop-color="#69c3ae"/><stop offset="63.78%" stop-color="#67c2aa"/><stop offset="64.61%" stop-color="#5bbd8f"/><stop offset="65.07%" stop-color="#58bb88"/><stop offset="65.37%" stop-color="#5cbd90"/><stop offset="65.67%" stop-color="#6bc5b3"/><stop offset="65.75%" stop-color="#43bbd1"/><stop offset="65.82%" stop-color="#28a5dd"/><stop offset="65.9%" stop-color="#2f7fc5"/><stop offset="66.05%" stop-color="#2657a9"/><stop offset="66.27%" stop-color="#2650a5"/><stop offset="66.8%" stop-color="#2651a5"/><stop offset="66.88%" stop-color="#2657a9"/><stop offset="67.03%" stop-color="#2f7ec4"/><stop offset="67.1%" stop-color="#299ed9"/><stop offset="67.18%" stop-color="#32b7dd"/><stop offset="67.26%" stop-color="#55c0c5"/><stop offset="67.33%" stop-color="#6ac4b7"/><stop offset="67.78%" stop-color="#67c3aa"/><stop offset="72.09%" stop-color="#67c3aa"/><stop offset="81.52%" stop-color="#69c4ae"/><stop offset="85.98%" stop-color="#69c3ad"/><stop offset="95.56%" stop-color="#68c3ab"/><stop offset="99.79%" stop-color="#66c2a7"/><stop offset="99.94%" stop-color="#65c2a6"/></linearGradient>
<linearGradient id="hd5"><stop offset="0%" stop-color="#68c3ac"/><stop offset="6.57%" stop-color="#68c3ab"/><stop offset="15.25%" stop-color="#67c3ab"/><stop offset="19.1%" stop-color="#68c3ab"/><stop offset="19.85%" stop-color="#6ac5b6"/><stop offset="19.93%" stop-color="#60c2bd"/><stop offset="20.15%" stop-color="#25b3e6"/><stop offset="20.38%" stop-color="#2f81c6"/><stop offset="20.76%" stop-color="#2650a5"/><stop offset="21.21%" stop-color="#2e4aa3"/><stop offset="21.66%" stop-color="#2b4ca4"/><stop offset="21.74%" stop-color="#274fa5"/><stop offset="21.81%" stop-color="#2a68b5"/><stop offset="21.89%" stop-color="#30b7df"/><stop offset="21.97%" stop-color="#5fbe97"/><stop offset="22.04%" stop-color="#53ba74"/><stop offset="22.12%" stop-color="#56ba5f"/><stop offset="22.19%" stop-color="#6fbe5d"/><stop offset="22.27%" stop-color="#9acc53"/><stop offset="22.34%" stop-color="#cfdc3f"/><stop offset="22.42%" stop-color="#f5e830"/><stop offset="22.49%" stop-color="#f9b92c"/><stop offset="22.57%" stop-color="#f8a72c"/><stop offset="22.8%" stop-color="#f7a02d"/><stop offset="22.95%" stop-color="#f8a72c"/><stop offset="23.02%" stop-color="#f6d52f"/><stop offset="23.1%" stop-color="#dbe03a"/><stop offset="23.25%" stop-color="#8dc756"/><stop offset="23.32%" stop-color="#6ebe5d"/><stop offset="23.48%" stop-color="#4eb862"/><stop offset="23.85%" stop-color="#68c3ab"/><stop offset="23.93%" stop-color="#62c3bc"/><stop offset="24%" stop-color="#53bfc7"/><stop offset="24.15%" stop-color="#69c4b7"/><stop offset="24.61%" stop-color="#5dbe94"/><stop offset="24.76%" stop-color="#5abc8d"/><stop offset="25.36%" stop-color="#6ac4b6"/><stop offset="25.74%" stop-color="#2cb6e1"/><stop offset="25.82%" stop-color="#26b0e4"/><stop offset="26.42%" stop-color="#6bc5b3"/><stop offset="26.8%" stop-color="#66c2a7"/><stop offset="27.4%" stop-color="#6ac4b7"/><stop offset="27.7%" stop-color="#5cc1c0"/><stop offset="28.23%" stop-color="#63c3bb"/><stop offset="29.44%" stop-color="#5dc1c0"/><stop offset="30.34%" stop-color="#6bc5b3"/><stop offset="31.78%" stop-color="#69c3ad"/><stop offset="34.19%" stop-color="#6ac4af"/><stop offset="39.33%" stop-color="#67c3aa"/><stop offset="46.8%" stop-color="#68c3ac"/><stop offset="48.84%" stop-color="#67c2a9"/><stop offset="51.03%" stop-color="#66c2a8"/><stop offset="58.5%" stop-color="#68c3ab"/><stop offset="62.27%" stop-color="#69c3ae"/><stop offset="63.78%" stop-color="#67c2aa"/><stop offset="64.61%" stop-color="#5bbd90"/><stop offset="65.07%" stop-color="#59bb8a"/><stop offset="65.37%" stop-color="#5cbd92"/><stop offset="65.67%" stop-color="#6cc5b4"/><stop offset="65.75%" stop-color="#42bbd2"/><stop offset="65.82%" stop-color="#28a5dd"/><stop offset="65.9%" stop-color="#2f81c6"/><stop offset="66.05%" stop-color="#275aab"/><stop offset="66.2%" stop-color="#2551a5"/><stop offset="66.8%" stop-color="#2551a5"/><stop offset="66.95%" stop-color="#2c70bb"/><stop offset="67.03%" stop-color="#2e85c9"/><stop offset="67.1%" stop-color="#28a5dd"/><stop offset="67.18%" stop-color="#38b9d9"/><stop offset="67.26%" stop-color="#5ac1c1"/><stop offset="67.33%" stop-color="#6bc5b6"/><stop offset="67.78%" stop-color="#67c3aa"/><stop offset="72.09%" stop-color="#67c3aa"/><stop offset="81.52%" stop-color="#69c4ae"/><stop offset="85.98%" stop-color="#69c3ad"/><stop offset="95.56%" stop-color="#68c3ab"/><stop offset="99.79%" stop-color="#66c2a7"/><stop offset="99.94%" stop-color="#65c2a6"/></linearGradient>
<linearGradient id="hd6"><stop offset="0%" stop-color="#68c3ac"/><stop offset="6.57%" stop-color="#68c3ab"/><stop offset="15.25%" stop-color="#67c3ab"/><stop offset="19.1%" stop-color="#68c3ab"/><stop offset="19.85%" stop-color="#69c4b7"/><stop offset="20%" stop-color="#45bcd0"/><stop offset="20.08%" stop-color="#31b7de"/><stop offset="20.15%" stop-color="#26aee2"/><stop offset="20.38%" stop-color="#2e7cc3"/><stop offset="20.68%" stop-color="#2551a5"/><stop offset="21.21%" stop-color="#2e4aa3"/><stop offset="21.66%" stop-color="#2b4ca4"/><stop offset="21.74%" stop-color="#2650a5"/><stop offset="21.81%" stop-color="#2b6eb9"/><stop offset="21.89%" stop-color="#4bbdcc"/><stop offset="21.97%" stop-color="#5abc8c"/><stop offset="22.04%" stop-color="#51b96e"/><stop offset="22.12%" stop-color="#5ebb5f"/><stop offset="22.19%" stop-color="#79c15b"/><stop offset="22.34%" stop-color="#dee139"/><stop offset="22.42%" stop-color="#f6d42f"/><stop offset="22.49%" stop-color="#f8a42c"/><stop offset="22.72%" stop-color="#f6932d"/><stop offset="22.95%" stop-color="#f7a02d"/><stop offset="23.02%" stop-color="#f6d42f"/><stop offset="23.1%" stop-color="#dae03b"/><stop offset="23.25%" stop-color="#8bc757"/><stop offset="23.32%" stop-color="#6dbe5d"/><stop offset="23.48%" stop-color="#4eb864"/><stop offset="23.85%" stop-color="#69c3ae"/><stop offset="23.93%" stop-color="#59c1c2"/><stop offset="24%" stop-color="#54bfc6"/><stop offset="24.15%" stop-color="#6ac5b6"/><stop offset="24.68%" stop-color="#5abc8b"/><stop offset="25.29%" stop-color="#6bc4b2"/><stop offset="25.44%" stop-color="#5ac1c1"/><stop offset="25.74%" stop-color="#27b5e4"/><stop offset="25.82%" stop-color="#26b0e4"/><stop offset="26.34%" stop-color="#69c4b7"/><stop offset="26.72%" stop-color="#65c2a5"/><stop offset="27.4%" stop-color="#68c4b8"/><stop offset="27.7%" stop-color="#5bc1c0"/><stop offset="28.23%" stop-color="#63c3bb"/><stop offset="29.44%" stop-color="#5cc1c0"/><stop offset="30.34%" stop-color="#6bc5b3"/><stop offset="31.78%" stop-color="#69c3ad"/><stop offset="34.19%" stop-color="#6ac4af"/><stop offset="39.33%" stop-color="#67c3aa"/><stop offset="46.8%" stop-color="#68c3ac"/><stop offset="48.84%" stop-color="#67c2a9"/><stop offset="51.03%" stop-color="#66c2a8"/><stop offset="58.5%" stop-color="#68c3ab"/><stop offset="62.27%" stop-color="#69c3ae"/><stop offset="63.78%" stop-color="#67c2aa"/><stop offset="64.54%" stop-color="#5cbd92"/><stop offset="64.92%" stop-color="#58bb88"/><stop offset="65.37%" stop-color="#5cbd91"/><stop offset="65.59%" stop-color="#66c2a8"/><stop offset="65.67%" stop-color="#6ac4b7"/><stop offset="65.75%" stop-color="#3bb9d7"/><stop offset="65.82%" stop-color="#299ed8"/><stop offset="65.9%" stop-color="#2e7bc2"/><stop offset="66.05%" stop-color="#2553a7"/><stop offset="66.8%" stop-color="#2651a5"/><stop offset="66.88%" stop-color="#275aab"/><stop offset="67.03%" stop-color="#2e82c7"/><stop offset="67.1%" stop-color="#28a4dc"/><stop offset="67.18%" stop-color="#38b8d9"/><stop offset="67.26%" stop-color="#5cc1c0"/><stop offset="67.33%" stop-color="#6bc5b6"/><stop offset="67.78%" stop-color="#67c3aa"/><stop offset="72.09%" stop-color="#67c3aa"/><stop offset="81.52%" stop-color="#69c4ae"/><stop offset="85.98%" stop-color="#69c3ad"/><stop offset="95.56%" stop-color="#68c3ab"/><stop offset="99.79%" stop-color="#66c2a7"/><stop offset="99.94%" stop-color="#65c2a6"/></linearGradient>
<linearGradient id="hd7"><stop offset="0%" stop-color="#68c3ac"/><stop offset="6.57%" stop-color="#68c3ab"/><stop offset="15.25%" stop-color="#67c3ab"/><stop offset="19.1%" stop-color="#68c3ab"/><stop offset="19.78%" stop-color="#6cc5b5"/><stop offset="19.85%" stop-color="#67c4b8"/><stop offset="20.08%" stop-color="#2db6e0"/><stop offset="20.15%" stop-color="#27aae0"/><stop offset="20.38%" stop-color="#2e79c1"/><stop offset="20.68%" stop-color="#2551a5"/><stop offset="21.29%" stop-color="#2e4aa3"/><stop offset="21.66%" stop-color="#2b4ca4"/><stop offset="21.74%" stop-color="#2650a5"/><stop offset="21.81%" stop-color="#2c6fba"/><stop offset="21.89%" stop-color="#56c0c4"/><stop offset="21.97%" stop-color="#58bb87"/><stop offset="22.04%" stop-color="#50b96a"/><stop offset="22.12%" stop-color="#62bc5e"/><stop offset="22.19%" stop-color="#82c459"/><stop offset="22.34%" stop-color="#eae534"/><stop offset="22.42%" stop-color="#f8c42d"/><stop offset="22.49%" stop-color="#f6932d"/><stop offset="22.72%" stop-color="#f5862d"/><stop offset="22.87%" stop-color="#f58b2d"/><stop offset="22.95%" stop-color="#f7972d"/><stop offset="23.02%" stop-color="#f7cd2e"/><stop offset="23.1%" stop-color="#dfe139"/><stop offset="23.25%" stop-color="#8ec856"/><stop offset="23.32%" stop-color="#6ebe5d"/><stop offset="23.48%" stop-color="#4eb864"/><stop offset="23.85%" stop-color="#69c4af"/><stop offset="23.93%" stop-color="#55bfc5"/><stop offset="24%" stop-color="#54bfc6"/><stop offset="24.15%" stop-color="#6bc5b6"/><stop offset="24.68%" stop-color="#59bb8a"/><stop offset="25.29%" stop-color="#6bc5b3"/><stop offset="25.44%" stop-color="#58c0c3"/><stop offset="25.74%" stop-color="#25b3e5"/><stop offset="25.82%" stop-color="#26afe3"/><stop offset="26.12%" stop-color="#4bbdcc"/><stop offset="26.34%" stop-color="#69c4b7"/><stop offset="26.72%" stop-color="#65c1a5"/><stop offset="27.32%" stop-color="#6bc5b5"/><stop offset="27.63%" stop-color="#59c0c2"/><stop offset="28.23%" stop-color="#62c3bc"/><stop offset="29.44%" stop-color="#5bc1c0"/><stop offset="30.34%" stop-color="#6bc5b3"/><stop offset="31.78%" stop-color="#69c3ad"/><stop offset="34.19%" stop-color="#6ac4af"/><stop offset="39.33%" stop-color="#67c3aa"/><stop offset="46.8%" stop-color="#68c3ac"/><stop offset="48.84%" stop-color="#67c2a9"/><stop offset="51.03%" stop-color="#66c2a8"/><stop offset="58.5%" stop-color="#68c3ab"/><stop offset="62.27%" stop-color="#69c3ae"/><stop offset="63.78%" stop-color="#67c3aa"/><stop offset="64.61%" stop-color="#5cbd91"/><stop offset="65.07%" stop-color="#5abc8c"/><stop offset="65.37%" stop-color="#5dbe94"/><stop offset="65.59%" stop-color="#66c2a9"/><stop offset="65.67%" stop-color="#6bc5b6"/><stop offset="65.75%" stop-color="#42bbd2"/><stop offset="65.82%" stop-color="#27a8df"/><stop offset="65.9%" stop-color="#2d88ca"/><stop offset="66.05%" stop-color="#2860af"/><stop offset="66.5%" stop-color="#2551a5"/><stop offset="66.8%" stop-color="#275aab"/><stop offset="66.95%" stop-color="#2e79c1"/><stop offset="67.1%" stop-color="#26b1e4"/><stop offset="67.26%" stop-color="#61c2bc"/><stop offset="67.33%" stop-color="#6cc5b4"/><stop offset="67.78%" stop-color="#67c3ab"/><stop offset="72.09%" stop-color="#67c3aa"/><stop offset="81.52%" stop-color="#69c4ae"/><stop offset="85.98%" stop-color="#69c3ad"/><stop offset="95.56%" stop-color="#68c3ab"/><stop offset="99.79%" stop-color="#66c2a7"/><stop offset="99.94%" stop-color="#65c2a6"/></linearGradient>
<linearGradient id="hd8"><stop offset="0%" stop-color="#68c3ac"/><stop offset="6.57%" stop-color="#68c3ab"/><stop offset="15.25%" stop-color="#67c3ab"/><stop offset="19.1%" stop-color="#68c3ab"/><stop offset="19.78%" stop-color="#6cc5b5"/><stop offset="19.85%" stop-color="#66c4b9"/><stop offset="20.08%" stop-color="#2bb5e2"/><stop offset="20.23%" stop-color="#2b96d3"/><stop offset="20.46%" stop-color="#2b6db8"/><stop offset="20.68%" stop-color="#2650a5"/><stop offset="21.21%" stop-color="#2e4aa3"/><stop offset="21.66%" stop-color="#2b4ca4"/><stop offset="21.74%" stop-color="#2750a5"/><stop offset="21.81%" stop-color="#2b6fba"/><stop offset="21.89%" stop-color="#5ac1c2"/><stop offset="21.97%" stop-color="#57bb86"/><stop offset="22.04%" stop-color="#4fb968"/><stop offset="22.12%" stop-color="#64bc5e"/><stop offset="22.19%" stop-color="#89c657"/><stop offset="22.34%" stop-color="#f3e731"/><stop offset="22.49%" stop-color="#f5852d"/><stop offset="22.72%" stop-color="#f4792e"/><stop offset="22.87%" stop-color="#f47f2e"/><stop offset="22.95%" stop-color="#f68d2d"/><stop offset="23.02%" stop-color="#f8c42d"/><stop offset="23.1%" stop-color="#e6e336"/><stop offset="23.25%" stop-color="#91c955"/><stop offset="23.32%" stop-color="#6fbf5d"/><stop offset="23.48%" stop-color="#4eb864"/><stop offset="23.85%" stop-color="#6ac4af"/><stop offset="23.93%" stop-color="#53bfc6"/><stop offset="24%" stop-color="#53bfc6"/><stop offset="24.15%" stop-color="#6bc5b6"/><stop offset="24.68%" stop-color="#58bb89"/><stop offset="25.29%" stop-color="#6bc5b3"/><stop offset="25.51%" stop-color="#4abdcd"/><stop offset="25.74%" stop-color="#26b1e4"/><stop offset="25.82%" stop-color="#26aee2"/><stop offset="25.97%" stop-color="#36b8da"/><stop offset="26.34%" stop-color="#69c4b7"/><stop offset="26.72%" stop-color="#65c1a4"/><stop offset="27.32%" stop-color="#6bc5b6"/><stop offset="27.63%" stop-color="#58c0c3"/><stop offset="28.23%" stop-color="#61c2bd"/><stop offset="29.36%" stop-color="#59c0c2"/><stop offset="30.42%" stop-color="#6bc4b2"/><stop offset="31.85%" stop-color="#69c3ae"/><stop offset="34.12%" stop-color="#69c4af"/><stop offset="37.52%" stop-color="#66c2a8"/><stop offset="46.8%" stop-color="#68c3ac"/><stop offset="48.84%" stop-color="#67c2a9"/><stop offset="51.03%" stop-color="#66c2a8"/><stop offset="58.5%" stop-color="#68c3ab"/><stop offset="62.27%" stop-color="#69c3ae"/><stop offset="63.78%" stop-color="#67c2aa"/><stop offset="64.61%" stop-color="#5cbd90"/><stop offset="65.07%" stop-color="#59bc8a"/><stop offset="65.37%" stop-color="#5dbe94"/><stop offset="65.59%" stop-color="#67c2a9"/><stop offset="65.67%" stop-color="#67c4b8"/><stop offset="65.75%" stop-color="#3cbad6"/><stop offset="65.82%" stop-color="#29a1da"/><stop offset="65.9%" stop-color="#2f7fc5"/><stop offset="66.05%" stop-color="#275aab"/><stop offset="66.35%" stop-color="#2651a5"/><stop offset="66.8%" stop-color="#2654a7"/><stop offset="66.95%" stop-color="#2d76bf"/><stop offset="67.1%" stop-color="#26aee2"/><stop offset="67.26%" stop-color="#61c2bc"/><stop offset="67.33%" stop-color="#6cc5b5"/><stop offset="67.78%" stop-color="#67c3ab"/><stop offset="72.09%" stop-color="#67c3aa"/><stop offset="81.52%" stop-color="#69c4ae"/><stop offset="85.98%" stop-color="#69c3ad"/><stop offset="95.56%" stop-color="#68c3ab"/><stop offset="99.79%" stop-color="#66c2a7"/><stop offset="99.94%" stop-color="#65c2a6"/></linearGradient>
<linearGradient id="hd9"><stop offset="0%" stop-color="#68c3ac"/><stop offset="6.57%" stop-color="#68c3ab"/><stop offset="15.25%" stop-color="#67c3ab"/><stop offset="19.1%" stop-color="#68c3ab"/><stop offset="19.78%" stop-color="#6cc5b5"/><stop offset="19.85%" stop-color="#66c4b9"/><stop offset="20.08%" stop-color="#2bb6e2"/><stop offset="20.23%" stop-color="#2b96d4"/><stop offset="20.46%" stop-color="#2b6eb9"/><stop offset="20.68%" stop-color="#2651a5"/><stop offset="21.29%" stop-color="#2e4aa3"/><stop offset="21.66%" stop-color="#2b4ca4"/><stop offset="21.74%" stop-color="#2650a5"/><stop offset="21.81%" stop-color="#2c70ba"/><stop offset="21.89%" stop-color="#5bc1c0"/><stop offset="21.97%" stop-color="#57bb86"/><stop offset="22.04%" stop-color="#4fb969"/><stop offset="22.12%" stop-color="#64bc5e"/><stop offset="22.19%" stop-color="#87c658"/><stop offset="22.34%" stop-color="#f1e732"/><stop offset="22.42%" stop-color="#f8bc2d"/><stop offset="22.49%" stop-color="#f5892d"/><stop offset="22.8%" stop-color="#f4802e"/><stop offset="22.87%" stop-color="#f5842d"/><stop offset="22.95%" stop-color="#f6922d"/><stop offset="23.02%" stop-color="#f7c82e"/><stop offset="23.1%" stop-color="#e3e237"/><stop offset="23.25%" stop-color="#8fc856"/><stop offset="23.32%" stop-color="#6fbe5d"/><stop offset="23.48%" stop-color="#4eb864"/><stop offset="23.85%" stop-color="#6ac4af"/><stop offset="23.93%" stop-color="#53bfc6"/><stop offset="24%" stop-color="#54bfc6"/><stop offset="24.15%" stop-color="#6bc5b6"/><stop offset="24.68%" stop-color="#59bb89"/><stop offset="25.29%" stop-color="#6bc5b3"/><stop offset="25.51%" stop-color="#4abdcd"/><stop offset="25.74%" stop-color="#25b1e4"/><stop offset="25.82%" stop-color="#26aee3"/><stop offset="25.97%" stop-color="#36b8da"/><stop offset="26.34%" stop-color="#69c4b7"/><stop offset="26.72%" stop-color="#65c1a4"/><stop offset="27.32%" stop-color="#6bc5b6"/><stop offset="27.63%" stop-color="#58c0c3"/><stop offset="28.23%" stop-color="#61c2bd"/><stop offset="29.36%" stop-color="#59c1c2"/><stop offset="30.34%" stop-color="#6bc5b3"/><stop offset="31.78%" stop-color="#69c3ad"/><stop offset="34.19%" stop-color="#6ac4af"/><stop offset="39.33%" stop-color="#67c3aa"/><stop offset="46.8%" stop-color="#68c3ac"/><stop offset="48.84%" stop-color="#67c2a9"/><stop offset="51.03%" stop-color="#66c2a8"/><stop offset="58.5%" stop-color="#68c3ab"/><stop offset="62.27%" stop-color="#69c3ae"/><stop offset="63.78%" stop-color="#67c3aa"/><stop offset="64.69%" stop-color="#5bbc8f"/><stop offset="65.29%" stop-color="#5bbd8f"/><stop offset="65.59%" stop-color="#67c2a9"/><stop offset="65.67%" stop-color="#68c4b8"/><stop offset="65.75%" stop-color="#3fbad4"/><stop offset="65.82%" stop-color="#28a7de"/><stop offset="65.9%" stop-color="#2d87ca"/><stop offset="66.05%" stop-color="#2860b0"/><stop offset="66.5%" stop-color="#2552a6"/><stop offset="66.8%" stop-color="#275cad"/><stop offset="66.95%" stop-color="#2e7cc3"/><stop offset="67.1%" stop-color="#26b4e6"/><stop offset="67.26%" stop-color="#65c3ba"/><stop offset="67.41%" stop-color="#6bc4b2"/><stop offset="67.86%" stop-color="#68c3ab"/><stop offset="72.09%" stop-color="#67c3aa"/><stop offset="81.52%" stop-color="#69c4ae"/><stop offset="85.98%" stop-color="#69c3ad"/><stop offset="95.56%" stop-color="#68c3ab"/><stop offset="99.79%" stop-color="#66c2a7"/><stop offset="99.94%" stop-color="#65c2a6"/></linearGradient>
<linearGradient id="hd10"><stop offset="0%" stop-color="#68c3ac"/><stop offset="6.57%" stop-color="#68c3ab"/><stop offset="15.25%" stop-color="#67c3ab"/><stop offset="19.1%" stop-color="#68c3ab"/><stop offset="19.78%" stop-color="#6bc5b5"/><stop offset="19.85%" stop-color="#66c4b9"/><stop offset="20.08%" stop-color="#2ab5e2"/><stop offset="20.38%" stop-color="#2d77bf"/><stop offset="20.61%" stop-color="#2655a8"/><stop offset="21.06%" stop-color="#2e4aa3"/><stop offset="21.66%" stop-color="#2b4ca4"/><stop offset="21.74%" stop-color="#2750a5"/><stop offset="21.81%" stop-color="#2b6fba"/><stop offset="21.89%" stop-color="#5bc1c1"/><stop offset="21.97%" stop-color="#57bb86"/><stop offset="22.04%" stop-color="#4fb968"/><stop offset="22.12%" stop-color="#65bd5e"/><stop offset="22.19%" stop-color="#8ac757"/><stop offset="22.34%" stop-color="#f5e730"/><stop offset="22.49%" stop-color="#f5812d"/><stop offset="22.8%" stop-color="#f4782e"/><stop offset="22.87%" stop-color="#f47c2e"/><stop offset="22.95%" stop-color="#f58a2d"/><stop offset="23.02%" stop-color="#f8c12d"/><stop offset="23.1%" stop-color="#e8e435"/><stop offset="23.25%" stop-color="#92c955"/><stop offset="23.32%" stop-color="#70bf5d"/><stop offset="23.48%" stop-color="#4eb864"/><stop offset="23.85%" stop-color="#6ac4b0"/><stop offset="23.93%" stop-color="#52bfc7"/><stop offset="24%" stop-color="#53bfc6"/><stop offset="24.15%" stop-color="#6bc5b6"/><stop offset="24.68%" stop-color="#58bb89"/><stop offset="25.29%" stop-color="#6bc5b3"/><stop offset="25.59%" stop-color="#3cb9d6"/><stop offset="25.74%" stop-color="#26b0e4"/><stop offset="25.82%" stop-color="#26ade2"/><stop offset="25.89%" stop-color="#2ab5e3"/><stop offset="26.34%" stop-color="#69c4b7"/><stop offset="26.72%" stop-color="#65c1a4"/><stop offset="27.32%" stop-color="#6bc5b6"/><stop offset="27.63%" stop-color="#58c0c3"/><stop offset="28.23%" stop-color="#60c2bd"/><stop offset="29.36%" stop-color="#59c0c2"/><stop offset="30.42%" stop-color="#6bc4b2"/><stop offset="31.85%" stop-color="#69c3ae"/><stop offset="34.12%" stop-color="#69c4af"/><stop offset="37.52%" stop-color="#66c2a8"/><stop offset="46.8%" stop-color="#68c3ac"/><stop offset="48.84%" stop-color="#67c2a9"/><stop offset="51.03%" stop-color="#66c2a8"/><stop offset="58.5%" stop-color="#68c3ab"/><stop offset="62.27%" stop-color="#69c3ae"/><stop offset="63.78%" stop-color="#67c2aa"/><stop offset="64.61%" stop-color="#5cbd91"/><stop offset="65.07%" stop-color="#5abc8c"/><stop offset="65.37%" stop-color="#5ebe95"/><stop offset="65.59%" stop-color="#67c2a9"/><stop offset="65.67%" stop-color="#66c4b9"/><stop offset="65.75%" stop-color="#3cbad6"/><stop offset="65.82%" stop-color="#28a3db"/><stop offset="65.9%" stop-color="#2e83c7"/><stop offset="66.05%" stop-color="#285dad"/><stop offset="66.5%" stop-color="#2551a5"/><stop offset="66.8%" stop-color="#2759ab"/><stop offset="66.95%" stop-color="#2e7bc2"/><stop offset="67.1%" stop-color="#25b3e6"/><stop offset="67.26%" stop-color="#65c3ba"/><stop offset="67.41%" stop-color="#6bc4b2"/><stop offset="67.86%" stop-color="#68c3ab"/><stop offset="72.09%" stop-color="#67c3aa"/><stop offset="81.52%" stop-color="#69c4ae"/><stop offset="85.98%" stop-color="#69c3ad"/><stop offset="95.56%" stop-color="#68c3ab"/><stop offset="99.79%" stop-color="#66c2a7"/><stop offset="99.94%" stop-color="#65c2a6"/></linearGradient>
<linearGradient id="hd11"><stop offset="0%" stop-color="#68c3ac"/><stop offset="6.57%" stop-color="#68c3ab"/><stop offset="15.25%" stop-color="#67c3ab"/><stop offset="19.1%" stop-color="#68c3ab"/><stop offset="19.78%" stop-color="#6bc5b6"/><stop offset="19.85%" stop-color="#65c3b9"/><stop offset="20.08%" stop-color="#29b5e3"/><stop offset="20.38%" stop-color="#2d76bf"/><stop offset="20.61%" stop-color="#2654a7"/><stop offset="21.14%" stop-color="#2e4aa3"/><stop offset="21.66%" stop-color="#2b4ca4"/><stop offset="21.74%" stop-color="#2750a5"/><stop offset="21.81%" stop-color="#2b6eb9"/><stop offset="21.89%" stop-color="#5bc1c1"/><stop offset="21.97%" stop-color="#57bb85"/><stop offset="22.04%" stop-color="#4fb967"/><stop offset="22.12%" stop-color="#66bd5e"/><stop offset="22.19%" stop-color="#8dc756"/><stop offset="22.34%" stop-color="#f5e230"/><stop offset="22.49%" stop-color="#f47b2e"/><stop offset="22.8%" stop-color="#f3722e"/><stop offset="22.87%" stop-color="#f4762e"/><stop offset="22.95%" stop-color="#f5842d"/><stop offset="23.02%" stop-color="#f8bc2d"/><stop offset="23.1%" stop-color="#ece534"/><stop offset="23.25%" stop-color="#95ca54"/><stop offset="23.32%" stop-color="#71bf5d"/><stop offset="23.48%" stop-color="#4eb863"/><stop offset="23.85%" stop-color="#6ac4b0"/><stop offset="23.93%" stop-color="#51bfc7"/><stop offset="24%" stop-color="#53bfc7"/><stop offset="24.15%" stop-color="#6ac5b6"/><stop offset="24.68%" stop-color="#58bb88"/><stop offset="25.29%" stop-color="#6bc5b3"/><stop offset="25.59%" stop-color="#3bb9d7"/><stop offset="25.74%" stop-color="#26afe3"/><stop offset="25.82%" stop-color="#26ace1"/><stop offset="25.89%" stop-color="#29b5e4"/><stop offset="26.34%" stop-color="#69c4b7"/><stop offset="26.72%" stop-color="#65c1a4"/><stop offset="27.32%" stop-color="#6ac5b6"/><stop offset="27.63%" stop-color="#57c0c3"/><stop offset="28.23%" stop-color="#60c2bd"/><stop offset="29.36%" stop-color="#58c0c3"/><stop offset="30.42%" stop-color="#6bc4b2"/><stop offset="31.85%" stop-color="#69c3ae"/><stop offset="34.12%" stop-color="#69c4af"/><stop offset="37.52%" stop-color="#66c2a8"/><stop offset="46.8%" stop-color="#68c3ac"/><stop offset="48.84%" stop-color="#67c2a9"/><stop offset="51.03%" stop-color="#66c2a8"/><stop offset="58.5%" stop-color="#68c3ab"/><stop offset="62.27%" stop-color="#69c3ae"/><stop offset="63.78%" stop-color="#67c3aa"/><stop offset="64.69%" stop-color="#5bbd8f"/><stop offset="65.29%" stop-color="#5cbd90"/><stop offset="65.59%" stop-color="#67c2a9"/><stop offset="65.67%" stop-color="#67c4b8"/><stop offset="65.75%" stop-color="#40bbd3"/><stop offset="65.82%" stop-color="#27a9df"/><stop offset="65.97%" stop-color="#2d75be"/><stop offset="66.05%" stop-color="#2964b2"/><stop offset="66.5%" stop-color="#2657a9"/><stop offset="66.8%" stop-color="#2861b0"/><stop offset="66.95%" stop-color="#2f81c6"/><stop offset="67.1%" stop-color="#2bb5e2"/><stop offset="67.26%" stop-color="#67c4b8"/><stop offset="67.71%" stop-color="#67c3ab"/><stop offset="72.09%" stop-color="#67c3aa"/><stop offset="81.52%" stop-color="#69c4ae"/><stop offset="85.98%" stop-color="#69c3ad"/><stop offset="95.56%" stop-color="#68c3ab"/><stop offset="99.79%" stop-color="#66c2a7"/><stop offset="99.94%" stop-color="#65c2a6"/></linearGradient>
<linearGradient id="hd12"><stop offset="0%" stop-color="#68c3ac"/><stop offset="6.57%" stop-color="#68c3ab"/><stop offset="15.25%" stop-color="#67c3ab"/><stop offset="19.1%" stop-color="#68c3ab"/><stop offset="19.78%" stop-color="#6cc5b5"/><stop offset="19.85%" stop-color="#66c4b9"/><stop offset="20.08%" stop-color="#2bb5e2"/><stop offset="20.23%" stop-color="#2b95d3"/><stop offset="20.46%" stop-color="#2b6db8"/><stop offset="20.68%" stop-color="#2650a5"/><stop offset="21.21%" stop-color="#2e4aa3"/><stop offset="21.66%" stop-color="#2b4ca4"/><stop offset="21.74%" stop-color="#2750a5"/><stop offset="21.81%" stop-color="#2c6fba"/><stop offset="21.89%" stop-color="#5cc1c0"/><stop offset="21.97%" stop-color="#57bb86"/><stop offset="22.04%" stop-color="#4fb968"/><stop offset="22.12%" stop-color="#65bc5e"/><stop offset="22.19%" stop-color="#89c657"/><stop offset="22.34%" stop-color="#f4e830"/><stop offset="22.49%" stop-color="#f5842d"/><stop offset="22.8%" stop-color="#f47b2e"/><stop offset="22.87%" stop-color="#f47f2e"/><stop offset="22.95%" stop-color="#f68d2d"/><stop offset="23.02%" stop-color="#f8c42d"/><stop offset="23.1%" stop-color="#e6e336"/><stop offset="23.25%" stop-color="#91c955"/><stop offset="23.32%" stop-color="#6fbe5d"/><stop offset="23.48%" stop-color="#4eb864"/><stop offset="23.85%" stop-color="#6ac4b0"/><stop offset="23.93%" stop-color="#52bfc7"/><stop offset="24%" stop-color="#53bfc6"/><stop offset="24.15%" stop-color="#6bc5b6"/><stop offset="24.68%" stop-color="#58bb89"/><stop offset="25.29%" stop-color="#6bc5b3"/><stop offset="25.51%" stop-color="#49bdcd"/><stop offset="25.74%" stop-color="#26b1e4"/><stop offset="25.82%" stop-color="#26aee2"/><stop offset="25.97%" stop-color="#36b8da"/><stop offset="26.34%" stop-color="#69c4b7"/><stop offset="26.72%" stop-color="#65c1a4"/><stop offset="27.32%" stop-color="#6bc5b6"/><stop offset="27.63%" stop-color="#58c0c3"/><stop offset="28.23%" stop-color="#61c2bd"/><stop offset="29.36%" stop-color="#59c0c2"/><stop offset="30.42%" stop-color="#6bc4b2"/><stop offset="31.85%" stop-color="#69c3ae"/><stop offset="34.12%" stop-color="#69c4af"/><stop offset="37.52%" stop-color="#66c2a8"/><stop offset="46.8%" stop-color="#68c3ac"/><stop offset="48.84%" stop-color="#67c2a9"/><stop offset="51.03%" stop-color="#66c2a8"/><stop offset="58.5%" stop-color="#68c3ab"/><stop offset="62.27%" stop-color="#69c3ae"/><stop offset="63.78%" stop-color="#67c3aa"/><stop offset="64.69%" stop-color="#5bbd90"/><stop offset="65.29%" stop-color="#5cbd91"/><stop offset="65.59%" stop-color="#67c2a9"/><stop offset="65.67%" stop-color="#67c4b8"/><stop offset="65.75%" stop-color="#41bbd3"/><stop offset="65.82%" stop-color="#27aae0"/><stop offset="65.97%" stop-color="#2d76bf"/><stop offset="66.05%" stop-color="#2966b3"/><stop offset="66.5%" stop-color="#2759ab"/><stop offset="66.8%" stop-color="#2963b1"/><stop offset="66.95%" stop-color="#2e84c8"/><stop offset="67.03%" stop-color="#299fd9"/><stop offset="67.1%" stop-color="#2db6e1"/><stop offset="67.26%" stop-color="#68c4b8"/><stop offset="67.78%" stop-color="#68c3ab"/><stop offset="72.09%" stop-color="#67c3aa"/><stop offset="81.52%" stop-color="#69c4ae"/><stop offset="85.98%" stop-color="#69c3ad"/><stop offset="95.56%" stop-color="#68c3ab"/><stop offset="99.79%" stop-color="#66c2a7"/><stop offset="99.94%" stop-color="#65c2a6"/></linearGradient>
<linearGradient id="hd13"><stop offset="0%" stop-color="#68c3ac"/><stop offset="6.57%" stop-color="#68c3ab"/><stop offset="15.25%" stop-color="#67c3ab"/><stop offset="19.1%" stop-color="#68c3ab"/><stop offset="19.78%" stop-color="#6cc5b5"/><stop offset="19.85%" stop-color="#66c4b9"/><stop offset="20.08%" stop-color="#2ab5e2"/><stop offset="20.23%" stop-color="#2b95d3"/><stop offset="20.46%" stop-color="#2b6db8"/><stop offset="20.68%" stop-color="#2650a5"/><stop offset="21.21%" stop-color="#2e4aa3"/><stop offset="21.66%" stop-color="#2b4ca4"/><stop offset="21.74%" stop-color="#2750a5"/><stop offset="21.81%" stop-color="#2b6fba"/><stop offset="21.89%" stop-color="#5bc1c0"/><stop offset="21.97%" stop-color="#57bb86"/><stop offset="22.04%" stop-color="#4fb968"/><stop offset="22.12%" stop-color="#65bd5e"/><stop offset="22.19%" stop-color="#8ac657"/><stop offset="22.34%" stop-color="#f5e830"/><stop offset="22.49%" stop-color="#f5832d"/><stop offset="22.8%" stop-color="#f47a2e"/><stop offset="22.87%" stop-color="#f47e2e"/><stop offset="22.95%" stop-color="#f68c2d"/><stop offset="23.02%" stop-color="#f8c32d"/><stop offset="23.1%" stop-color="#e7e436"/><stop offset="23.25%" stop-color="#92c955"/><stop offset="23.32%" stop-color="#70bf5d"/><stop offset="23.48%" stop-color="#4eb864"/><stop offset="23.85%" stop-color="#6ac4b0"/><stop offset="23.93%" stop-color="#52bfc7"/><stop offset="24%" stop-color="#53bfc6"/><stop offset="24.15%" stop-color="#6bc5b6"/><stop offset="24.68%" stop-color="#58bb89"/><stop offset="25.29%" stop-color="#6bc5b3"/><stop offset="25.51%" stop-color="#49bdcd"/><stop offset="25.74%" stop-color="#26b0e4"/><stop offset="25.82%" stop-color="#26ade2"/><stop offset="25.97%" stop-color="#36b8db"/><stop offset="26.34%" stop-color="#69c4b7"/><stop offset="26.72%" stop-color="#65c1a4"/><stop offset="27.32%" stop-color="#6bc5b6"/><stop offset="27.63%" stop-color="#58c0c3"/><stop offset="28.23%" stop-color="#61c2bd"/><stop offset="29.36%" stop-color="#59c0c2"/><stop offset="30.42%" stop-color="#6bc4b2"/><stop offset="31.85%" stop-color="#69c3ae"/><stop offset="34.12%" stop-color="#69c4af"/><stop offset="37.52%" stop-color="#66c2a8"/><stop offset="46.8%" stop-color="#68c3ac"/><stop offset="48.84%" stop-color="#67c2a9"/><stop offset="51.03%" stop-color="#66c2a8"/><stop offset="58.5%" stop-color="#68c3ab"/><stop offset="62.27%" stop-color="#69c3ae"/><stop offset="63.78%" stop-color="#67c3aa"/><stop offset="64.92%" stop-color="#5bbd8f"/><stop offset="65.37%" stop-color="#5fbe98"/><stop offset="65.59%" stop-color="#67c2aa"/><stop offset="65.67%" stop-color="#69c4b7"/><stop offset="65.82%" stop-color="#26b0e3"/><stop offset="65.97%" stop-color="#2e7cc3"/><stop offset="66.05%" stop-color="#2b6cb8"/><stop offset="66.5%" stop-color="#2861b0"/><stop offset="66.8%" stop-color="#2a69b6"/><stop offset="66.95%" stop-color="#2d8ccd"/><stop offset="67.03%" stop-color="#28a6dd"/><stop offset="67.1%" stop-color="#32b7dd"/><stop offset="67.26%" stop-color="#6ac4b6"/><stop offset="67.78%" stop-color="#68c3ab"/><stop offset="72.09%" stop-color="#67c3aa"/><stop offset="81.52%" stop-color="#69c4ae"/><stop offset="85.98%" stop-color="#69c3ad"/><stop offset="95.56%" stop-color="#68c3ab"/><stop offset="99.79%" stop-color="#66c2a7"/><stop offset="99.94%" stop-color="#65c2a6"/></linearGradient>
<linearGradient id="hd14"><stop offset="0%" stop-color="#68c3ac"/><stop offset="6.57%" stop-color="#68c3ab"/><stop offset="15.25%" stop-color="#67c3ab"/><stop offset="19.1%" stop-color="#68c3ab"/><stop offset="19.78%" stop-color="#6bc5b5"/><stop offset="19.85%" stop-color="#66c4b9"/><stop offset="20.08%" stop-color="#2ab5e3"/><stop offset="20.38%" stop-color="#2d76bf"/><stop offset="20.61%" stop-color="#2655a8"/><stop offset="21.14%" stop-color="#2e4aa3"/><stop offset="21.66%" stop-color="#2b4ca4"/><stop offset="21.74%" stop-color="#2750a5"/><stop offset="21.81%" stop-color="#2b6eb9"/><stop offset="21.89%" stop-color="#5bc1c1"/><stop offset="21.97%" stop-color="#57bb85"/><stop offset="22.04%" stop-color="#4fb968"/><stop offset="22.12%" stop-color="#65bd5e"/><stop offset="22.19%" stop-color="#8bc757"/><stop offset="22.34%" stop-color="#f5e630"/><stop offset="22.49%" stop-color="#f4802e"/><stop offset="22.8%" stop-color="#f4762e"/><stop offset="22.87%" stop-color="#f47a2e"/><stop offset="22.95%" stop-color="#f5892d"/><stop offset="23.02%" stop-color="#f8c02d"/><stop offset="23.1%" stop-color="#e9e435"/><stop offset="23.25%" stop-color="#93c955"/><stop offset="23.32%" stop-color="#70bf5d"/><stop offset="23.48%" stop-color="#4eb863"/><stop offset="23.85%" stop-color="#6ac4b0"/><stop offset="23.93%" stop-color="#52bfc7"/><stop offset="24%" stop-color="#53bfc6"/><stop offset="24.15%" stop-color="#6bc5b6"/><stop offset="24.68%" stop-color="#58bb89"/><stop offset="25.29%" stop-color="#6bc5b3"/><stop offset="25.59%" stop-color="#3cb9d6"/><stop offset="25.74%" stop-color="#26b0e4"/><stop offset="25.82%" stop-color="#26ade2"/><stop offset="25.89%" stop-color="#29b5e3"/><stop offset="26.34%" stop-color="#69c4b7"/><stop offset="26.72%" stop-color="#65c1a4"/><stop offset="27.32%" stop-color="#6bc5b6"/><stop offset="27.63%" stop-color="#58c0c3"/><stop offset="28.23%" stop-color="#60c2bd"/><stop offset="29.36%" stop-color="#59c0c2"/><stop offset="30.42%" stop-color="#6bc4b2"/><stop offset="31.85%" stop-color="#69c3ae"/><stop offset="34.12%" stop-color="#69c4af"/><stop offset="37.52%" stop-color="#66c2a8"/><stop offset="46.8%" stop-color="#68c3ac"/><stop offset="48.84%" stop-color="#67c2a9"/><stop offset="51.03%" stop-color="#66c2a8"/><stop offset="58.5%" stop-color="#68c3ab"/><stop offset="62.27%" stop-color="#69c3ae"/><stop offset="63.78%" stop-color="#67c3aa"/><stop offset="64.92%" stop-color="#5cbd90"/><stop offset="65.37%" stop-color="#5fbf99"/><stop offset="65.59%" stop-color="#67c2aa"/><stop offset="65.67%" stop-color="#6ac5b6"/><stop offset="65.82%" stop-color="#25b4e6"/><stop offset="65.97%" stop-color="#2f80c6"/><stop offset="66.05%" stop-color="#2c71bb"/><stop offset="66.5%" stop-color="#2a66b4"/><stop offset="66.8%" stop-color="#2b6eb9"/><stop offset="66.95%" stop-color="#2b93d1"/><stop offset="67.03%" stop-color="#27abe1"/><stop offset="67.1%" stop-color="#36b8da"/><stop offset="67.26%" stop-color="#6bc5b5"/><stop offset="67.78%" stop-color="#68c3ab"/><stop offset="72.09%" stop-color="#67c3aa"/><stop offset="81.52%" stop-color="#69c4ae"/><stop offset="85.98%" stop-color="#69c3ad"/><stop offset="95.56%" stop-color="#68c3ab"/><stop offset="99.79%" stop-color="#66c2a7"/><stop offset="99.94%" stop-color="#65c2a6"/></linearGradient>
<linearGradient id="hd15"><stop offset="0%" stop-color="#68c3ac"/><stop offset="6.57%" stop-color="#68c3ab"/><stop offset="15.25%" stop-color="#67c3ab"/><stop offset="19.1%" stop-color="#68c3ab"/><stop offset="19.78%" stop-color="#6bc5b6"/><stop offset="19.85%" stop-color="#65c3ba"/><stop offset="20.08%" stop-color="#28b5e4"/><stop offset="20.3%" stop-color="#2f7fc5"/><stop offset="20.61%" stop-color="#2553a6"/><stop offset="21.21%" stop-color="#2e4aa3"/><stop offset="21.66%" stop-color="#2c4ca4"/><stop offset="21.74%" stop-color="#274fa5"/><stop offset="21.81%" stop-color="#2b6cb8"/><stop offset="21.89%" stop-color="#5ac1c1"/><stop offset="21.97%" stop-color="#57bb85"/><stop offset="22.04%" stop-color="#4fb867"/><stop offset="22.12%" stop-color="#67bd5e"/><stop offset="22.19%" stop-color="#90c855"/><stop offset="22.27%" stop-color="#c9da42"/><stop offset="22.34%" stop-color="#f6dc2f"/><stop offset="22.49%" stop-color="#f3742e"/><stop offset="22.8%" stop-color="#f36a2e"/><stop offset="22.87%" stop-color="#f36e2e"/><stop offset="22.95%" stop-color="#f47d2e"/><stop offset="23.02%" stop-color="#f9b62c"/><stop offset="23.1%" stop-color="#f0e732"/><stop offset="23.25%" stop-color="#98cb53"/><stop offset="23.32%" stop-color="#73bf5d"/><stop offset="23.48%" stop-color="#4eb862"/><stop offset="23.85%" stop-color="#6ac4b0"/><stop offset="23.93%" stop-color="#51bec8"/><stop offset="24%" stop-color="#52bfc7"/><stop offset="24.15%" stop-color="#6ac5b6"/><stop offset="24.68%" stop-color="#58bb88"/><stop offset="25.29%" stop-color="#6bc5b3"/><stop offset="25.66%" stop-color="#2cb6e1"/><stop offset="25.82%" stop-color="#27abe0"/><stop offset="25.89%" stop-color="#28b5e4"/><stop offset="26.34%" stop-color="#68c4b8"/><stop offset="26.72%" stop-color="#64c1a4"/><stop offset="27.32%" stop-color="#6ac5b6"/><stop offset="27.63%" stop-color="#57c0c4"/><stop offset="28.23%" stop-color="#5fc2be"/><stop offset="29.36%" stop-color="#58c0c3"/><stop offset="30.42%" stop-color="#6bc4b2"/><stop offset="31.85%" stop-color="#69c3ae"/><stop offset="34.12%" stop-color="#69c4af"/><stop offset="37.52%" stop-color="#66c2a8"/><stop offset="46.8%" stop-color="#68c3ac"/><stop offset="48.84%" stop-color="#67c2a9"/><stop offset="51.03%" stop-color="#66c2a8"/><stop offset="58.5%" stop-color="#68c3ab"/><stop offset="62.27%" stop-color="#69c3ae"/><stop offset="63.78%" stop-color="#67c3aa"/><stop offset="64.92%" stop-color="#5cbd91"/><stop offset="65.37%" stop-color="#60bf9a"/><stop offset="65.59%" stop-color="#67c2aa"/><stop offset="65.67%" stop-color="#6cc5b5"/><stop offset="65.82%" stop-color="#2ab5e2"/><stop offset="66.05%" stop-color="#2d76be"/><stop offset="66.5%" stop-color="#2b6cb8"/><stop offset="66.8%" stop-color="#2c73bd"/><stop offset="66.88%" stop-color="#2e82c7"/><stop offset="67.03%" stop-color="#26b0e4"/><stop offset="67.26%" stop-color="#6cc5b5"/><stop offset="67.86%" stop-color="#68c3ac"/><stop offset="72.16%" stop-color="#67c2aa"/><stop offset="81.67%" stop-color="#69c4af"/><stop offset="85.82%" stop-color="#68c3ad"/><stop offset="96.32%" stop-color="#68c3ac"/><stop offset="99.94%" stop-color="#65c2a6"/></linearGradient>
<linearGradient id="hd16"><stop offset="0%" stop-color="#68c3ac"/><stop offset="6.57%" stop-color="#68c3ab"/><stop offset="15.25%" stop-color="#67c3ab"/><stop offset="19.1%" stop-color="#68c3ab"/><stop offset="19.78%" stop-color="#6ac5b6"/><stop offset="19.85%" stop-color="#65c3ba"/><stop offset="20.08%" stop-color="#27b5e4"/><stop offset="20.3%" stop-color="#2f7fc5"/><stop offset="20.61%" stop-color="#2552a6"/><stop offset="21.21%" stop-color="#2e4aa3"/><stop offset="21.66%" stop-color="#2c4ca4"/><stop offset="21.74%" stop-color="#274fa5"/><stop offset="21.81%" stop-color="#2b6cb8"/><stop offset="21.89%" stop-color="#5ac1c1"/><stop offset="21.97%" stop-color="#57bb85"/><stop offset="22.04%" stop-color="#4fb866"/><stop offset="22.12%" stop-color="#68bd5e"/><stop offset="22.19%" stop-color="#91c955"/><stop offset="22.27%" stop-color="#cadb41"/><stop offset="22.34%" stop-color="#f6da2f"/><stop offset="22.49%" stop-color="#f3722e"/><stop offset="22.8%" stop-color="#f2682e"/><stop offset="22.87%" stop-color="#f36c2e"/><stop offset="22.95%" stop-color="#f47b2e"/><stop offset="23.02%" stop-color="#f9b42c"/><stop offset="23.1%" stop-color="#f2e731"/><stop offset="23.25%" stop-color="#99cb53"/><stop offset="23.32%" stop-color="#73bf5d"/><stop offset="23.48%" stop-color="#4eb862"/><stop offset="23.85%" stop-color="#6ac4b0"/><stop offset="23.93%" stop-color="#51bec8"/><stop offset="24%" stop-color="#52bfc7"/><stop offset="24.15%" stop-color="#6ac5b6"/><stop offset="24.68%" stop-color="#58bb88"/><stop offset="25.29%" stop-color="#6bc5b3"/><stop offset="25.66%" stop-color="#2cb6e1"/><stop offset="25.82%" stop-color="#27abe0"/><stop offset="25.89%" stop-color="#27b5e4"/><stop offset="26.34%" stop-color="#68c4b8"/><stop offset="26.72%" stop-color="#64c1a4"/><stop offset="27.32%" stop-color="#6ac5b6"/><stop offset="27.63%" stop-color="#56c0c4"/><stop offset="28.23%" stop-color="#5fc2be"/><stop offset="29.36%" stop-color="#58c0c3"/><stop offset="30.42%" stop-color="#6bc4b2"/><stop offset="31.85%" stop-color="#69c3ae"/><stop offset="34.12%" stop-color="#69c4af"/><stop offset="37.52%" stop-color="#66c2a8"/><stop offset="46.8%" stop-color="#68c3ac"/><stop offset="48.84%" stop-color="#67c2a9"/><stop offset="51.03%" stop-color="#66c2a8"/><stop offset="58.5%" stop-color="#68c3ab"/><stop offset="62.27%" stop-color="#69c3ae"/><stop offset="63.86%" stop-color="#67c2a9"/><stop offset="64.92%" stop-color="#5dbd93"/><stop offset="65.37%" stop-color="#60bf9a"/><stop offset="65.67%" stop-color="#6cc5b5"/><stop offset="65.82%" stop-color="#2fb7df"/><stop offset="65.9%" stop-color="#28a6de"/><stop offset="66.05%" stop-color="#2e7bc2"/><stop offset="66.5%" stop-color="#2c71bc"/><stop offset="66.8%" stop-color="#2e79c1"/><stop offset="67.03%" stop-color="#27b4e5"/><stop offset="67.26%" stop-color="#6cc5b4"/><stop offset="67.86%" stop-color="#68c3ac"/><stop offset="72.16%" stop-color="#67c2aa"/><stop offset="81.67%" stop-color="#69c4af"/><stop offset="85.82%" stop-color="#68c3ad"/><stop offset="96.32%" stop-color="#68c3ac"/><stop offset="99.94%" stop-color="#65c2a6"/></linearGradient>
<linearGradient id="hd17"><stop offset="0%" stop-color="#68c3ac"/><stop offset="6.57%" stop-color="#68c3ab"/><stop offset="15.25%" stop-color="#67c3ab"/><stop offset="19.1%" stop-color="#68c3ab"/><stop offset="19.78%" stop-color="#6ac5b6"/><stop offset="19.85%" stop-color="#64c3ba"/><stop offset="20.08%" stop-color="#26b4e5"/><stop offset="20.3%" stop-color="#2f7ec4"/><stop offset="20.61%" stop-color="#2551a5"/><stop offset="21.14%" stop-color="#2e4aa3"/><stop offset="21.66%" stop-color="#2c4ba4"/><stop offset="21.74%" stop-color="#274fa5"/><stop offset="21.81%" stop-color="#2b6bb7"/><stop offset="21.89%" stop-color="#5ac1c2"/><stop offset="21.97%" stop-color="#57bb85"/><stop offset="22.04%" stop-color="#4fb866"/><stop offset="22.12%" stop-color="#69bd5e"/><stop offset="22.19%" stop-color="#94ca54"/><stop offset="22.27%" stop-color="#cedc3f"/><stop offset="22.34%" stop-color="#f6d42f"/><stop offset="22.49%" stop-color="#f36b2e"/><stop offset="22.8%" stop-color="#f2612e"/><stop offset="22.87%" stop-color="#f2652e"/><stop offset="22.95%" stop-color="#f3742e"/><stop offset="23.1%" stop-color="#f5e630"/><stop offset="23.25%" stop-color="#9ccc52"/><stop offset="23.32%" stop-color="#76c05c"/><stop offset="23.48%" stop-color="#4db861"/><stop offset="23.85%" stop-color="#6ac4b0"/><stop offset="23.93%" stop-color="#50bec8"/><stop offset="24%" stop-color="#51bfc8"/><stop offset="24.15%" stop-color="#6ac4b7"/><stop offset="24.68%" stop-color="#58bb88"/><stop offset="25.29%" stop-color="#6bc5b3"/><stop offset="25.66%" stop-color="#2bb5e2"/><stop offset="25.82%" stop-color="#27aae0"/><stop offset="25.89%" stop-color="#26b4e5"/><stop offset="26.34%" stop-color="#68c4b8"/><stop offset="26.72%" stop-color="#64c1a4"/><stop offset="27.32%" stop-color="#6ac5b6"/><stop offset="27.63%" stop-color="#56c0c4"/><stop offset="28.23%" stop-color="#5fc2be"/><stop offset="29.36%" stop-color="#57c0c3"/><stop offset="30.42%" stop-color="#6bc4b3"/><stop offset="31.85%" stop-color="#69c3ae"/><stop offset="34.12%" stop-color="#69c4af"/><stop offset="37.52%" stop-color="#66c2a8"/><stop offset="46.8%" stop-color="#68c3ac"/><stop offset="48.84%" stop-color="#67c2a9"/><stop offset="51.03%" stop-color="#66c2a8"/><stop offset="58.5%" stop-color="#68c3ab"/><stop offset="62.27%" stop-color="#69c3ae"/><stop offset="63.86%" stop-color="#67c2aa"/><stop offset="64.99%" stop-color="#5ebe95"/><stop offset="65.37%" stop-color="#61bf9c"/><stop offset="65.67%" stop-color="#6bc5b4"/><stop offset="65.82%" stop-color="#37b8d9"/><stop offset="65.9%" stop-color="#26b0e3"/><stop offset="66.05%" stop-color="#2e85c9"/><stop offset="66.5%" stop-color="#2e7ac2"/><stop offset="66.8%" stop-color="#2f82c7"/><stop offset="66.95%" stop-color="#27a9df"/><stop offset="67.03%" stop-color="#2fb6df"/><stop offset="67.26%" stop-color="#6bc5b4"/><stop offset="67.93%" stop-color="#68c3ad"/><stop offset="72.16%" stop-color="#67c2aa"/><stop offset="81.67%" stop-color="#69c4af"/><stop offset="85.82%" stop-color="#68c3ad"/><stop offset="96.32%" stop-color="#68c3ac"/><stop offset="99.94%" stop-color="#65c2a6"/></linearGradient>
<linearGradient id="hd18"><stop offset="0%" stop-color="#68c3ac"/><stop offset="6.57%" stop-color="#68c3ab"/><stop offset="15.25%" stop-color="#67c3ab"/><stop offset="19.1%" stop-color="#68c3ab"/><stop offset="19.78%" stop-color="#69c4b7"/><stop offset="19.85%" stop-color="#64c3bb"/><stop offset="20.08%" stop-color="#25b3e6"/><stop offset="20.3%" stop-color="#2e7cc3"/><stop offset="20.61%" stop-color="#2551a5"/><stop offset="21.21%" stop-color="#2e4aa3"/><stop offset="21.66%" stop-color="#2c4ba4"/><stop offset="21.74%" stop-color="#274fa5"/><stop offset="21.81%" stop-color="#2a69b6"/><stop offset="21.89%" stop-color="#59c0c2"/><stop offset="21.97%" stop-color="#57bb84"/><stop offset="22.04%" stop-color="#4eb865"/><stop offset="22.12%" stop-color="#6bbe5e"/><stop offset="22.19%" stop-color="#98cb53"/><stop offset="22.27%" stop-color="#d5de3d"/><stop offset="22.34%" stop-color="#f7cb2e"/><stop offset="22.49%" stop-color="#f2602f"/><stop offset="22.72%" stop-color="#f1542f"/><stop offset="22.87%" stop-color="#f15a2f"/><stop offset="22.95%" stop-color="#f2692e"/><stop offset="23.1%" stop-color="#f6dd2f"/><stop offset="23.17%" stop-color="#cfdc3f"/><stop offset="23.32%" stop-color="#7ac15b"/><stop offset="23.48%" stop-color="#4db860"/><stop offset="23.85%" stop-color="#6ac4b0"/><stop offset="23.93%" stop-color="#4fbec9"/><stop offset="24%" stop-color="#50bec8"/><stop offset="24.15%" stop-color="#69c4b7"/><stop offset="24.68%" stop-color="#58bb87"/><stop offset="25.29%" stop-color="#6bc5b3"/><stop offset="25.66%" stop-color="#2ab5e3"/><stop offset="25.82%" stop-color="#27a8de"/><stop offset="25.89%" stop-color="#25b3e6"/><stop offset="26.34%" stop-color="#68c4b8"/><stop offset="26.72%" stop-color="#64c1a4"/><stop offset="27.32%" stop-color="#6ac4b7"/><stop offset="27.63%" stop-color="#55c0c5"/><stop offset="28.23%" stop-color="#5ec2bf"/><stop offset="29.36%" stop-color="#56c0c4"/><stop offset="30.42%" stop-color="#6bc4b3"/><stop offset="31.85%" stop-color="#69c3ae"/><stop offset="34.12%" stop-color="#69c4af"/><stop offset="37.52%" stop-color="#66c2a8"/><stop offset="46.8%" stop-color="#68c3ac"/><stop offset="48.84%" stop-color="#67c2a9"/><stop offset="51.03%" stop-color="#66c2a8"/><stop offset="58.5%" stop-color="#68c3ab"/><stop offset="62.27%" stop-color="#69c3ae"/><stop offset="63.86%" stop-color="#67c3aa"/><stop offset="64.99%" stop-color="#5fbe97"/><stop offset="65.37%" stop-color="#61c09d"/><stop offset="65.67%" stop-color="#6bc4b3"/><stop offset="65.9%" stop-color="#2cb6e1"/><stop offset="65.97%" stop-color="#27a8de"/><stop offset="66.05%" stop-color="#2b95d3"/><stop offset="66.43%" stop-color="#2e85c9"/><stop offset="66.8%" stop-color="#2c91d0"/><stop offset="66.95%" stop-color="#26b4e6"/><stop offset="67.18%" stop-color="#5fc2be"/><stop offset="67.26%" stop-color="#6bc5b3"/><stop offset="68.01%" stop-color="#69c3ad"/><stop offset="72.16%" stop-color="#67c2aa"/><stop offset="81.67%" stop-color="#69c4af"/><stop offset="85.82%" stop-color="#68c3ad"/><stop offset="96.32%" stop-color="#68c3ac"/><stop offset="99.94%" stop-color="#65c2a6"/></linearGradient>
<linearGradient id="hd19"><stop offset="0%" stop-color="#68c3ac"/><stop offset="6.57%" stop-color="#68c3ab"/><stop offset="15.25%" stop-color="#67c3ab"/><stop offset="19.1%" stop-color="#68c3ab"/><stop offset="19.78%" stop-color="#6ac5b6"/><stop offset="19.85%" stop-color="#64c3ba"/><stop offset="20.08%" stop-color="#26b4e5"/><stop offset="20.3%" stop-color="#2f7ec4"/><stop offset="20.61%" stop-color="#2551a5"/><stop offset="21.14%" stop-color="#2e4aa3"/><stop offset="21.66%" stop-color="#2c4ba4"/><stop offset="21.74%" stop-color="#274fa5"/><stop offset="21.81%" stop-color="#2b6bb7"/><stop offset="21.89%" stop-color="#5ac1c2"/><stop offset="21.97%" stop-color="#57bb85"/><stop offset="22.04%" stop-color="#4fb866"/><stop offset="22.12%" stop-color="#69bd5e"/><stop offset="22.19%" stop-color="#94ca54"/><stop offset="22.27%" stop-color="#cfdc3f"/><stop offset="22.34%" stop-color="#f6d42f"/><stop offset="22.49%" stop-color="#f36b2e"/><stop offset="22.8%" stop-color="#f2612e"/><stop offset="22.87%" stop-color="#f2652e"/><stop offset="22.95%" stop-color="#f3742e"/><stop offset="23.1%" stop-color="#f5e630"/><stop offset="23.25%" stop-color="#9ccc52"/><stop offset="23.32%" stop-color="#76c05c"/><stop offset="23.48%" stop-color="#4db861"/><stop offset="23.85%" stop-color="#6ac4b0"/><stop offset="23.93%" stop-color="#50bec8"/><stop offset="24%" stop-color="#51bfc8"/><stop offset="24.15%" stop-color="#6ac4b7"/><stop offset="24.68%" stop-color="#58bb88"/><stop offset="25.29%" stop-color="#6bc5b3"/><stop offset="25.66%" stop-color="#2bb5e2"/><stop offset="25.82%" stop-color="#27aae0"/><stop offset="25.89%" stop-color="#26b4e5"/><stop offset="26.34%" stop-color="#68c4b8"/><stop offset="26.72%" stop-color="#64c1a4"/><stop offset="27.32%" stop-color="#6ac5b6"/><stop offset="27.63%" stop-color="#56c0c4"/><stop offset="28.23%" stop-color="#5fc2be"/><stop offset="29.36%" stop-color="#57c0c3"/><stop offset="30.42%" stop-color="#6bc4b3"/><stop offset="31.85%" stop-color="#69c3ae"/><stop offset="34.12%" stop-color="#69c4af"/><stop offset="37.52%" stop-color="#66c2a8"/><stop offset="46.8%" stop-color="#68c3ac"/><stop offset="48.84%" stop-color="#67c2a9"/><stop offset="51.03%" stop-color="#66c2a8"/><stop offset="58.5%" stop-color="#68c3ab"/><stop offset="62.27%" stop-color="#69c3ae"/><stop offset="63.86%" stop-color="#67c3aa"/><stop offset="64.99%" stop-color="#5ebe96"/><stop offset="65.37%" stop-color="#61c09d"/><stop offset="65.67%" stop-color="#6bc5b3"/><stop offset="65.9%" stop-color="#27b5e4"/><stop offset="66.05%" stop-color="#2c8ecf"/><stop offset="66.5%" stop-color="#2f81c6"/><stop offset="66.8%" stop-color="#2d8bcc"/><stop offset="66.95%" stop-color="#26b0e4"/><stop offset="67.26%" stop-color="#6bc5b3"/><stop offset="67.93%" stop-color="#68c3ad"/><stop offset="72.16%" stop-color="#67c2aa"/><stop offset="81.67%" stop-color="#69c4af"/><stop offset="85.82%" stop-color="#68c3ad"/><stop offset="96.32%" stop-color="#68c3ac"/><stop offset="99.94%" stop-color="#65c2a6"/></linearGradient>
<linearGradient id="hd20"><stop offset="0%" stop-color="#68c3ac"/><stop offset="6.57%" stop-color="#68c3ab"/><stop offset="15.25%" stop-color="#67c3ab"/><stop offset="19.1%" stop-color="#68c3ab"/><stop offset="19.78%" stop-color="#69c4b7"/><stop offset="19.85%" stop-color="#63c3bb"/><stop offset="20.08%" stop-color="#25b3e5"/><stop offset="20.3%" stop-color="#2e7cc3"/><stop offset="20.61%" stop-color="#2551a5"/><stop offset="21.21%" stop-color="#2e4aa3"/><stop offset="21.66%" stop-color="#2c4ba4"/><stop offset="21.74%" stop-color="#284fa4"/><stop offset="21.81%" stop-color="#2a68b5"/><stop offset="21.89%" stop-color="#59c0c2"/><stop offset="21.97%" stop-color="#57bb84"/><stop offset="22.04%" stop-color="#4eb864"/><stop offset="22.12%" stop-color="#6cbe5e"/><stop offset="22.19%" stop-color="#9acc53"/><stop offset="22.27%" stop-color="#d8df3c"/><stop offset="22.34%" stop-color="#f7c72e"/><stop offset="22.49%" stop-color="#f15b2f"/><stop offset="22.72%" stop-color="#f0502f"/><stop offset="22.87%" stop-color="#f1562f"/><stop offset="22.95%" stop-color="#f2642e"/><stop offset="23.1%" stop-color="#f6da2f"/><stop offset="23.17%" stop-color="#d1dd3e"/><stop offset="23.32%" stop-color="#7bc25b"/><stop offset="23.48%" stop-color="#4db860"/><stop offset="23.85%" stop-color="#6ac4b0"/><stop offset="23.93%" stop-color="#4fbec9"/><stop offset="24%" stop-color="#50bec8"/><stop offset="24.15%" stop-color="#69c4b7"/><stop offset="24.68%" stop-color="#58bb87"/><stop offset="25.29%" stop-color="#6bc5b3"/><stop offset="25.66%" stop-color="#29b5e3"/><stop offset="25.82%" stop-color="#27a7de"/><stop offset="25.89%" stop-color="#25b3e5"/><stop offset="26.34%" stop-color="#67c4b8"/><stop offset="26.72%" stop-color="#64c1a3"/><stop offset="27.32%" stop-color="#69c4b7"/><stop offset="27.63%" stop-color="#55bfc5"/><stop offset="28.23%" stop-color="#5ec2bf"/><stop offset="29.36%" stop-color="#56c0c4"/><stop offset="30.42%" stop-color="#6bc4b3"/><stop offset="31.85%" stop-color="#69c3ae"/><stop offset="34.12%" stop-color="#69c4af"/><stop offset="37.52%" stop-color="#66c2a8"/><stop offset="46.8%" stop-color="#68c3ac"/><stop offset="48.84%" stop-color="#67c2a9"/><stop offset="51.03%" stop-color="#66c2a8"/><stop offset="58.5%" stop-color="#68c3ab"/><stop offset="62.27%" stop-color="#69c3ae"/><stop offset="63.93%" stop-color="#67c2a9"/><stop offset="64.99%" stop-color="#5fbf98"/><stop offset="65.44%" stop-color="#64c1a2"/><stop offset="65.67%" stop-color="#6bc4b2"/><stop offset="65.75%" stop-color="#5ec2bf"/><stop offset="65.9%" stop-color="#34b8dc"/><stop offset="65.97%" stop-color="#26b0e4"/><stop offset="66.05%" stop-color="#299fd9"/><stop offset="66.5%" stop-color="#2b93d1"/><stop offset="66.8%" stop-color="#2a9bd7"/><stop offset="66.88%" stop-color="#27ace1"/><stop offset="66.95%" stop-color="#2db6e0"/><stop offset="67.18%" stop-color="#61c2bc"/><stop offset="67.26%" stop-color="#6bc4b3"/><stop offset="68.09%" stop-color="#69c3ae"/><stop offset="72.24%" stop-color="#67c2a9"/><stop offset="81.75%" stop-color="#69c4af"/><stop offset="85.75%" stop-color="#68c3ac"/><stop offset="96.84%" stop-color="#68c3ac"/><stop offset="99.94%" stop-color="#65c2a6"/></linearGradient>
<linearGradient id="hd21"><stop offset="0%" stop-color="#68c3ac"/><stop offset="6.57%" stop-color="#68c3ab"/><stop offset="15.25%" stop-color="#67c3ab"/><stop offset="19.1%" stop-color="#68c3ab"/><stop offset="19.78%" stop-color="#69c4b7"/><stop offset="19.85%" stop-color="#63c3bb"/><stop offset="20.08%" stop-color="#25b2e5"/><stop offset="20.3%" stop-color="#2e7bc2"/><stop offset="20.61%" stop-color="#2551a5"/><stop offset="21.21%" stop-color="#2e4aa3"/><stop offset="21.66%" stop-color="#2d4ba3"/><stop offset="21.74%" stop-color="#284fa4"/><stop offset="21.81%" stop-color="#2a68b5"/><stop offset="21.89%" stop-color="#58c0c3"/><stop offset="21.97%" stop-color="#57bb84"/><stop offset="22.04%" stop-color="#4eb864"/><stop offset="22.12%" stop-color="#6cbe5d"/><stop offset="22.19%" stop-color="#9bcc53"/><stop offset="22.27%" stop-color="#d9df3b"/><stop offset="22.34%" stop-color="#f8c52d"/><stop offset="22.49%" stop-color="#f1592f"/><stop offset="22.72%" stop-color="#f04d2f"/><stop offset="22.87%" stop-color="#f1532f"/><stop offset="22.95%" stop-color="#f2622e"/><stop offset="23.1%" stop-color="#f6d82f"/><stop offset="23.17%" stop-color="#d3dd3e"/><stop offset="23.32%" stop-color="#7cc25a"/><stop offset="23.48%" stop-color="#4eb860"/><stop offset="23.85%" stop-color="#6ac4b0"/><stop offset="23.93%" stop-color="#4ebec9"/><stop offset="24%" stop-color="#50bec9"/><stop offset="24.15%" stop-color="#69c4b7"/><stop offset="24.61%" stop-color="#5bbc8e"/><stop offset="24.68%" stop-color="#58bb87"/><stop offset="25.29%" stop-color="#6bc5b4"/><stop offset="25.66%" stop-color="#29b5e4"/><stop offset="25.82%" stop-color="#28a7de"/><stop offset="25.89%" stop-color="#25b2e5"/><stop offset="26.34%" stop-color="#67c4b8"/><stop offset="26.72%" stop-color="#64c1a3"/><stop offset="27.32%" stop-color="#69c4b7"/><stop offset="27.63%" stop-color="#55bfc5"/><stop offset="28.23%" stop-color="#5dc2bf"/><stop offset="29.36%" stop-color="#56c0c4"/><stop offset="30.42%" stop-color="#6bc4b3"/><stop offset="31.85%" stop-color="#69c3ae"/><stop offset="34.12%" stop-color="#69c4af"/><stop offset="37.52%" stop-color="#66c2a8"/><stop offset="46.8%" stop-color="#68c3ac"/><stop offset="48.84%" stop-color="#67c2a9"/><stop offset="51.03%" stop-color="#66c2a8"/><stop offset="58.5%" stop-color="#68c3ab"/><stop offset="62.27%" stop-color="#69c3ae"/><stop offset="63.86%" stop-color="#67c3aa"/><stop offset="64.99%" stop-color="#5fbe97"/><stop offset="65.37%" stop-color="#62c09e"/><stop offset="65.67%" stop-color="#6bc4b2"/><stop offset="65.9%" stop-color="#2eb6e0"/><stop offset="65.97%" stop-color="#27aae0"/><stop offset="66.05%" stop-color="#2a97d4"/><stop offset="66.43%" stop-color="#2d88cb"/><stop offset="66.8%" stop-color="#2b94d2"/><stop offset="66.95%" stop-color="#28b5e4"/><stop offset="67.18%" stop-color="#5fc2be"/><stop offset="67.26%" stop-color="#6bc5b3"/><stop offset="68.01%" stop-color="#69c3ad"/><stop offset="72.16%" stop-color="#67c2aa"/><stop offset="81.67%" stop-color="#69c4af"/><stop offset="85.82%" stop-color="#68c3ad"/><stop offset="96.32%" stop-color="#68c3ac"/><stop offset="99.94%" stop-color="#65c2a6"/></linearGradient>
<linearGradient id="hd22"><stop offset="0%" stop-color="#68c3ac"/><stop offset="6.57%" stop-color="#68c3ab"/><stop offset="15.25%" stop-color="#67c3ab"/><stop offset="19.1%" stop-color="#68c3ab"/><stop offset="19.78%" stop-color="#6ac4b7"/><stop offset="19.85%" stop-color="#64c3bb"/><stop offset="20.08%" stop-color="#25b4e6"/><stop offset="20.3%" stop-color="#2f7dc4"/><stop offset="20.61%" stop-color="#2551a5"/><stop offset="21.14%" stop-color="#2e4aa3"/><stop offset="21.66%" stop-color="#2c4ba4"/><stop offset="21.74%" stop-color="#274fa5"/><stop offset="21.81%" stop-color="#2a6ab6"/><stop offset="21.89%" stop-color="#59c1c2"/><stop offset="21.97%" stop-color="#57bb84"/><stop offset="22.04%" stop-color="#4eb865"/><stop offset="22.12%" stop-color="#6abd5e"/><stop offset="22.19%" stop-color="#96ca54"/><stop offset="22.27%" stop-color="#d2dd3e"/><stop offset="22.34%" stop-color="#f7d02e"/><stop offset="22.49%" stop-color="#f2652e"/><stop offset="22.72%" stop-color="#f15a2f"/><stop offset="22.87%" stop-color="#f2602f"/><stop offset="22.95%" stop-color="#f36e2e"/><stop offset="23.1%" stop-color="#f5e230"/><stop offset="23.25%" stop-color="#9ecd52"/><stop offset="23.32%" stop-color="#78c15c"/><stop offset="23.48%" stop-color="#4db861"/><stop offset="23.85%" stop-color="#6ac4b0"/><stop offset="23.93%" stop-color="#4fbec9"/><stop offset="24%" stop-color="#51bec8"/><stop offset="24.15%" stop-color="#69c4b7"/><stop offset="24.68%" stop-color="#58bb87"/><stop offset="25.29%" stop-color="#6bc5b3"/><stop offset="25.66%" stop-color="#2ab5e2"/><stop offset="25.82%" stop-color="#27a9df"/><stop offset="25.89%" stop-color="#25b4e6"/><stop offset="26.34%" stop-color="#68c4b8"/><stop offset="26.72%" stop-color="#64c1a4"/><stop offset="27.32%" stop-color="#6ac4b7"/><stop offset="27.63%" stop-color="#56c0c5"/><stop offset="28.23%" stop-color="#5ec2be"/><stop offset="29.36%" stop-color="#57c0c4"/><stop offset="30.42%" stop-color="#6bc4b3"/><stop offset="31.85%" stop-color="#69c3ae"/><stop offset="34.12%" stop-color="#69c4af"/><stop offset="37.52%" stop-color="#66c2a8"/><stop offset="46.8%" stop-color="#68c3ac"/><stop offset="48.84%" stop-color="#67c2a9"/><stop offset="51.03%" stop-color="#66c2a8"/><stop offset="58.5%" stop-color="#68c3ab"/><stop offset="62.27%" stop-color="#69c3ae"/><stop offset="63.93%" stop-color="#67c2a9"/><stop offset="64.99%" stop-color="#5fbe98"/><stop offset="65.37%" stop-color="#62c09e"/><stop offset="65.67%" stop-color="#6bc4b2"/><stop offset="65.75%" stop-color="#5cc1c0"/><stop offset="65.9%" stop-color="#30b7de"/><stop offset="65.97%" stop-color="#26ade1"/><stop offset="66.05%" stop-color="#2a9bd6"/><stop offset="66.5%" stop-color="#2c8ece"/><stop offset="66.8%" stop-color="#2a97d4"/><stop offset="66.95%" stop-color="#2ab5e2"/><stop offset="67.18%" stop-color="#60c2bd"/><stop offset="67.26%" stop-color="#6bc4b3"/><stop offset="68.01%" stop-color="#69c3ad"/><stop offset="72.16%" stop-color="#67c2aa"/><stop offset="81.67%" stop-color="#69c4af"/><stop offset="85.82%" stop-color="#68c3ad"/><stop offset="96.32%" stop-color="#68c3ac"/><stop offset="99.94%" stop-color="#65c2a6"/></linearGradient>
<linearGradient id="hd23"><stop offset="0%" stop-color="#68c3ac"/><stop offset="6.57%" stop-color="#68c3ab"/><stop offset="15.25%" stop-color="#67c3ab"/><stop offset="19.1%" stop-color="#68c3ab"/><stop offset="19.78%" stop-color="#6ac4b6"/><stop offset="19.85%" stop-color="#64c3ba"/><stop offset="20.08%" stop-color="#26b4e5"/><stop offset="20.3%" stop-color="#2f7ec4"/><stop offset="20.61%" stop-color="#2551a5"/><stop offset="21.14%" stop-color="#2e4aa3"/><stop offset="21.66%" stop-color="#2c4ba4"/><stop offset="21.74%" stop-color="#274fa5"/><stop offset="21.81%" stop-color="#2b6ab7"/><stop offset="21.89%" stop-color="#5ac1c2"/><stop offset="21.97%" stop-color="#57bb85"/><stop offset="22.04%" stop-color="#4fb866"/><stop offset="22.12%" stop-color="#69bd5e"/><stop offset="22.19%" stop-color="#94ca54"/><stop offset="22.27%" stop-color="#d0dc3f"/><stop offset="22.34%" stop-color="#f7d22e"/><stop offset="22.49%" stop-color="#f2692e"/><stop offset="22.72%" stop-color="#f25d2f"/><stop offset="22.87%" stop-color="#f2632e"/><stop offset="22.95%" stop-color="#f3722e"/><stop offset="23.1%" stop-color="#f5e530"/><stop offset="23.25%" stop-color="#9dcc52"/><stop offset="23.32%" stop-color="#77c05c"/><stop offset="23.48%" stop-color="#4db861"/><stop offset="23.85%" stop-color="#6ac4b0"/><stop offset="23.93%" stop-color="#50bec8"/><stop offset="24%" stop-color="#51bfc8"/><stop offset="24.15%" stop-color="#6ac4b7"/><stop offset="24.68%" stop-color="#58bb88"/><stop offset="25.29%" stop-color="#6bc5b3"/><stop offset="25.66%" stop-color="#2bb5e2"/><stop offset="25.82%" stop-color="#27a9df"/><stop offset="25.89%" stop-color="#26b4e5"/><stop offset="26.34%" stop-color="#68c4b8"/><stop offset="26.72%" stop-color="#64c1a4"/><stop offset="27.32%" stop-color="#6ac4b6"/><stop offset="27.63%" stop-color="#56c0c4"/><stop offset="28.23%" stop-color="#5fc2be"/><stop offset="29.36%" stop-color="#57c0c4"/><stop offset="30.42%" stop-color="#6bc4b3"/><stop offset="31.85%" stop-color="#69c3ae"/><stop offset="34.12%" stop-color="#69c4af"/><stop offset="37.52%" stop-color="#66c2a8"/><stop offset="46.8%" stop-color="#68c3ac"/><stop offset="48.84%" stop-color="#67c2a9"/><stop offset="51.03%" stop-color="#66c2a8"/><stop offset="58.5%" stop-color="#68c3ab"/><stop offset="62.27%" stop-color="#69c3ae"/><stop offset="63.93%" stop-color="#67c2a9"/><stop offset="64.99%" stop-color="#5fbf98"/><stop offset="65.37%" stop-color="#62c09e"/><stop offset="65.67%" stop-color="#6bc4b2"/><stop offset="65.75%" stop-color="#5dc1c0"/><stop offset="65.9%" stop-color="#32b7dd"/><stop offset="65.97%" stop-color="#26aee3"/><stop offset="66.05%" stop-color="#299dd7"/><stop offset="66.5%" stop-color="#2c90d0"/><stop offset="66.8%" stop-color="#2a99d5"/><stop offset="66.95%" stop-color="#2cb6e1"/><stop offset="67.18%" stop-color="#61c2bd"/><stop offset="67.26%" stop-color="#6bc4b3"/><stop offset="68.01%" stop-color="#69c3ad"/><stop offset="72.16%" stop-color="#67c2aa"/><stop offset="81.67%" stop-color="#69c4af"/><stop offset="85.82%" stop-color="#68c3ad"/><stop offset="96.32%" stop-color="#68c3ac"/><stop offset="99.94%" stop-color="#65c2a6"/></linearGradient>
<linearGradient id="hd24"><stop offset="0%" stop-color="#68c3ac"/><stop offset="6.57%" stop-color="#68c3ab"/><stop offset="15.25%" stop-color="#67c3ab"/><stop offset="19.1%" stop-color="#68c3ab"/><stop offset="19.78%" stop-color="#69c4b7"/><stop offset="19.85%" stop-color="#63c3bb"/><stop offset="20.08%" stop-color="#25b3e5"/><stop offset="20.3%" stop-color="#2e7cc3"/><stop offset="20.61%" stop-color="#2551a5"/><stop offset="21.21%" stop-color="#2e4aa3"/><stop offset="21.66%" stop-color="#2c4ba4"/><stop offset="21.74%" stop-color="#274fa5"/><stop offset="21.81%" stop-color="#2a69b5"/><stop offset="21.89%" stop-color="#59c0c2"/><stop offset="21.97%" stop-color="#57bb84"/><stop offset="22.04%" stop-color="#4eb865"/><stop offset="22.12%" stop-color="#6bbe5e"/><stop offset="22.19%" stop-color="#99cb53"/><stop offset="22.27%" stop-color="#d6de3c"/><stop offset="22.34%" stop-color="#f7c92e"/><stop offset="22.49%" stop-color="#f25e2f"/><stop offset="22.72%" stop-color="#f1522f"/><stop offset="22.87%" stop-color="#f1582f"/><stop offset="22.95%" stop-color="#f2672e"/><stop offset="23.1%" stop-color="#f6dc2f"/><stop offset="23.17%" stop-color="#d0dc3f"/><stop offset="23.32%" stop-color="#7ac25b"/><stop offset="23.48%" stop-color="#4db860"/><stop offset="23.85%" stop-color="#6ac4b0"/><stop offset="23.93%" stop-color="#4fbec9"/><stop offset="24%" stop-color="#50bec8"/><stop offset="24.15%" stop-color="#69c4b7"/><stop offset="24.68%" stop-color="#58bb87"/><stop offset="25.29%" stop-color="#6bc5b3"/><stop offset="25.66%" stop-color="#29b5e3"/><stop offset="25.82%" stop-color="#27a8de"/><stop offset="25.89%" stop-color="#25b3e6"/><stop offset="26.34%" stop-color="#67c4b8"/><stop offset="26.72%" stop-color="#64c1a4"/><stop offset="27.32%" stop-color="#6ac4b7"/><stop offset="27.63%" stop-color="#55bfc5"/><stop offset="28.23%" stop-color="#5ec2bf"/><stop offset="29.36%" stop-color="#56c0c4"/><stop offset="30.42%" stop-color="#6bc4b3"/><stop offset="31.85%" stop-color="#69c3ae"/><stop offset="34.12%" stop-color="#69c4af"/><stop offset="37.52%" stop-color="#66c2a8"/><stop offset="46.8%" stop-color="#68c3ac"/><stop offset="48.84%" stop-color="#67c2a9"/><stop offset="51.03%" stop-color="#66c2a8"/><stop offset="58.5%" stop-color="#68c3ab"/><stop offset="62.27%" stop-color="#69c3ae"/><stop offset="63.86%" stop-color="#67c3aa"/><stop offset="64.99%" stop-color="#5ebe96"/><stop offset="65.37%" stop-color="#61c09d"/><stop offset="65.67%" stop-color="#6bc5b3"/><stop offset="65.9%" stop-color="#29b5e3"/><stop offset="66.05%" stop-color="#2c91d0"/><stop offset="66.43%" stop-color="#2f81c6"/><stop offset="66.8%" stop-color="#2c8ece"/><stop offset="66.95%" stop-color="#25b2e5"/><stop offset="67.26%" stop-color="#6bc5b3"/><stop offset="67.93%" stop-color="#68c3ad"/><stop offset="72.16%" stop-color="#67c2aa"/><stop offset="81.67%" stop-color="#69c4af"/><stop offset="85.82%" stop-color="#68c3ad"/><stop offset="96.32%" stop-color="#68c3ac"/><stop offset="99.94%" stop-color="#65c2a6"/></linearGradient>
<linearGradient id="hd25"><stop offset="0%" stop-color="#68c3ac"/><stop offset="6.57%" stop-color="#68c3ab"/><stop offset="15.25%" stop-color="#67c3ab"/><stop offset="19.1%" stop-color="#68c3ab"/><stop offset="19.78%" stop-color="#6ac4b7"/><stop offset="19.85%" stop-color="#64c3bb"/><stop offset="20.08%" stop-color="#25b4e6"/><stop offset="20.3%" stop-color="#2f7dc4"/><stop offset="20.61%" stop-color="#2551a5"/><stop offset="21.14%" stop-color="#2e4aa3"/><stop offset="21.66%" stop-color="#2c4ba4"/><stop offset="21.74%" stop-color="#274fa5"/><stop offset="21.81%" stop-color="#2a6ab6"/><stop offset="21.89%" stop-color="#59c0c2"/><stop offset="21.97%" stop-color="#57bb84"/><stop offset="22.04%" stop-color="#4eb865"/><stop offset="22.12%" stop-color="#6abe5e"/><stop offset="22.19%" stop-color="#97ca54"/><stop offset="22.27%" stop-color="#d3dd3e"/><stop offset="22.34%" stop-color="#f7ce2e"/><stop offset="22.49%" stop-color="#f2632e"/><stop offset="22.72%" stop-color="#f1582f"/><stop offset="22.87%" stop-color="#f25e2f"/><stop offset="22.95%" stop-color="#f36c2e"/><stop offset="23.1%" stop-color="#f6e02f"/><stop offset="23.17%" stop-color="#cddb40"/><stop offset="23.32%" stop-color="#79c15b"/><stop offset="23.48%" stop-color="#4db861"/><stop offset="23.85%" stop-color="#6ac4b0"/><stop offset="23.93%" stop-color="#4fbec9"/><stop offset="24%" stop-color="#51bec8"/><stop offset="24.15%" stop-color="#69c4b7"/><stop offset="24.68%" stop-color="#58bb87"/><stop offset="25.29%" stop-color="#6bc5b3"/><stop offset="25.66%" stop-color="#2ab5e2"/><stop offset="25.82%" stop-color="#27a8df"/><stop offset="25.89%" stop-color="#25b4e6"/><stop offset="26.34%" stop-color="#68c4b8"/><stop offset="26.72%" stop-color="#64c1a4"/><stop offset="27.32%" stop-color="#6ac4b7"/><stop offset="27.63%" stop-color="#55c0c5"/><stop offset="28.23%" stop-color="#5ec2bf"/><stop offset="29.36%" stop-color="#57c0c4"/><stop offset="30.42%" stop-color="#6bc4b3"/><stop offset="31.85%" stop-color="#69c3ae"/><stop offset="34.12%" stop-color="#69c4af"/><stop offset="37.52%" stop-color="#66c2a8"/><stop offset="46.8%" stop-color="#68c3ac"/><stop offset="48.84%" stop-color="#67c2a9"/><stop offset="51.03%" stop-color="#66c2a8"/><stop offset="58.5%" stop-color="#68c3ab"/><stop offset="62.27%" stop-color="#69c3ae"/><stop offset="63.86%" stop-color="#67c2aa"/><stop offset="64.99%" stop-color="#5ebe95"/><stop offset="65.37%" stop-color="#61c09c"/><stop offset="65.67%" stop-color="#6bc5b3"/><stop offset="65.9%" stop-color="#25b3e5"/><stop offset="66.05%" stop-color="#2d8acc"/><stop offset="66.5%" stop-color="#2f7dc4"/><stop offset="66.8%" stop-color="#2e87ca"/><stop offset="66.95%" stop-color="#26ade2"/><stop offset="67.03%" stop-color="#33b7dd"/><stop offset="67.26%" stop-color="#6bc5b3"/><stop offset="67.93%" stop-color="#68c3ad"/><stop offset="72.16%" stop-color="#67c2aa"/><stop offset="81.67%" stop-color="#69c4af"/><stop offset="85.82%" stop-color="#68c3ad"/><stop offset="96.32%" stop-color="#68c3ac"/><stop offset="99.94%" stop-color="#65c2a6"/></linearGradient>
<linearGradient id="hd26"><stop offset="0%" stop-color="#68c3ac"/><stop offset="6.57%" stop-color="#68c3ab"/><stop offset="15.25%" stop-color="#67c3ab"/><stop offset="19.1%" stop-color="#68c3ab"/><stop offset="19.78%" stop-color="#69c4b7"/><stop offset="19.85%" stop-color="#64c3bb"/><stop offset="20.08%" stop-color="#25b4e6"/><stop offset="20.3%" stop-color="#2e7cc3"/><stop offset="20.61%" stop-color="#2551a5"/><stop offset="21.21%" stop-color="#2e4aa3"/><stop offset="21.66%" stop-color="#2c4ba4"/><stop offset="21.74%" stop-color="#274fa5"/><stop offset="21.81%" stop-color="#2a69b6"/><stop offset="21.89%" stop-color="#59c0c2"/><stop offset="21.97%" stop-color="#57bb84"/><stop offset="22.04%" stop-color="#4eb865"/><stop offset="22.12%" stop-color="#6bbe5e"/><stop offset="22.19%" stop-color="#98cb53"/><stop offset="22.27%" stop-color="#d5de3d"/><stop offset="22.34%" stop-color="#f7cc2e"/><stop offset="22.49%" stop-color="#f2612e"/><stop offset="22.72%" stop-color="#f1552f"/><stop offset="22.87%" stop-color="#f15b2f"/><stop offset="22.95%" stop-color="#f36a2e"/><stop offset="23.1%" stop-color="#f6de2f"/><stop offset="23.17%" stop-color="#cedc40"/><stop offset="23.32%" stop-color="#7ac15b"/><stop offset="23.48%" stop-color="#4db860"/><stop offset="23.85%" stop-color="#6ac4b0"/><stop offset="23.93%" stop-color="#4fbec9"/><stop offset="24%" stop-color="#50bec8"/><stop offset="24.15%" stop-color="#69c4b7"/><stop offset="24.68%" stop-color="#58bb87"/><stop offset="25.29%" stop-color="#6bc5b3"/><stop offset="25.66%" stop-color="#2ab5e3"/><stop offset="25.82%" stop-color="#27a8df"/><stop offset="25.89%" stop-color="#25b4e6"/><stop offset="26.34%" stop-color="#68c4b8"/><stop offset="26.72%" stop-color="#64c1a4"/><stop offset="27.32%" stop-color="#6ac4b7"/><stop offset="27.63%" stop-color="#55c0c5"/><stop offset="28.23%" stop-color="#5ec2bf"/><stop offset="29.36%" stop-color="#56c0c4"/><stop offset="30.42%" stop-color="#6bc4b3"/><stop offset="31.85%" stop-color="#69c3ae"/><stop offset="34.12%" stop-color="#69c4af"/><stop offset="37.52%" stop-color="#66c2a8"/><stop offset="46.8%" stop-color="#68c3ac"/><stop offset="48.84%" stop-color="#67c2a9"/><stop offset="51.03%" stop-color="#66c2a8"/><stop offset="58.5%" stop-color="#68c3ab"/><stop offset="62.27%" stop-color="#69c3ae"/><stop offset="63.78%" stop-color="#67c3aa"/><stop offset="64.92%" stop-color="#5dbd92"/><stop offset="65.37%" stop-color="#60bf9a"/><stop offset="65.67%" stop-color="#6cc5b5"/><stop offset="65.82%" stop-color="#2eb6e0"/><stop offset="65.9%" stop-color="#28a5dc"/><stop offset="66.05%" stop-color="#2e7ac1"/><stop offset="66.5%" stop-color="#2c70bb"/><stop offset="66.8%" stop-color="#2d78c0"/><stop offset="67.03%" stop-color="#26b4e5"/><stop offset="67.26%" stop-color="#6cc5b4"/><stop offset="67.86%" stop-color="#68c3ac"/><stop offset="72.16%" stop-color="#67c2aa"/><stop offset="81.67%" stop-color="#69c4af"/><stop offset="85.82%" stop-color="#68c3ad"/><stop offset="96.32%" stop-color="#68c3ac"/><stop offset="99.94%" stop-color="#65c2a6"/></linearGradient>
<linearGradient id="hd27"><stop offset="0%" stop-color="#68c3ac"/><stop offset="6.57%" stop-color="#68c3ab"/><stop offset="15.25%" stop-color="#67c3ab"/><stop offset="19.1%" stop-color="#68c3ab"/><stop offset="19.78%" stop-color="#6bc5b6"/><stop offset="19.85%" stop-color="#65c3ba"/><stop offset="20.08%" stop-color="#28b5e4"/><stop offset="20.3%" stop-color="#2f80c6"/><stop offset="20.61%" stop-color="#2553a6"/><stop offset="21.14%" stop-color="#2e4aa3"/><stop offset="21.66%" stop-color="#2c4ca4"/><stop offset="21.74%" stop-color="#274fa5"/><stop offset="21.81%" stop-color="#2b6db8"/><stop offset="21.89%" stop-color="#5bc1c1"/><stop offset="21.97%" stop-color="#57bb85"/><stop offset="22.04%" stop-color="#4fb967"/><stop offset="22.12%" stop-color="#67bd5e"/><stop offset="22.19%" stop-color="#8fc856"/><stop offset="22.27%" stop-color="#c8da42"/><stop offset="22.34%" stop-color="#f6de2f"/><stop offset="22.49%" stop-color="#f4762e"/><stop offset="22.8%" stop-color="#f36d2e"/><stop offset="22.87%" stop-color="#f3712e"/><stop offset="22.95%" stop-color="#f47f2e"/><stop offset="23.02%" stop-color="#f9b82c"/><stop offset="23.1%" stop-color="#efe632"/><stop offset="23.25%" stop-color="#97cb54"/><stop offset="23.32%" stop-color="#72bf5d"/><stop offset="23.48%" stop-color="#4eb862"/><stop offset="23.85%" stop-color="#6ac4b0"/><stop offset="23.93%" stop-color="#51bfc8"/><stop offset="24%" stop-color="#52bfc7"/><stop offset="24.15%" stop-color="#6ac5b6"/><stop offset="24.68%" stop-color="#58bb88"/><stop offset="25.29%" stop-color="#6bc5b3"/><stop offset="25.59%" stop-color="#3ab9d7"/><stop offset="25.74%" stop-color="#26afe3"/><stop offset="25.82%" stop-color="#27abe1"/><stop offset="25.89%" stop-color="#28b5e4"/><stop offset="26.34%" stop-color="#68c4b7"/><stop offset="26.72%" stop-color="#64c1a4"/><stop offset="27.32%" stop-color="#6ac5b6"/><stop offset="27.63%" stop-color="#57c0c4"/><stop offset="28.23%" stop-color="#60c2be"/><stop offset="29.36%" stop-color="#58c0c3"/><stop offset="30.42%" stop-color="#6bc4b2"/><stop offset="31.85%" stop-color="#69c3ae"/><stop offset="34.12%" stop-color="#69c4af"/><stop offset="37.52%" stop-color="#66c2a8"/><stop offset="46.8%" stop-color="#68c3ac"/><stop offset="48.84%" stop-color="#67c2a9"/><stop offset="51.03%" stop-color="#66c2a8"/><stop offset="58.5%" stop-color="#68c3ab"/><stop offset="62.27%" stop-color="#69c3ae"/><stop offset="63.86%" stop-color="#67c2a9"/><stop offset="64.92%" stop-color="#5dbd93"/><stop offset="65.37%" stop-color="#60bf9a"/><stop offset="65.67%" stop-color="#6cc5b5"/><stop offset="65.82%" stop-color="#2eb6df"/><stop offset="65.9%" stop-color="#28a5dd"/><stop offset="66.05%" stop-color="#2e7ac2"/><stop offset="66.5%" stop-color="#2c71bb"/><stop offset="66.8%" stop-color="#2e78c0"/><stop offset="67.03%" stop-color="#27b4e5"/><stop offset="67.26%" stop-color="#6cc5b4"/><stop offset="67.86%" stop-color="#68c3ac"/><stop offset="72.16%" stop-color="#67c2aa"/><stop offset="81.67%" stop-color="#69c4af"/><stop offset="85.82%" stop-color="#68c3ad"/><stop offset="96.32%" stop-color="#68c3ac"/><stop offset="99.94%" stop-color="#65c2a6"/></linearGradient>
<linearGradient id="hd28"><stop offset="0%" stop-color="#68c3ac"/><stop offset="6.57%" stop-color="#68c3ab"/><stop offset="15.25%" stop-color="#67c3ab"/><stop offset="19.1%" stop-color="#68c3ab"/><stop offset="19.78%" stop-color="#6cc5b5"/><stop offset="19.85%" stop-color="#66c4b9"/><stop offset="20.08%" stop-color="#2bb6e2"/><stop offset="20.23%" stop-color="#2b96d4"/><stop offset="20.46%" stop-color="#2b6eb9"/><stop offset="20.68%" stop-color="#2650a5"/><stop offset="21.29%" stop-color="#2e4aa3"/><stop offset="21.66%" stop-color="#2b4ca4"/><stop offset="21.74%" stop-color="#2650a5"/><stop offset="21.81%" stop-color="#2c70ba"/><stop offset="21.89%" stop-color="#5cc1c0"/><stop offset="21.97%" stop-color="#57bb86"/><stop offset="22.04%" stop-color="#4fb969"/><stop offset="22.12%" stop-color="#64bc5e"/><stop offset="22.19%" stop-color="#87c658"/><stop offset="22.34%" stop-color="#f1e732"/><stop offset="22.42%" stop-color="#f8bb2d"/><stop offset="22.49%" stop-color="#f5892d"/><stop offset="22.8%" stop-color="#f4802e"/><stop offset="22.87%" stop-color="#f5842d"/><stop offset="22.95%" stop-color="#f6922d"/><stop offset="23.02%" stop-color="#f7c82e"/><stop offset="23.1%" stop-color="#e3e237"/><stop offset="23.25%" stop-color="#8fc856"/><stop offset="23.32%" stop-color="#6fbe5d"/><stop offset="23.48%" stop-color="#4eb864"/><stop offset="23.85%" stop-color="#6ac4b0"/><stop offset="23.93%" stop-color="#53bfc7"/><stop offset="24%" stop-color="#54bfc6"/><stop offset="24.15%" stop-color="#6bc5b6"/><stop offset="24.68%" stop-color="#59bb89"/><stop offset="25.29%" stop-color="#6bc5b3"/><stop offset="25.51%" stop-color="#4abdcd"/><stop offset="25.74%" stop-color="#25b1e4"/><stop offset="25.82%" stop-color="#26aee3"/><stop offset="25.97%" stop-color="#36b8da"/><stop offset="26.34%" stop-color="#69c4b7"/><stop offset="26.72%" stop-color="#65c1a4"/><stop offset="27.32%" stop-color="#6bc5b6"/><stop offset="27.63%" stop-color="#58c0c3"/><stop offset="28.23%" stop-color="#61c2bd"/><stop offset="29.36%" stop-color="#59c1c2"/><stop offset="30.34%" stop-color="#6bc5b3"/><stop offset="31.78%" stop-color="#69c3ad"/><stop offset="34.19%" stop-color="#6ac4af"/><stop offset="39.33%" stop-color="#67c3aa"/><stop offset="46.8%" stop-color="#68c3ac"/><stop offset="48.84%" stop-color="#67c2a9"/><stop offset="51.03%" stop-color="#66c2a8"/><stop offset="58.5%" stop-color="#68c3ab"/><stop offset="62.27%" stop-color="#69c3ae"/><stop offset="63.78%" stop-color="#67c3aa"/><stop offset="64.92%" stop-color="#5cbd92"/><stop offset="65.37%" stop-color="#60bf9a"/><stop offset="65.67%" stop-color="#6cc5b5"/><stop offset="65.82%" stop-color="#2db6e1"/><stop offset="65.9%" stop-color="#28a3dc"/><stop offset="66.05%" stop-color="#2e78c0"/><stop offset="66.5%" stop-color="#2c6fba"/><stop offset="66.8%" stop-color="#2d76bf"/><stop offset="67.03%" stop-color="#25b4e6"/><stop offset="67.26%" stop-color="#6cc5b4"/><stop offset="67.86%" stop-color="#68c3ac"/><stop offset="72.16%" stop-color="#67c2aa"/><stop offset="81.67%" stop-color="#69c4af"/><stop offset="85.82%" stop-color="#68c3ad"/><stop offset="96.32%" stop-color="#68c3ac"/><stop offset="99.94%" stop-color="#65c2a6"/></linearGradient>
<linearGradient id="hd29"><stop offset="0%" stop-color="#68c3ac"/><stop offset="6.57%" stop-color="#68c3ab"/><stop offset="15.25%" stop-color="#67c3ab"/><stop offset="19.1%" stop-color="#68c3ab"/><stop offset="19.85%" stop-color="#67c4b8"/><stop offset="20.08%" stop-color="#2db6e0"/><stop offset="20.15%" stop-color="#27aae0"/><stop offset="20.38%" stop-color="#2e7ac1"/><stop offset="20.68%" stop-color="#2551a5"/><stop offset="21.29%" stop-color="#2e4aa3"/><stop offset="21.66%" stop-color="#2b4da4"/><stop offset="21.74%" stop-color="#2650a5"/><stop offset="21.81%" stop-color="#2c72bc"/><stop offset="21.89%" stop-color="#5dc1bf"/><stop offset="21.97%" stop-color="#58bb86"/><stop offset="22.04%" stop-color="#50b96a"/><stop offset="22.12%" stop-color="#62bc5e"/><stop offset="22.19%" stop-color="#82c459"/><stop offset="22.34%" stop-color="#e8e435"/><stop offset="22.42%" stop-color="#f7c72e"/><stop offset="22.49%" stop-color="#f6962d"/><stop offset="22.8%" stop-color="#f68d2d"/><stop offset="22.87%" stop-color="#f6912d"/><stop offset="22.95%" stop-color="#f79e2d"/><stop offset="23.02%" stop-color="#f7d42e"/><stop offset="23.1%" stop-color="#dae03b"/><stop offset="23.25%" stop-color="#8ac757"/><stop offset="23.32%" stop-color="#6cbe5d"/><stop offset="23.48%" stop-color="#4fb865"/><stop offset="23.85%" stop-color="#6ac4af"/><stop offset="23.93%" stop-color="#54bfc6"/><stop offset="24%" stop-color="#55bfc5"/><stop offset="24.15%" stop-color="#6bc5b5"/><stop offset="24.68%" stop-color="#59bb8a"/><stop offset="25.29%" stop-color="#6bc5b3"/><stop offset="25.51%" stop-color="#4bbdcc"/><stop offset="25.74%" stop-color="#25b3e6"/><stop offset="25.89%" stop-color="#2db6e1"/><stop offset="26.34%" stop-color="#6ac4b7"/><stop offset="26.72%" stop-color="#65c1a5"/><stop offset="27.32%" stop-color="#6bc5b5"/><stop offset="27.63%" stop-color="#59c0c2"/><stop offset="28.23%" stop-color="#62c3bc"/><stop offset="29.44%" stop-color="#5cc1c0"/><stop offset="30.34%" stop-color="#6bc5b3"/><stop offset="31.78%" stop-color="#69c3ad"/><stop offset="34.19%" stop-color="#6ac4af"/><stop offset="39.33%" stop-color="#67c3aa"/><stop offset="46.8%" stop-color="#68c3ac"/><stop offset="48.84%" stop-color="#67c2a9"/><stop offset="51.03%" stop-color="#66c2a8"/><stop offset="58.5%" stop-color="#68c3ab"/><stop offset="62.27%" stop-color="#69c3ae"/><stop offset="63.78%" stop-color="#67c3aa"/><stop offset="64.92%" stop-color="#5cbd90"/><stop offset="65.37%" stop-color="#5fbf99"/><stop offset="65.59%" stop-color="#67c3aa"/><stop offset="65.67%" stop-color="#69c4b7"/><stop offset="65.82%" stop-color="#25b3e5"/><stop offset="65.97%" stop-color="#2f7fc5"/><stop offset="66.05%" stop-color="#2c70bb"/><stop offset="66.5%" stop-color="#2a66b4"/><stop offset="66.8%" stop-color="#2b6eb9"/><stop offset="66.95%" stop-color="#2b93d2"/><stop offset="67.03%" stop-color="#27ace1"/><stop offset="67.1%" stop-color="#37b8da"/><stop offset="67.26%" stop-color="#6cc5b5"/><stop offset="67.78%" stop-color="#68c3ab"/><stop offset="72.09%" stop-color="#67c3aa"/><stop offset="81.52%" stop-color="#69c4ae"/><stop offset="85.98%" stop-color="#69c3ad"/><stop offset="95.56%" stop-color="#68c3ab"/><stop offset="99.79%" stop-color="#66c2a7"/><stop offset="99.94%" stop-color="#65c2a6"/></linearGradient>
<linearGradient id="hd30"><stop offset="0%" stop-color="#68c3ac"/><stop offset="6.57%" stop-color="#68c3ab"/><stop offset="15.25%" stop-color="#67c3ab"/><stop offset="19.1%" stop-color="#68c3ab"/><stop offset="19.85%" stop-color="#69c4b7"/><stop offset="20.08%" stop-color="#32b7dd"/><stop offset="20.15%" stop-color="#26afe3"/><stop offset="20.38%" stop-color="#2f7ec4"/><stop offset="20.68%" stop-color="#2654a7"/><stop offset="21.21%" stop-color="#2e4aa3"/><stop offset="21.66%" stop-color="#2a4da4"/><stop offset="21.74%" stop-color="#2551a5"/><stop offset="21.81%" stop-color="#2d76bf"/><stop offset="21.89%" stop-color="#5fc2be"/><stop offset="21.97%" stop-color="#58bb87"/><stop offset="22.04%" stop-color="#50b96c"/><stop offset="22.12%" stop-color="#5ebb5f"/><stop offset="22.19%" stop-color="#78c15c"/><stop offset="22.34%" stop-color="#d6de3c"/><stop offset="22.42%" stop-color="#f6df2f"/><stop offset="22.49%" stop-color="#f9b02c"/><stop offset="22.8%" stop-color="#f8a72c"/><stop offset="22.87%" stop-color="#f8ab2c"/><stop offset="22.95%" stop-color="#f9b82c"/><stop offset="23.02%" stop-color="#f3e731"/><stop offset="23.17%" stop-color="#a1ce51"/><stop offset="23.25%" stop-color="#7fc35a"/><stop offset="23.4%" stop-color="#56ba5f"/><stop offset="23.48%" stop-color="#4fb968"/><stop offset="23.85%" stop-color="#69c4af"/><stop offset="23.93%" stop-color="#56c0c4"/><stop offset="24%" stop-color="#57c0c4"/><stop offset="24.15%" stop-color="#6cc5b5"/><stop offset="24.68%" stop-color="#5abc8c"/><stop offset="25.29%" stop-color="#6bc5b3"/><stop offset="25.44%" stop-color="#5ac1c2"/><stop offset="25.74%" stop-color="#29b5e4"/><stop offset="25.82%" stop-color="#26b4e6"/><stop offset="26.34%" stop-color="#6bc5b6"/><stop offset="26.72%" stop-color="#65c1a5"/><stop offset="27.4%" stop-color="#68c4b8"/><stop offset="27.7%" stop-color="#5dc1bf"/><stop offset="28.23%" stop-color="#64c3bb"/><stop offset="29.44%" stop-color="#5ec2bf"/><stop offset="30.34%" stop-color="#6bc5b3"/><stop offset="31.78%" stop-color="#69c3ad"/><stop offset="34.19%" stop-color="#6ac4af"/><stop offset="39.33%" stop-color="#67c3aa"/><stop offset="46.8%" stop-color="#68c3ac"/><stop offset="48.84%" stop-color="#67c2a9"/><stop offset="51.03%" stop-color="#66c2a8"/><stop offset="58.5%" stop-color="#68c3ab"/><stop offset="62.27%" stop-color="#69c3ae"/><stop offset="63.78%" stop-color="#67c3aa"/><stop offset="64.92%" stop-color="#5bbc8e"/><stop offset="65.29%" stop-color="#5cbd92"/><stop offset="65.59%" stop-color="#67c3aa"/><stop offset="65.67%" stop-color="#67c4b9"/><stop offset="65.75%" stop-color="#42bbd2"/><stop offset="65.82%" stop-color="#26ace1"/><stop offset="65.97%" stop-color="#2e79c1"/><stop offset="66.05%" stop-color="#2a69b6"/><stop offset="66.5%" stop-color="#285eae"/><stop offset="66.8%" stop-color="#2a67b4"/><stop offset="66.95%" stop-color="#2d8bcc"/><stop offset="67.03%" stop-color="#28a5dd"/><stop offset="67.1%" stop-color="#32b7dd"/><stop offset="67.26%" stop-color="#6bc5b6"/><stop offset="67.78%" stop-color="#68c3ab"/><stop offset="72.09%" stop-color="#67c3aa"/><stop offset="81.52%" stop-color="#69c4ae"/><stop offset="85.98%" stop-color="#69c3ad"/><stop offset="95.56%" stop-color="#68c3ab"/><stop offset="99.79%" stop-color="#66c2a7"/><stop offset="99.94%" stop-color="#65c2a6"/></linearGradient>
<linearGradient id="hd31"><stop offset="0%" stop-color="#68c3ac"/><stop offset="6.57%" stop-color="#68c3ab"/><stop offset="15.25%" stop-color="#67c3ab"/><stop offset="19.1%" stop-color="#68c3ab"/><stop offset="19.85%" stop-color="#6ac5b6"/><stop offset="20.15%" stop-color="#25b2e5"/><stop offset="20.46%" stop-color="#2d77c0"/><stop offset="20.76%" stop-color="#2551a5"/><stop offset="21.21%" stop-color="#2e4aa3"/><stop offset="21.66%" stop-color="#294ea4"/><stop offset="21.74%" stop-color="#2551a5"/><stop offset="21.81%" stop-color="#2e79c1"/><stop offset="21.89%" stop-color="#60c2bd"/><stop offset="21.97%" stop-color="#58bb88"/><stop offset="22.04%" stop-color="#51b96d"/><stop offset="22.12%" stop-color="#5bbb5f"/><stop offset="22.19%" stop-color="#71bf5d"/><stop offset="22.34%" stop-color="#cbdb41"/><stop offset="22.42%" stop-color="#f0e632"/><stop offset="22.49%" stop-color="#f8c12d"/><stop offset="22.8%" stop-color="#f9b82c"/><stop offset="22.87%" stop-color="#f8bc2d"/><stop offset="22.95%" stop-color="#f7c92e"/><stop offset="23.02%" stop-color="#e7e436"/><stop offset="23.25%" stop-color="#78c15b"/><stop offset="23.4%" stop-color="#54b95f"/><stop offset="23.55%" stop-color="#54ba79"/><stop offset="23.85%" stop-color="#69c4af"/><stop offset="23.93%" stop-color="#57c0c3"/><stop offset="24%" stop-color="#58c0c3"/><stop offset="24.15%" stop-color="#6cc5b5"/><stop offset="24.68%" stop-color="#5abc8d"/><stop offset="25.29%" stop-color="#6bc4b3"/><stop offset="25.44%" stop-color="#5bc1c1"/><stop offset="25.74%" stop-color="#2bb6e2"/><stop offset="25.82%" stop-color="#28b5e4"/><stop offset="26.34%" stop-color="#6bc5b6"/><stop offset="26.72%" stop-color="#65c2a5"/><stop offset="27.4%" stop-color="#69c4b7"/><stop offset="27.7%" stop-color="#5ec2bf"/><stop offset="28.23%" stop-color="#65c3ba"/><stop offset="29.44%" stop-color="#5fc2be"/><stop offset="30.34%" stop-color="#6bc4b3"/><stop offset="31.78%" stop-color="#69c3ad"/><stop offset="34.19%" stop-color="#6ac4af"/><stop offset="39.33%" stop-color="#67c3aa"/><stop offset="46.8%" stop-color="#68c3ac"/><stop offset="48.84%" stop-color="#67c2a9"/><stop offset="51.03%" stop-color="#66c2a8"/><stop offset="58.5%" stop-color="#68c3ab"/><stop offset="62.27%" stop-color="#69c3ae"/><stop offset="63.78%" stop-color="#67c3aa"/><stop offset="64.69%" stop-color="#5bbd90"/><stop offset="65.29%" stop-color="#5cbd91"/><stop offset="65.59%" stop-color="#67c3aa"/><stop offset="65.67%" stop-color="#65c3ba"/><stop offset="65.75%" stop-color="#3fbad4"/><stop offset="65.82%" stop-color="#27a9df"/><stop offset="65.97%" stop-color="#2d76bf"/><stop offset="66.05%" stop-color="#2965b3"/><stop offset="66.5%" stop-color="#275aab"/><stop offset="66.8%" stop-color="#2963b2"/><stop offset="66.95%" stop-color="#2e86c9"/><stop offset="67.03%" stop-color="#28a2da"/><stop offset="67.1%" stop-color="#2fb6df"/><stop offset="67.26%" stop-color="#6ac5b6"/><stop offset="67.78%" stop-color="#68c3ab"/><stop offset="72.09%" stop-color="#67c3aa"/><stop offset="81.52%" stop-color="#69c4ae"/><stop offset="85.98%" stop-color="#69c3ad"/><stop offset="95.56%" stop-color="#68c3ab"/><stop offset="99.79%" stop-color="#66c2a7"/><stop offset="99.94%" stop-color="#65c2a6"/></linearGradient>
<linearGradient id="hd32"><stop offset="0%" stop-color="#68c3ac"/><stop offset="6.57%" stop-color="#68c3ab"/><stop offset="15.25%" stop-color="#67c3ab"/><stop offset="19.1%" stop-color="#68c3ab"/><stop offset="19.85%" stop-color="#6bc5b6"/><stop offset="20.15%" stop-color="#25b4e6"/><stop offset="20.46%" stop-color="#2e78c0"/><stop offset="20.76%" stop-color="#2551a5"/><stop offset="21.21%" stop-color="#2e4aa3"/><stop offset="21.66%" stop-color="#294ea4"/><stop offset="21.74%" stop-color="#2552a6"/><stop offset="21.81%" stop-color="#2e7ac2"/><stop offset="21.89%" stop-color="#60c2bd"/><stop offset="21.97%" stop-color="#58bb89"/><stop offset="22.04%" stop-color="#51b96e"/><stop offset="22.12%" stop-color="#5aba5f"/><stop offset="22.19%" stop-color="#70bf5d"/><stop offset="22.42%" stop-color="#ebe534"/><stop offset="22.49%" stop-color="#f7c82e"/><stop offset="22.8%" stop-color="#f8bf2d"/><stop offset="22.95%" stop-color="#f7cf2e"/><stop offset="23.02%" stop-color="#e2e238"/><stop offset="23.25%" stop-color="#75c05c"/><stop offset="23.4%" stop-color="#53b960"/><stop offset="23.55%" stop-color="#54ba79"/><stop offset="23.85%" stop-color="#69c4af"/><stop offset="23.93%" stop-color="#58c0c3"/><stop offset="24%" stop-color="#59c0c2"/><stop offset="24.15%" stop-color="#6cc5b4"/><stop offset="24.68%" stop-color="#5abc8d"/><stop offset="25.29%" stop-color="#6bc4b3"/><stop offset="25.44%" stop-color="#5bc1c0"/><stop offset="25.74%" stop-color="#2cb6e1"/><stop offset="25.82%" stop-color="#2ab5e3"/><stop offset="26.34%" stop-color="#6bc5b5"/><stop offset="26.72%" stop-color="#65c2a6"/><stop offset="27.4%" stop-color="#69c4b7"/><stop offset="27.7%" stop-color="#5fc2be"/><stop offset="28.23%" stop-color="#66c3b9"/><stop offset="29.44%" stop-color="#5fc2be"/><stop offset="30.34%" stop-color="#6bc4b3"/><stop offset="31.78%" stop-color="#69c3ad"/><stop offset="34.19%" stop-color="#6ac4af"/><stop offset="39.33%" stop-color="#67c3aa"/><stop offset="46.8%" stop-color="#68c3ac"/><stop offset="48.84%" stop-color="#67c2a9"/><stop offset="51.03%" stop-color="#66c2a8"/><stop offset="58.5%" stop-color="#68c3ab"/><stop offset="62.27%" stop-color="#69c3ae"/><stop offset="63.78%" stop-color="#67c3aa"/><stop offset="64.92%" stop-color="#5bbc8e"/><stop offset="65.29%" stop-color="#5cbd91"/><stop offset="65.59%" stop-color="#67c3aa"/><stop offset="65.67%" stop-color="#66c4b9"/><stop offset="65.75%" stop-color="#40bad3"/><stop offset="65.82%" stop-color="#27aae0"/><stop offset="65.97%" stop-color="#2d77bf"/><stop offset="66.05%" stop-color="#2a66b4"/><stop offset="66.5%" stop-color="#275bac"/><stop offset="66.8%" stop-color="#2964b2"/><stop offset="66.95%" stop-color="#2d87ca"/><stop offset="67.03%" stop-color="#28a3db"/><stop offset="67.1%" stop-color="#30b7df"/><stop offset="67.26%" stop-color="#6ac5b6"/><stop offset="67.78%" stop-color="#68c3ab"/><stop offset="72.09%" stop-color="#67c3aa"/><stop offset="81.52%" stop-color="#69c4ae"/><stop offset="85.98%" stop-color="#69c3ad"/><stop offset="95.56%" stop-color="#68c3ab"/><stop offset="99.79%" stop-color="#66c2a7"/><stop offset="99.94%" stop-color="#65c2a6"/></linearGradient>
<linearGradient id="hd33"><stop offset="0%" stop-color="#68c3ac"/><stop offset="6.57%" stop-color="#68c3ab"/><stop offset="15.25%" stop-color="#67c3ab"/><stop offset="19.1%" stop-color="#68c3ab"/><stop offset="19.85%" stop-color="#6cc5b5"/><stop offset="20.15%" stop-color="#27b5e4"/><stop offset="20.46%" stop-color="#2e7bc2"/><stop offset="20.76%" stop-color="#2552a6"/><stop offset="21.14%" stop-color="#2e4aa3"/><stop offset="21.66%" stop-color="#294ea4"/><stop offset="21.74%" stop-color="#2655a8"/><stop offset="21.81%" stop-color="#2e7cc3"/><stop offset="21.89%" stop-color="#61c2bc"/><stop offset="21.97%" stop-color="#59bb8a"/><stop offset="22.04%" stop-color="#51b96f"/><stop offset="22.12%" stop-color="#58ba5f"/><stop offset="22.19%" stop-color="#6dbe5d"/><stop offset="22.42%" stop-color="#e1e238"/><stop offset="22.49%" stop-color="#f6d52f"/><stop offset="22.8%" stop-color="#f7cd2e"/><stop offset="22.95%" stop-color="#f6dc2f"/><stop offset="23.02%" stop-color="#d8df3c"/><stop offset="23.25%" stop-color="#71bf5d"/><stop offset="23.4%" stop-color="#51b960"/><stop offset="23.78%" stop-color="#64c1a2"/><stop offset="23.85%" stop-color="#69c4af"/><stop offset="23.93%" stop-color="#59c0c2"/><stop offset="24%" stop-color="#5ac1c1"/><stop offset="24.15%" stop-color="#6cc5b4"/><stop offset="24.68%" stop-color="#5bbc8e"/><stop offset="25.29%" stop-color="#6bc4b2"/><stop offset="25.44%" stop-color="#5cc1c0"/><stop offset="25.74%" stop-color="#2fb6df"/><stop offset="25.82%" stop-color="#2cb6e1"/><stop offset="26.34%" stop-color="#6cc5b5"/><stop offset="26.8%" stop-color="#66c2a8"/><stop offset="27.4%" stop-color="#69c4b7"/><stop offset="27.7%" stop-color="#60c2be"/><stop offset="28.23%" stop-color="#67c4b9"/><stop offset="29.44%" stop-color="#60c2bd"/><stop offset="30.34%" stop-color="#6bc4b2"/><stop offset="31.78%" stop-color="#68c3ad"/><stop offset="34.19%" stop-color="#6ac4af"/><stop offset="39.33%" stop-color="#67c3aa"/><stop offset="46.8%" stop-color="#68c3ac"/><stop offset="48.84%" stop-color="#67c2a9"/><stop offset="51.03%" stop-color="#66c2a8"/><stop offset="58.5%" stop-color="#68c3ab"/><stop offset="62.27%" stop-color="#69c3ae"/><stop offset="63.78%" stop-color="#67c2aa"/><stop offset="64.61%" stop-color="#5cbd91"/><stop offset="65.07%" stop-color="#5abc8c"/><stop offset="65.37%" stop-color="#5ebe96"/><stop offset="65.59%" stop-color="#67c3aa"/><stop offset="65.67%" stop-color="#63c3bb"/><stop offset="65.75%" stop-color="#3ab9d7"/><stop offset="65.82%" stop-color="#28a2db"/><stop offset="65.9%" stop-color="#2e83c7"/><stop offset="66.05%" stop-color="#285eae"/><stop offset="66.5%" stop-color="#2552a6"/><stop offset="66.8%" stop-color="#275cad"/><stop offset="66.95%" stop-color="#2f7ec4"/><stop offset="67.1%" stop-color="#29b5e3"/><stop offset="67.26%" stop-color="#68c4b7"/><stop offset="67.71%" stop-color="#67c3aa"/><stop offset="72.09%" stop-color="#67c3aa"/><stop offset="81.52%" stop-color="#69c4ae"/><stop offset="85.98%" stop-color="#69c3ad"/><stop offset="95.56%" stop-color="#68c3ab"/><stop offset="99.79%" stop-color="#66c2a7"/><stop offset="99.94%" stop-color="#65c2a6"/></linearGradient>
<linearGradient id="hd34"><stop offset="0%" stop-color="#68c3ac"/><stop offset="6.57%" stop-color="#68c3ab"/><stop offset="15.25%" stop-color="#67c3ab"/><stop offset="19.1%" stop-color="#68c3ab"/><stop offset="19.85%" stop-color="#6cc5b4"/><stop offset="20%" stop-color="#4ebeca"/><stop offset="20.15%" stop-color="#2db6e1"/><stop offset="20.23%" stop-color="#26ace1"/><stop offset="20.53%" stop-color="#2d77bf"/><stop offset="20.83%" stop-color="#2551a5"/><stop offset="21.14%" stop-color="#2e4aa3"/><stop offset="21.59%" stop-color="#2c4ca4"/><stop offset="21.66%" stop-color="#284fa4"/><stop offset="21.74%" stop-color="#275bac"/><stop offset="21.81%" stop-color="#2e82c7"/><stop offset="21.89%" stop-color="#63c3bb"/><stop offset="21.97%" stop-color="#59bc8b"/><stop offset="22.12%" stop-color="#53b95f"/><stop offset="22.19%" stop-color="#68bd5e"/><stop offset="22.42%" stop-color="#cddb40"/><stop offset="22.49%" stop-color="#efe633"/><stop offset="22.87%" stop-color="#f3e731"/><stop offset="22.95%" stop-color="#e9e435"/><stop offset="23.17%" stop-color="#83c459"/><stop offset="23.32%" stop-color="#5cbb5f"/><stop offset="23.4%" stop-color="#4db860"/><stop offset="23.85%" stop-color="#69c4af"/><stop offset="23.93%" stop-color="#5cc1c0"/><stop offset="24.08%" stop-color="#66c4b9"/><stop offset="24.23%" stop-color="#6ac4b1"/><stop offset="24.68%" stop-color="#5bbd90"/><stop offset="25.36%" stop-color="#69c4b7"/><stop offset="25.74%" stop-color="#33b7dc"/><stop offset="25.82%" stop-color="#30b7de"/><stop offset="26.34%" stop-color="#6cc5b5"/><stop offset="26.8%" stop-color="#67c2a9"/><stop offset="27.4%" stop-color="#6bc5b6"/><stop offset="27.7%" stop-color="#62c3bc"/><stop offset="28.23%" stop-color="#69c4b7"/><stop offset="29.44%" stop-color="#62c3bc"/><stop offset="30.34%" stop-color="#6bc4b2"/><stop offset="31.78%" stop-color="#68c3ad"/><stop offset="34.19%" stop-color="#6ac4af"/><stop offset="39.33%" stop-color="#67c3aa"/><stop offset="46.8%" stop-color="#68c3ac"/><stop offset="48.84%" stop-color="#67c2a9"/><stop offset="51.03%" stop-color="#66c2a8"/><stop offset="58.5%" stop-color="#68c3ab"/><stop offset="62.27%" stop-color="#69c3ae"/><stop offset="63.78%" stop-color="#67c2aa"/><stop offset="64.69%" stop-color="#5bbd8f"/><stop offset="65.29%" stop-color="#5bbd90"/><stop offset="65.59%" stop-color="#67c3aa"/><stop offset="65.67%" stop-color="#64c3bb"/><stop offset="65.75%" stop-color="#3cbad6"/><stop offset="65.82%" stop-color="#28a5dc"/><stop offset="65.9%" stop-color="#2e87ca"/><stop offset="66.05%" stop-color="#2861b0"/><stop offset="66.5%" stop-color="#2656a8"/><stop offset="66.8%" stop-color="#285faf"/><stop offset="66.95%" stop-color="#2f81c6"/><stop offset="67.1%" stop-color="#2cb6e1"/><stop offset="67.26%" stop-color="#69c4b7"/><stop offset="67.78%" stop-color="#68c3ab"/><stop offset="72.09%" stop-color="#67c3aa"/><stop offset="81.52%" stop-color="#69c4ae"/><stop offset="85.98%" stop-color="#69c3ad"/><stop offset="95.56%" stop-color="#68c3ab"/><stop offset="99.79%" stop-color="#66c2a7"/><stop offset="99.94%" stop-color="#65c2a6"/></linearGradient>
<linearGradient id="hd35"><stop offset="0%" stop-color="#68c3ac"/><stop offset="6.57%" stop-color="#68c3ab"/><stop offset="15.25%" stop-color="#67c3ab"/><stop offset="19.1%" stop-color="#68c3ab"/><stop offset="19.85%" stop-color="#6cc5b4"/><stop offset="20.15%" stop-color="#2cb6e1"/><stop offset="20.3%" stop-color="#299cd7"/><stop offset="20.53%" stop-color="#2d76bf"/><stop offset="20.83%" stop-color="#2551a5"/><stop offset="21.14%" stop-color="#2e4aa3"/><stop offset="21.59%" stop-color="#2c4ba4"/><stop offset="21.74%" stop-color="#275aac"/><stop offset="21.81%" stop-color="#2f81c6"/><stop offset="21.89%" stop-color="#63c3bb"/><stop offset="21.97%" stop-color="#59bc8b"/><stop offset="22.04%" stop-color="#52b971"/><stop offset="22.12%" stop-color="#54b95f"/><stop offset="22.19%" stop-color="#69bd5e"/><stop offset="22.42%" stop-color="#d0dc3f"/><stop offset="22.49%" stop-color="#f2e731"/><stop offset="22.8%" stop-color="#f5e330"/><stop offset="22.95%" stop-color="#ede533"/><stop offset="23.1%" stop-color="#a3ce51"/><stop offset="23.25%" stop-color="#6cbe5d"/><stop offset="23.4%" stop-color="#4db860"/><stop offset="23.85%" stop-color="#69c4af"/><stop offset="23.93%" stop-color="#5bc1c1"/><stop offset="24.08%" stop-color="#65c3b9"/><stop offset="24.23%" stop-color="#6ac4b1"/><stop offset="24.68%" stop-color="#5bbd8f"/><stop offset="25.36%" stop-color="#69c4b7"/><stop offset="25.74%" stop-color="#32b7dd"/><stop offset="25.82%" stop-color="#30b7df"/><stop offset="26.34%" stop-color="#6cc5b5"/><stop offset="26.8%" stop-color="#66c2a9"/><stop offset="27.4%" stop-color="#6ac5b6"/><stop offset="27.7%" stop-color="#61c2bc"/><stop offset="28.23%" stop-color="#68c4b8"/><stop offset="29.44%" stop-color="#62c3bc"/><stop offset="30.34%" stop-color="#6bc4b2"/><stop offset="31.78%" stop-color="#68c3ad"/><stop offset="34.19%" stop-color="#6ac4af"/><stop offset="39.33%" stop-color="#67c3aa"/><stop offset="46.8%" stop-color="#68c3ac"/><stop offset="48.84%" stop-color="#67c2a9"/><stop offset="51.03%" stop-color="#66c2a8"/><stop offset="58.5%" stop-color="#68c3ab"/><stop offset="62.27%" stop-color="#69c3ae"/><stop offset="63.78%" stop-color="#67c2aa"/><stop offset="64.61%" stop-color="#5cbd91"/><stop offset="65.07%" stop-color="#5abc8d"/><stop offset="65.37%" stop-color="#5ebe96"/><stop offset="65.59%" stop-color="#67c3aa"/><stop offset="65.67%" stop-color="#64c3bb"/><stop offset="65.75%" stop-color="#3bb9d7"/><stop offset="65.82%" stop-color="#28a3dc"/><stop offset="65.9%" stop-color="#2e85c9"/><stop offset="66.05%" stop-color="#2860af"/><stop offset="66.5%" stop-color="#2654a7"/><stop offset="66.8%" stop-color="#285eae"/><stop offset="66.95%" stop-color="#2f80c5"/><stop offset="67.1%" stop-color="#2bb5e2"/><stop offset="67.26%" stop-color="#69c4b7"/><stop offset="67.78%" stop-color="#68c3ab"/><stop offset="72.09%" stop-color="#67c3aa"/><stop offset="81.52%" stop-color="#69c4ae"/><stop offset="85.98%" stop-color="#69c3ad"/><stop offset="95.56%" stop-color="#68c3ab"/><stop offset="99.79%" stop-color="#66c2a7"/><stop offset="99.94%" stop-color="#65c2a6"/></linearGradient>
<linearGradient id="hd36"><stop offset="0%" stop-color="#68c3ac"/><stop offset="6.57%" stop-color="#68c3ab"/><stop offset="15.25%" stop-color="#67c3ab"/><stop offset="19.1%" stop-color="#68c3ab"/><stop offset="19.85%" stop-color="#6cc5b4"/><stop offset="20%" stop-color="#4fbec9"/><stop offset="20.15%" stop-color="#2eb6e0"/><stop offset="20.23%" stop-color="#26aee2"/><stop offset="20.53%" stop-color="#2e78c0"/><stop offset="20.83%" stop-color="#2551a5"/><stop offset="21.14%" stop-color="#2e4aa3"/><stop offset="21.59%" stop-color="#2c4ca4"/><stop offset="21.66%" stop-color="#274fa5"/><stop offset="21.74%" stop-color="#285dad"/><stop offset="21.81%" stop-color="#2e84c8"/><stop offset="21.89%" stop-color="#64c3bb"/><stop offset="21.97%" stop-color="#5abc8c"/><stop offset="22.12%" stop-color="#52b960"/><stop offset="22.27%" stop-color="#83c459"/><stop offset="22.49%" stop-color="#e9e435"/><stop offset="22.8%" stop-color="#f0e632"/><stop offset="22.95%" stop-color="#e4e337"/><stop offset="23.17%" stop-color="#7fc35a"/><stop offset="23.32%" stop-color="#5bbb5f"/><stop offset="23.4%" stop-color="#4db861"/><stop offset="23.85%" stop-color="#69c4af"/><stop offset="23.93%" stop-color="#5cc1c0"/><stop offset="24.15%" stop-color="#6bc5b4"/><stop offset="24.68%" stop-color="#5cbd90"/><stop offset="25.36%" stop-color="#69c4b7"/><stop offset="25.74%" stop-color="#34b8dc"/><stop offset="25.82%" stop-color="#32b7dd"/><stop offset="26.34%" stop-color="#6cc5b5"/><stop offset="26.8%" stop-color="#67c2a9"/><stop offset="27.48%" stop-color="#67c4b8"/><stop offset="27.7%" stop-color="#62c3bc"/><stop offset="28.23%" stop-color="#69c4b7"/><stop offset="29.44%" stop-color="#62c3bc"/><stop offset="30.34%" stop-color="#6bc4b2"/><stop offset="31.78%" stop-color="#68c3ad"/><stop offset="34.19%" stop-color="#6ac4af"/><stop offset="39.33%" stop-color="#67c3aa"/><stop offset="46.8%" stop-color="#68c3ac"/><stop offset="48.84%" stop-color="#67c2a9"/><stop offset="51.03%" stop-color="#66c2a8"/><stop offset="58.5%" stop-color="#68c3ab"/><stop offset="62.27%" stop-color="#69c3ae"/><stop offset="63.78%" stop-color="#67c2aa"/><stop offset="64.61%" stop-color="#5cbd91"/><stop offset="65.07%" stop-color="#5abc8c"/><stop offset="65.37%" stop-color="#5ebe96"/><stop offset="65.59%" stop-color="#67c3aa"/><stop offset="65.67%" stop-color="#63c3bb"/><stop offset="65.75%" stop-color="#3ab9d8"/><stop offset="65.82%" stop-color="#29a1da"/><stop offset="65.9%" stop-color="#2e82c7"/><stop offset="66.05%" stop-color="#285dad"/><stop offset="66.5%" stop-color="#2552a5"/><stop offset="66.8%" stop-color="#275bac"/><stop offset="66.95%" stop-color="#2f7ec4"/><stop offset="67.1%" stop-color="#29b5e3"/><stop offset="67.26%" stop-color="#68c4b8"/><stop offset="67.71%" stop-color="#67c3aa"/><stop offset="72.09%" stop-color="#67c3aa"/><stop offset="81.52%" stop-color="#69c4ae"/><stop offset="85.98%" stop-color="#69c3ad"/><stop offset="95.56%" stop-color="#68c3ab"/><stop offset="99.79%" stop-color="#66c2a7"/><stop offset="99.94%" stop-color="#65c2a6"/></linearGradient>
</defs>
<rect width="1996" height="899" fill="#fff"/>
<g transform="translate(0,0)"><line x1="46" y1="313" x2="201.34" y2="209.75" stroke="#27479d" stroke-width="5.7"/><polygon points="213.2,201.8 197.59,219.86 196.34,213 190.5,209.2" fill="#27479d"/><ellipse cx="129" cy="260" rx="62" ry="145" fill="none" stroke="#231f20" stroke-width="3" stroke-dasharray="6 4.6" stroke-dashoffset="3"/><line x1="134.4" y1="120" x2="134.4" y2="401" stroke="#231f20" stroke-width="3" stroke-dasharray="4.6 3.9"/><path d="M134.5,221.3 C126,219.3 115.5,224.5 114.8,236.5" fill="none" stroke="#231f20" stroke-width="2.7"/><line x1="77" y1="191.3" x2="177.5" y2="318.2" stroke="#231f20" stroke-width="3"/><polygon points="72.2,185.2 84.03,192.42 79.06,193.86 76.5,198.37" fill="#231f20"/><polygon points="182.2,324.2 170.37,316.98 175.34,315.54 177.9,311.03" fill="#231f20"/><polygon points="258.4,166.4 324.1,109.2 375.2,112.1 309.8,170" fill="#9a9ea0" stroke="#9a9ea0" stroke-width="0.7" stroke-linejoin="round"/><polygon points="309.8,170 375.2,112.1 376.5,312 313.3,368.2" fill="#a7aaab" stroke="#a7aaab" stroke-width="0.7" stroke-linejoin="round"/><polygon points="258.4,166.4 309.8,170 313.3,368.2 262.5,365.7" fill="#aaacae" stroke="#aaacae" stroke-width="0.7" stroke-linejoin="round"/><polygon points="340.2,171.4 405.2,113.8 418,115 352.7,172.3" fill="#a8a42d" stroke="#a8a42d" stroke-width="0.7" stroke-linejoin="round"/><polygon points="352.7,172.3 418,115 419.5,318.5 356.4,370.9" fill="#aeab2f" stroke="#aeab2f" stroke-width="0.7" stroke-linejoin="round"/><polygon points="340.2,171.4 352.7,172.3 356.4,370.9 343.9,370.2" fill="#b2af34" stroke="#b2af34" stroke-width="0.7" stroke-linejoin="round"/><polygon points="372.5,173.1 438.3,115.8 451.3,117.1 385,174.2" fill="#54823a" stroke="#54823a" stroke-width="0.7" stroke-linejoin="round"/><polygon points="385,174.2 451.3,117.1 452.6,320.5 388.9,372.9" fill="#5c8b3d" stroke="#5c8b3d" stroke-width="0.7" stroke-linejoin="round"/><polygon points="372.5,173.1 385,174.2 388.9,372.9 376.4,372.2" fill="#5e8d3f" stroke="#5e8d3f" stroke-width="0.7" stroke-linejoin="round"/><polygon points="405.5,174.4 472.1,117.1 484.6,118.1 418,175.4" fill="#a8a42d" stroke="#a8a42d" stroke-width="0.7" stroke-linejoin="round"/><polygon points="418,175.4 484.6,118.1 486,320 422.2,374.2" fill="#aeab2f" stroke="#aeab2f" stroke-width="0.7" stroke-linejoin="round"/><polygon points="405.5,174.4 418,175.4 422.2,374.2 409.4,373.4" fill="#b2af34" stroke="#b2af34" stroke-width="0.7" stroke-linejoin="round"/><polygon points="440,178.4 506.4,120.6 518.9,121.6 452.6,179.4" fill="#54823a" stroke="#54823a" stroke-width="0.7" stroke-linejoin="round"/><polygon points="452.6,179.4 518.9,121.6 520.5,322.5 456.7,377.5" fill="#5c8b3d" stroke="#5c8b3d" stroke-width="0.7" stroke-linejoin="round"/><polygon points="440,178.4 452.6,179.4 456.7,377.5 444.2,376.7" fill="#5e8d3f" stroke="#5e8d3f" stroke-width="0.7" stroke-linejoin="round"/><polygon points="485.8,182.6 551.4,124.6 602.2,127.6 536.4,185.4" fill="#a5631f" stroke="#a5631f" stroke-width="0.7" stroke-linejoin="round"/><polygon points="536.4,185.4 602.2,127.6 606.9,325.6 540.6,383.7" fill="#b26b21" stroke="#b26b21" stroke-width="0.7" stroke-linejoin="round"/><polygon points="485.8,182.6 536.4,185.4 540.6,383.7 489.6,380.7" fill="#b56d22" stroke="#b56d22" stroke-width="0.7" stroke-linejoin="round"/><ellipse cx="446" cy="278" rx="60" ry="78" fill="url(#gblue)" clip-path="url(#clipL)"/><ellipse cx="513" cy="277" rx="82" ry="84" fill="url(#gred)" clip-path="url(#clipL)" opacity="0.6"/><ellipse cx="513" cy="277" rx="82" ry="84" fill="url(#gred)" clip-path="url(#clipN)"/><path d="M181.7,102.3 L233,127 C236,128.5 238.5,133 241.2,134.1 C242.27,134.64 248.23,132.36 249.3,132.9 C250.37,133.44 251.83,142.66 252.9,143.2 C254.11,143.8 264.29,134.4 265.5,135 C267.25,135.88 261.95,155.82 263.7,156.7 C266.03,157.87 280.27,133.53 282.6,134.7 C285.86,136.33 268.54,172.17 271.8,173.8 C275.55,175.68 299.25,126.32 303,128.2 C306.75,130.08 274.35,194.42 278.1,196.3 C281.85,198.18 320.25,116.92 324,118.8 C327.75,120.68 279.75,216.92 283.5,218.8 C287.25,220.68 340.85,110.72 344.6,112.6 C348.35,114.48 289.65,233.12 293.4,235 C297.15,236.88 355.95,112.62 359.7,114.5 C363.45,116.38 301.35,240.32 305.1,242.2 C308.85,244.08 368.05,124.32 371.8,126.2 C375.55,128.08 321.25,237.62 325,239.5 C328.75,241.38 375.25,145.12 379,147 C382.75,148.88 342.25,228.42 346,230.3 C349.75,232.18 381.25,167.62 385,169.5 C388.75,171.38 364.25,220.72 368,222.6 C371.33,224.27 388.87,187.33 392.2,189 C394.65,190.22 384.85,217.78 387.3,219 C388.99,219.84 400.31,203.16 402,204 C403.25,204.62 401.75,218.88 403,219.5 C404.07,220.04 411.83,214.36 412.9,214.9 C413.97,215.44 417.23,223.36 418.3,223.9 C421,225.2 424,224.5 428,228.5 L478,251.8" fill="none" stroke="#ea1c30" stroke-width="3.2" stroke-linejoin="round" stroke-linecap="round"/><polygon points="500.3,262.3 474.11,254.56 475.85,250.85 477.59,247.14" fill="#ea1c30"/></g>
<g transform="translate(0,400.4)"><line x1="57.66" y1="305.25" x2="214" y2="201.4" stroke="#27479d" stroke-width="5.7"/><polygon points="46,313.5 61.61,295.44 62.86,302.3 68.7,306.1" fill="#27479d"/><ellipse cx="129" cy="260" rx="62" ry="145" fill="none" stroke="#231f20" stroke-width="3" stroke-dasharray="6 4.6" stroke-dashoffset="3"/><line x1="134.4" y1="120" x2="134.4" y2="401" stroke="#231f20" stroke-width="3" stroke-dasharray="4.6 3.9"/><path d="M134.5,221.3 C126,219.3 115.5,224.5 114.8,236.5" fill="none" stroke="#231f20" stroke-width="2.7"/><line x1="77" y1="191.3" x2="177.5" y2="318.2" stroke="#231f20" stroke-width="3"/><polygon points="72.2,185.2 84.03,192.42 79.06,193.86 76.5,198.37" fill="#231f20"/><polygon points="182.2,324.2 170.37,316.98 175.34,315.54 177.9,311.03" fill="#231f20"/><polygon points="258.4,166.4 324.1,109.2 375.2,112.1 309.8,170" fill="#9a9ea0" stroke="#9a9ea0" stroke-width="0.7" stroke-linejoin="round"/><polygon points="309.8,170 375.2,112.1 376.5,312 313.3,368.2" fill="#a7aaab" stroke="#a7aaab" stroke-width="0.7" stroke-linejoin="round"/><polygon points="258.4,166.4 309.8,170 313.3,368.2 262.5,365.7" fill="#aaacae" stroke="#aaacae" stroke-width="0.7" stroke-linejoin="round"/><polygon points="340.2,171.4 405.2,113.8 418,115 352.7,172.3" fill="#a8a42d" stroke="#a8a42d" stroke-width="0.7" stroke-linejoin="round"/><polygon points="352.7,172.3 418,115 419.5,318.5 356.4,370.9" fill="#aeab2f" stroke="#aeab2f" stroke-width="0.7" stroke-linejoin="round"/><polygon points="340.2,171.4 352.7,172.3 356.4,370.9 343.9,370.2" fill="#b2af34" stroke="#b2af34" stroke-width="0.7" stroke-linejoin="round"/><polygon points="372.5,173.1 438.3,115.8 451.3,117.1 385,174.2" fill="#54823a" stroke="#54823a" stroke-width="0.7" stroke-linejoin="round"/><polygon points="385,174.2 451.3,117.1 452.6,320.5 388.9,372.9" fill="#5c8b3d" stroke="#5c8b3d" stroke-width="0.7" stroke-linejoin="round"/><polygon points="372.5,173.1 385,174.2 388.9,372.9 376.4,372.2" fill="#5e8d3f" stroke="#5e8d3f" stroke-width="0.7" stroke-linejoin="round"/><polygon points="405.5,174.4 472.1,117.1 484.6,118.1 418,175.4" fill="#a8a42d" stroke="#a8a42d" stroke-width="0.7" stroke-linejoin="round"/><polygon points="418,175.4 484.6,118.1 486,320 422.2,374.2" fill="#aeab2f" stroke="#aeab2f" stroke-width="0.7" stroke-linejoin="round"/><polygon points="405.5,174.4 418,175.4 422.2,374.2 409.4,373.4" fill="#b2af34" stroke="#b2af34" stroke-width="0.7" stroke-linejoin="round"/><polygon points="440,178.4 506.4,120.6 518.9,121.6 452.6,179.4" fill="#54823a" stroke="#54823a" stroke-width="0.7" stroke-linejoin="round"/><polygon points="452.6,179.4 518.9,121.6 520.5,322.5 456.7,377.5" fill="#5c8b3d" stroke="#5c8b3d" stroke-width="0.7" stroke-linejoin="round"/><polygon points="440,178.4 452.6,179.4 456.7,377.5 444.2,376.7" fill="#5e8d3f" stroke="#5e8d3f" stroke-width="0.7" stroke-linejoin="round"/><polygon points="485.8,182.6 551.4,124.6 602.2,127.6 536.4,185.4" fill="#a5631f" stroke="#a5631f" stroke-width="0.7" stroke-linejoin="round"/><polygon points="536.4,185.4 602.2,127.6 606.9,325.6 540.6,383.7" fill="#b26b21" stroke="#b26b21" stroke-width="0.7" stroke-linejoin="round"/><polygon points="485.8,182.6 536.4,185.4 540.6,383.7 489.6,380.7" fill="#b56d22" stroke="#b56d22" stroke-width="0.7" stroke-linejoin="round"/><ellipse cx="446" cy="278" rx="60" ry="78" fill="url(#gblue)" clip-path="url(#clipL)"/><ellipse cx="513" cy="277" rx="82" ry="84" fill="url(#gred)" clip-path="url(#clipL)" opacity="0.6"/><ellipse cx="513" cy="277" rx="82" ry="84" fill="url(#gred)" clip-path="url(#clipN)"/><path d="M181.7,102.3 L233,127 C236,128.5 238.5,133 241.2,134.1 C242.27,134.64 248.23,132.36 249.3,132.9 C250.37,133.44 251.83,142.66 252.9,143.2 C254.11,143.8 264.29,134.4 265.5,135 C267.25,135.88 261.95,155.82 263.7,156.7 C266.03,157.87 280.27,133.53 282.6,134.7 C285.86,136.33 268.54,172.17 271.8,173.8 C275.55,175.68 299.25,126.32 303,128.2 C306.75,130.08 274.35,194.42 278.1,196.3 C281.85,198.18 320.25,116.92 324,118.8 C327.75,120.68 279.75,216.92 283.5,218.8 C287.25,220.68 340.85,110.72 344.6,112.6 C348.35,114.48 289.65,233.12 293.4,235 C297.15,236.88 355.95,112.62 359.7,114.5 C363.45,116.38 301.35,240.32 305.1,242.2 C308.85,244.08 368.05,124.32 371.8,126.2 C375.55,128.08 321.25,237.62 325,239.5 C328.75,241.38 375.25,145.12 379,147 C382.75,148.88 342.25,228.42 346,230.3 C349.75,232.18 381.25,167.62 385,169.5 C388.75,171.38 364.25,220.72 368,222.6 C371.33,224.27 388.87,187.33 392.2,189 C394.65,190.22 384.85,217.78 387.3,219 C388.99,219.84 400.31,203.16 402,204 C403.25,204.62 401.75,218.88 403,219.5 C404.07,220.04 411.83,214.36 412.9,214.9 C413.97,215.44 417.23,223.36 418.3,223.9 C421,225.2 424,224.5 428,228.5 L478,251.8" fill="none" stroke="#ea1c30" stroke-width="3.2" stroke-linejoin="round" stroke-linecap="round"/><polygon points="500.3,262.3 474.11,254.56 475.85,250.85 477.59,247.14" fill="#ea1c30"/></g>
<text transform="matrix(0.3027,0,0,0.3229,256.04,86.6)" font-size="100" fill="#0a0a0a" stroke="#0a0a0a" stroke-width="1.16">Sapphire</text>
<text transform="matrix(0.3050,0,0,0.3200,412.28,100.8)" font-size="100" fill="#0a0a0a" stroke="#0a0a0a" stroke-width="1.15">2D-HMH</text>
<text transform="matrix(0.3053,0,0,0.2953,561.98,112.1)" font-size="100" fill="#0a0a0a" stroke="#0a0a0a" stroke-width="1.15">NiFe</text>
<text transform="matrix(0.3914,0,0,0.4143,100.23,214.3)" font-size="100" fill="#231f20" font-weight="bold">Θ</text>
<text transform="matrix(0.3027,0,0,0.3229,256.04,486.6)" font-size="100" fill="#0a0a0a" stroke="#0a0a0a" stroke-width="1.16">Sapphire</text>
<text transform="matrix(0.3050,0,0,0.3200,412.28,500.8)" font-size="100" fill="#0a0a0a" stroke="#0a0a0a" stroke-width="1.15">2D-HMH</text>
<text transform="matrix(0.3053,0,0,0.2953,561.98,512.1)" font-size="100" fill="#0a0a0a" stroke="#0a0a0a" stroke-width="1.15">NiFe</text>
<text transform="matrix(0.3914,0,0,0.4143,100.23,614.3)" font-size="100" fill="#231f20" font-weight="bold">Θ</text>
<text transform="matrix(0.3788,0,0,0.4015,1.14,148.6)" font-size="100" fill="#27479d" font-weight="bold">P</text>
<text transform="matrix(0.2273,0,0,0.2241,26.71,161.5)" font-size="100" fill="#27479d" font-weight="bold">laser</text>
<text transform="matrix(0.3788,0,0,0.4015,1.14,538.6)" font-size="100" fill="#27479d" font-weight="bold">P</text>
<text transform="matrix(0.2273,0,0,0.2241,26.71,551.5)" font-size="100" fill="#27479d" font-weight="bold">laser</text>
<text transform="matrix(0.3885,0,0,0.4036,190.45,192.5)" font-size="100" fill="#27479d" font-weight="bold">+B</text>
<text transform="matrix(0.3835,0,0,0.4058,18.47,751.3)" font-size="100" fill="#27479d" font-weight="bold">-B</text>
<rect x="817" y="379.46" width="662.4" height="10.14" fill="url(#hc0)"/>
<rect x="817" y="370.52" width="662.4" height="10.14" fill="url(#hc1)"/>
<rect x="817" y="361.58" width="662.4" height="10.14" fill="url(#hc2)"/>
<rect x="817" y="352.64" width="662.4" height="10.14" fill="url(#hc3)"/>
<rect x="817" y="343.7" width="662.4" height="10.14" fill="url(#hc4)"/>
<rect x="817" y="334.76" width="662.4" height="10.14" fill="url(#hc5)"/>
<rect x="817" y="325.82" width="662.4" height="10.14" fill="url(#hc6)"/>
<rect x="817" y="316.88" width="662.4" height="10.14" fill="url(#hc7)"/>
<rect x="817" y="307.94" width="662.4" height="10.14" fill="url(#hc8)"/>
<rect x="817" y="299" width="662.4" height="10.14" fill="url(#hc9)"/>
<rect x="817" y="290.06" width="662.4" height="10.14" fill="url(#hc10)"/>
<rect x="817" y="281.12" width="662.4" height="10.14" fill="url(#hc11)"/>
<rect x="817" y="272.18" width="662.4" height="10.14" fill="url(#hc12)"/>
<rect x="817" y="263.24" width="662.4" height="10.14" fill="url(#hc13)"/>
<rect x="817" y="254.3" width="662.4" height="10.14" fill="url(#hc14)"/>
<rect x="817" y="245.36" width="662.4" height="10.14" fill="url(#hc15)"/>
<rect x="817" y="236.42" width="662.4" height="10.14" fill="url(#hc16)"/>
<rect x="817" y="227.48" width="662.4" height="10.14" fill="url(#hc17)"/>
<rect x="817" y="218.54" width="662.4" height="10.14" fill="url(#hc18)"/>
<rect x="817" y="209.6" width="662.4" height="10.14" fill="url(#hc19)"/>
<rect x="817" y="200.66" width="662.4" height="10.14" fill="url(#hc20)"/>
<rect x="817" y="191.72" width="662.4" height="10.14" fill="url(#hc21)"/>
<rect x="817" y="182.78" width="662.4" height="10.14" fill="url(#hc22)"/>
<rect x="817" y="173.84" width="662.4" height="10.14" fill="url(#hc23)"/>
<rect x="817" y="164.9" width="662.4" height="10.14" fill="url(#hc24)"/>
<rect x="817" y="155.96" width="662.4" height="10.14" fill="url(#hc25)"/>
<rect x="817" y="147.02" width="662.4" height="10.14" fill="url(#hc26)"/>
<rect x="817" y="138.08" width="662.4" height="10.14" fill="url(#hc27)"/>
<rect x="817" y="129.14" width="662.4" height="10.14" fill="url(#hc28)"/>
<rect x="817" y="120.2" width="662.4" height="10.14" fill="url(#hc29)"/>
<rect x="817" y="111.26" width="662.4" height="10.14" fill="url(#hc30)"/>
<rect x="817" y="102.32" width="662.4" height="10.14" fill="url(#hc31)"/>
<rect x="817" y="93.38" width="662.4" height="10.14" fill="url(#hc32)"/>
<rect x="817" y="84.44" width="662.4" height="10.14" fill="url(#hc33)"/>
<rect x="817" y="75.5" width="662.4" height="10.14" fill="url(#hc34)"/>
<rect x="817" y="66.56" width="662.4" height="10.14" fill="url(#hc35)"/>
<rect x="817" y="58.82" width="662.4" height="8.94" fill="url(#hc36)"/>
<rect x="817" y="58" width="662.4" height="332.4" filter="url(#nz)"/>
<rect x="1291.8" y="277.4" width="180.9" height="101.8" fill="#fff"/>
<rect x="1293.8" y="280.6" width="175.4" height="96.4" fill="#fff" stroke="#231f20" stroke-width="1.7"/>
<path d="M816,56.1v13.6M816,391.9v-13.6M959.75,56.1v13.6M959.75,391.9v-13.6M1103.5,56.1v13.6M1103.5,391.9v-13.6M1247.25,56.1v13.6M1247.25,391.9v-13.6M1391,56.1v13.6M1391,391.9v-13.6M813.4,389.6h13.6M1479.8,389.6h-13.6M813.4,300.2h13.6M1479.8,300.2h-13.6M813.4,210.8h13.6M1479.8,210.8h-13.6M813.4,121.4h13.6M1479.8,121.4h-13.6" stroke="#231f20" stroke-width="1.7" fill="none"/>
<rect x="813.4" y="56.1" width="666.4" height="335.8" fill="none" stroke="#231f20" stroke-width="1.7"/>
<rect x="1327.2" y="288.4" width="110.4" height="13.3" fill="url(#cb)"/>
<rect x="1324.8" y="289.8" width="113" height="12.3" fill="none" stroke="#231f20" stroke-width="1.5"/>
<path d="M1332.9,302.1v4.6M1354.4,302.1v3.8M1375.9,302.1v4.6M1397.7,302.1v3.8M1419.6,302.1v4.6" stroke="#231f20" stroke-width="1.5" fill="none"/>
<text x="1333.4" y="329.1" font-size="21.5" stroke="#231f20" stroke-width="0.3" text-anchor="middle" fill="#231f20">-15</text>
<text x="1376.3" y="329.1" font-size="21.5" stroke="#231f20" stroke-width="0.3" text-anchor="middle" fill="#231f20">-5</text>
<text x="1420.5" y="329.1" font-size="21.5" stroke="#231f20" stroke-width="0.3" text-anchor="middle" fill="#231f20">5</text>
<text x="1315.5" y="360" font-size="21.9" fill="#231f20" stroke="#231f20" stroke-width="0.25"><tspan font-style="italic">E</tspan><tspan font-size="15" dy="4.5">x</tspan><tspan dy="-4.5"> (×10</tspan><tspan font-size="13" dy="-8">-6</tspan><tspan dy="8">)</tspan></text>
<text x="816.3" y="427.3" font-size="29.7" stroke="#231f20" stroke-width="0.3" text-anchor="middle" fill="#231f20">0</text>
<text x="960.05" y="427.3" font-size="29.7" stroke="#231f20" stroke-width="0.3" text-anchor="middle" fill="#231f20">5</text>
<text x="1104.3" y="427.3" font-size="29.7" stroke="#231f20" stroke-width="0.3" text-anchor="middle" fill="#231f20">10</text>
<text x="1247.85" y="427.3" font-size="29.7" stroke="#231f20" stroke-width="0.3" text-anchor="middle" fill="#231f20">15</text>
<text x="1390.6" y="427.3" font-size="29.7" stroke="#231f20" stroke-width="0.3" text-anchor="middle" fill="#231f20">20</text>
<text x="806.2" y="399.5" font-size="29.3" stroke="#231f20" stroke-width="0.3" text-anchor="end" fill="#231f20">0</text>
<text x="806.2" y="310.1" font-size="29.3" stroke="#231f20" stroke-width="0.3" text-anchor="end" fill="#231f20">50</text>
<text x="806.2" y="220.7" font-size="29.3" stroke="#231f20" stroke-width="0.3" text-anchor="end" fill="#231f20">100</text>
<text x="806.2" y="131.3" font-size="29.3" stroke="#231f20" stroke-width="0.3" text-anchor="end" fill="#231f20">150</text>
<text transform="matrix(0.2907,0,0,0.2931,841.5,101.05)" font-size="100" fill="#231f20" stroke="#231f20" stroke-width="1.03">Peak 1</text>
<text transform="matrix(0.2950,0,0,0.2967,1141.67,97.9)" font-size="100" fill="#231f20" stroke="#231f20" stroke-width="1.02">Peak 2</text>
<text transform="translate(1407.6,104.8) scale(0.95,1)" font-size="30.2" fill="#27479d">+<tspan font-weight="bold">B</tspan></text>
<text transform="translate(744.3,436.9) rotate(-90)" font-size="31.9" stroke="#231f20" stroke-width="0.3" fill="#231f20">Polarization angle (degree)</text>
<rect x="817" y="805.56" width="662.4" height="10.14" fill="url(#hd0)"/>
<rect x="817" y="796.62" width="662.4" height="10.14" fill="url(#hd1)"/>
<rect x="817" y="787.68" width="662.4" height="10.14" fill="url(#hd2)"/>
<rect x="817" y="778.74" width="662.4" height="10.14" fill="url(#hd3)"/>
<rect x="817" y="769.8" width="662.4" height="10.14" fill="url(#hd4)"/>
<rect x="817" y="760.86" width="662.4" height="10.14" fill="url(#hd5)"/>
<rect x="817" y="751.92" width="662.4" height="10.14" fill="url(#hd6)"/>
<rect x="817" y="742.98" width="662.4" height="10.14" fill="url(#hd7)"/>
<rect x="817" y="734.04" width="662.4" height="10.14" fill="url(#hd8)"/>
<rect x="817" y="725.1" width="662.4" height="10.14" fill="url(#hd9)"/>
<rect x="817" y="716.16" width="662.4" height="10.14" fill="url(#hd10)"/>
<rect x="817" y="707.22" width="662.4" height="10.14" fill="url(#hd11)"/>
<rect x="817" y="698.28" width="662.4" height="10.14" fill="url(#hd12)"/>
<rect x="817" y="689.34" width="662.4" height="10.14" fill="url(#hd13)"/>
<rect x="817" y="680.4" width="662.4" height="10.14" fill="url(#hd14)"/>
<rect x="817" y="671.46" width="662.4" height="10.14" fill="url(#hd15)"/>
<rect x="817" y="662.52" width="662.4" height="10.14" fill="url(#hd16)"/>
<rect x="817" y="653.58" width="662.4" height="10.14" fill="url(#hd17)"/>
<rect x="817" y="644.64" width="662.4" height="10.14" fill="url(#hd18)"/>
<rect x="817" y="635.7" width="662.4" height="10.14" fill="url(#hd19)"/>
<rect x="817" y="626.76" width="662.4" height="10.14" fill="url(#hd20)"/>
<rect x="817" y="617.82" width="662.4" height="10.14" fill="url(#hd21)"/>
<rect x="817" y="608.88" width="662.4" height="10.14" fill="url(#hd22)"/>
<rect x="817" y="599.94" width="662.4" height="10.14" fill="url(#hd23)"/>
<rect x="817" y="591" width="662.4" height="10.14" fill="url(#hd24)"/>
<rect x="817" y="582.06" width="662.4" height="10.14" fill="url(#hd25)"/>
<rect x="817" y="573.12" width="662.4" height="10.14" fill="url(#hd26)"/>
<rect x="817" y="564.18" width="662.4" height="10.14" fill="url(#hd27)"/>
<rect x="817" y="555.24" width="662.4" height="10.14" fill="url(#hd28)"/>
<rect x="817" y="546.3" width="662.4" height="10.14" fill="url(#hd29)"/>
<rect x="817" y="537.36" width="662.4" height="10.14" fill="url(#hd30)"/>
<rect x="817" y="528.42" width="662.4" height="10.14" fill="url(#hd31)"/>
<rect x="817" y="519.48" width="662.4" height="10.14" fill="url(#hd32)"/>
<rect x="817" y="510.54" width="662.4" height="10.14" fill="url(#hd33)"/>
<rect x="817" y="501.6" width="662.4" height="10.14" fill="url(#hd34)"/>
<rect x="817" y="492.66" width="662.4" height="10.14" fill="url(#hd35)"/>
<rect x="817" y="484.92" width="662.4" height="8.94" fill="url(#hd36)"/>
<rect x="817" y="484.1" width="662.4" height="333.1" filter="url(#nz)"/>
<rect x="1285" y="698.5" width="182.2" height="102.4" fill="#fff"/>
<rect x="1287" y="701.7" width="176.7" height="97" fill="#fff" stroke="#231f20" stroke-width="1.7"/>
<path d="M816,482.2v13.6M816,818.7v-13.6M959.75,482.2v13.6M959.75,818.7v-13.6M1103.5,482.2v13.6M1103.5,818.7v-13.6M1247.25,482.2v13.6M1247.25,818.7v-13.6M1391,482.2v13.6M1391,818.7v-13.6M813.4,815.7h13.6M1479.8,815.7h-13.6M813.4,726.3h13.6M1479.8,726.3h-13.6M813.4,636.9h13.6M1479.8,636.9h-13.6M813.4,547.5h13.6M1479.8,547.5h-13.6" stroke="#231f20" stroke-width="1.7" fill="none"/>
<rect x="813.4" y="482.2" width="666.4" height="336.5" fill="none" stroke="#231f20" stroke-width="1.7"/>
<rect x="1321" y="709.3" width="110.6" height="14.3" fill="url(#cb)"/>
<rect x="1318.6" y="710.7" width="113.2" height="13.3" fill="none" stroke="#231f20" stroke-width="1.5"/>
<path d="M1335.3,724v3.8M1358.6,724v4.6M1382.3,724v3.8M1405.8,724v4.6M1429.5,724v3.8" stroke="#231f20" stroke-width="1.5" fill="none"/>
<text x="1358.6" y="751" font-size="21.5" stroke="#231f20" stroke-width="0.3" text-anchor="middle" fill="#231f20">0</text>
<text x="1405.8" y="751" font-size="21.5" stroke="#231f20" stroke-width="0.3" text-anchor="middle" fill="#231f20">10</text>
<text x="1309.6" y="781.9" font-size="21.9" fill="#231f20" stroke="#231f20" stroke-width="0.25"><tspan font-style="italic">E</tspan><tspan font-size="15" dy="4.5">x</tspan><tspan dy="-4.5"> (×10</tspan><tspan font-size="13" dy="-8">-6</tspan><tspan dy="8">)</tspan></text>
<text x="816.3" y="854.1" font-size="29.7" stroke="#231f20" stroke-width="0.3" text-anchor="middle" fill="#231f20">0</text>
<text x="960.05" y="854.1" font-size="29.7" stroke="#231f20" stroke-width="0.3" text-anchor="middle" fill="#231f20">5</text>
<text x="1104.3" y="854.1" font-size="29.7" stroke="#231f20" stroke-width="0.3" text-anchor="middle" fill="#231f20">10</text>
<text x="1247.85" y="854.1" font-size="29.7" stroke="#231f20" stroke-width="0.3" text-anchor="middle" fill="#231f20">15</text>
<text x="1390.6" y="854.1" font-size="29.7" stroke="#231f20" stroke-width="0.3" text-anchor="middle" fill="#231f20">20</text>
<text x="806.2" y="825.6" font-size="29.3" stroke="#231f20" stroke-width="0.3" text-anchor="end" fill="#231f20">0</text>
<text x="806.2" y="736.2" font-size="29.3" stroke="#231f20" stroke-width="0.3" text-anchor="end" fill="#231f20">50</text>
<text x="806.2" y="646.8" font-size="29.3" stroke="#231f20" stroke-width="0.3" text-anchor="end" fill="#231f20">100</text>
<text x="806.2" y="557.4" font-size="29.3" stroke="#231f20" stroke-width="0.3" text-anchor="end" fill="#231f20">150</text>
<text transform="matrix(0.2900,0,0,0.2953,838.41,527.9)" font-size="100" fill="#231f20" stroke="#231f20" stroke-width="1.03">Peak 1</text>
<text transform="matrix(0.2960,0,0,0.2938,1144.46,522.6)" font-size="100" fill="#231f20" stroke="#231f20" stroke-width="1.01">Peak 2</text>
<text transform="translate(1406,528.1) scale(0.95,1)" font-size="30.2" fill="#ee262b">-<tspan font-weight="bold">B</tspan></text>
<text transform="translate(740.5,870.1) rotate(-90)" font-size="31.9" stroke="#231f20" stroke-width="0.3" fill="#231f20">Polarization angle (degree)</text>
<text x="1087.2" y="460.2" font-size="32.2" stroke="#231f20" stroke-width="0.3" fill="#231f20">Time (ps)</text>
<text x="1032.2" y="891.2" font-size="32.2" stroke="#231f20" stroke-width="0.3" fill="#231f20">Time (ps)</text>
<rect x="1640.1" y="57" width="333.4" height="331.4" fill="#fff" stroke="#231f20" stroke-width="1.7"/>
<path d="M1657.6,57v14M1657.6,388.4v-14M1740.2,57v14M1740.2,388.4v-14M1822.8,57v14M1822.8,388.4v-14M1905.4,57v14M1905.4,388.4v-14M1640.1,117.3h14M1973.5,117.3h-14M1640.1,203.1h14M1973.5,203.1h-14M1640.1,288.9h14M1973.5,288.9h-14M1640.1,374.7h14M1973.5,374.7h-14M1640.1,74.4h7.5M1973.5,74.4h-7.5M1640.1,160.2h7.5M1973.5,160.2h-7.5M1640.1,246h7.5M1973.5,246h-7.5M1640.1,331.8h7.5M1973.5,331.8h-7.5" stroke="#231f20" stroke-width="1.7" fill="none"/>
<polyline points="1657.6,339.4 1665.86,366 1674.12,305.7 1682.38,285 1690.64,250.4 1698.9,238.3 1707.16,223.1 1715.42,205.6 1723.68,189.9 1731.94,195.7 1740.2,185.4 1748.46,177.3 1756.72,189.4 1764.98,187.6 1773.24,183.4 1781.5,167.7 1789.76,164.7 1798.02,155.7 1806.28,140.8 1814.54,155.4 1822.8,134.7 1831.06,131.1 1839.32,148.2 1847.58,152.7 1855.84,138.3 1864.1,145.5 1872.36,141.9 1880.62,170.7 1888.88,195.5 1897.14,212.4 1905.4,246.7 1913.66,269.2 1921.92,278.2 1930.18,296.2 1938.44,331.4 1946.7,325.6 1954.96,340.4" fill="none" stroke="#eb2027" stroke-width="2.2"/>
<g fill="#fff" stroke="#eb2027" stroke-width="3.2"><circle cx="1657.6" cy="339.4" r="9.2"/><circle cx="1665.86" cy="366" r="9.2"/><circle cx="1674.12" cy="305.7" r="9.2"/><circle cx="1682.38" cy="285" r="9.2"/><circle cx="1690.64" cy="250.4" r="9.2"/><circle cx="1698.9" cy="238.3" r="9.2"/><circle cx="1707.16" cy="223.1" r="9.2"/><circle cx="1715.42" cy="205.6" r="9.2"/><circle cx="1723.68" cy="189.9" r="9.2"/><circle cx="1731.94" cy="195.7" r="9.2"/><circle cx="1740.2" cy="185.4" r="9.2"/><circle cx="1748.46" cy="177.3" r="9.2"/><circle cx="1756.72" cy="189.4" r="9.2"/><circle cx="1764.98" cy="187.6" r="9.2"/><circle cx="1773.24" cy="183.4" r="9.2"/><circle cx="1781.5" cy="167.7" r="9.2"/><circle cx="1789.76" cy="164.7" r="9.2"/><circle cx="1798.02" cy="155.7" r="9.2"/><circle cx="1806.28" cy="140.8" r="9.2"/><circle cx="1814.54" cy="155.4" r="9.2"/><circle cx="1822.8" cy="134.7" r="9.2"/><circle cx="1831.06" cy="131.1" r="9.2"/><circle cx="1839.32" cy="148.2" r="9.2"/><circle cx="1847.58" cy="152.7" r="9.2"/><circle cx="1855.84" cy="138.3" r="9.2"/><circle cx="1864.1" cy="145.5" r="9.2"/><circle cx="1872.36" cy="141.9" r="9.2"/><circle cx="1880.62" cy="170.7" r="9.2"/><circle cx="1888.88" cy="195.5" r="9.2"/><circle cx="1897.14" cy="212.4" r="9.2"/><circle cx="1905.4" cy="246.7" r="9.2"/><circle cx="1913.66" cy="269.2" r="9.2"/><circle cx="1921.92" cy="278.2" r="9.2"/><circle cx="1930.18" cy="296.2" r="9.2"/><circle cx="1938.44" cy="331.4" r="9.2"/><circle cx="1946.7" cy="325.6" r="9.2"/><circle cx="1954.96" cy="340.4" r="9.2"/></g>
<polyline points="1657.6,82.1 1665.86,79.7 1674.12,83.3 1682.38,88.4 1690.64,83.9 1698.9,82.4 1707.16,77.9 1715.42,82.4 1723.68,77.9 1731.94,89.6 1740.2,99 1748.46,114.9 1756.72,133.6 1764.98,152 1773.24,181.3 1781.5,199.7 1789.76,234 1798.02,254 1806.28,262.4 1814.54,284.7 1822.8,266.5 1831.06,277.3 1839.32,278.7 1847.58,272.3 1855.84,250.6 1864.1,223.2 1872.36,208.5 1880.62,188.6 1888.88,165.3 1897.14,149.1 1905.4,144.6 1913.66,137.4 1921.92,129.3 1930.18,123 1938.44,123.9 1946.7,120.3 1954.96,114" fill="none" stroke="#27479d" stroke-width="2.2"/>
<g fill="#fff" stroke="#27479d" stroke-width="3.2"><circle cx="1657.6" cy="82.1" r="9.2"/><circle cx="1665.86" cy="79.7" r="9.2"/><circle cx="1674.12" cy="83.3" r="9.2"/><circle cx="1682.38" cy="88.4" r="9.2"/><circle cx="1690.64" cy="83.9" r="9.2"/><circle cx="1698.9" cy="82.4" r="9.2"/><circle cx="1707.16" cy="77.9" r="9.2"/><circle cx="1715.42" cy="82.4" r="9.2"/><circle cx="1723.68" cy="77.9" r="9.2"/><circle cx="1731.94" cy="89.6" r="9.2"/><circle cx="1740.2" cy="99" r="9.2"/><circle cx="1748.46" cy="114.9" r="9.2"/><circle cx="1756.72" cy="133.6" r="9.2"/><circle cx="1764.98" cy="152" r="9.2"/><circle cx="1773.24" cy="181.3" r="9.2"/><circle cx="1781.5" cy="199.7" r="9.2"/><circle cx="1789.76" cy="234" r="9.2"/><circle cx="1798.02" cy="254" r="9.2"/><circle cx="1806.28" cy="262.4" r="9.2"/><circle cx="1814.54" cy="284.7" r="9.2"/><circle cx="1822.8" cy="266.5" r="9.2"/><circle cx="1831.06" cy="277.3" r="9.2"/><circle cx="1839.32" cy="278.7" r="9.2"/><circle cx="1847.58" cy="272.3" r="9.2"/><circle cx="1855.84" cy="250.6" r="9.2"/><circle cx="1864.1" cy="223.2" r="9.2"/><circle cx="1872.36" cy="208.5" r="9.2"/><circle cx="1880.62" cy="188.6" r="9.2"/><circle cx="1888.88" cy="165.3" r="9.2"/><circle cx="1897.14" cy="149.1" r="9.2"/><circle cx="1905.4" cy="144.6" r="9.2"/><circle cx="1913.66" cy="137.4" r="9.2"/><circle cx="1921.92" cy="129.3" r="9.2"/><circle cx="1930.18" cy="123" r="9.2"/><circle cx="1938.44" cy="123.9" r="9.2"/><circle cx="1946.7" cy="120.3" r="9.2"/><circle cx="1954.96" cy="114" r="9.2"/></g>
<text x="1657.8" y="423.9" font-size="29.7" stroke="#231f20" stroke-width="0.3" text-anchor="middle" fill="#231f20">0</text>
<text x="1740.4" y="423.9" font-size="29.7" stroke="#231f20" stroke-width="0.3" text-anchor="middle" fill="#231f20">50</text>
<text x="1823.4" y="423.9" font-size="29.7" stroke="#231f20" stroke-width="0.3" text-anchor="middle" fill="#231f20">100</text>
<text x="1906" y="423.9" font-size="29.7" stroke="#231f20" stroke-width="0.3" text-anchor="middle" fill="#231f20">150</text>
<text x="1633.3" y="213.6" font-size="29.7" stroke="#231f20" stroke-width="0.3" text-anchor="end" fill="#231f20">18</text>
<text x="1633.3" y="299.4" font-size="29.7" stroke="#231f20" stroke-width="0.3" text-anchor="end" fill="#231f20">16</text>
<text x="1633.3" y="385.2" font-size="29.7" stroke="#231f20" stroke-width="0.3" text-anchor="end" fill="#231f20">14</text>
<text transform="matrix(0.3276,0,0,0.3404,1840.6,94.8)" font-size="100" fill="#231f20" stroke="#231f20" stroke-width="0.92">Peak 1</text>
<rect x="1640.1" y="484.5" width="332.5" height="332.3" fill="#fff" stroke="#231f20" stroke-width="1.7"/>
<path d="M1661.2,484.5v14M1661.2,816.8v-14M1741.8,484.5v14M1741.8,816.8v-14M1822.4,484.5v14M1822.4,816.8v-14M1903,484.5v14M1903,816.8v-14M1640.1,498h14M1972.6,498h-14M1640.1,584.6h14M1972.6,584.6h-14M1640.1,671.2h14M1972.6,671.2h-14M1640.1,757.8h14M1972.6,757.8h-14M1640.1,541.3h7.5M1972.6,541.3h-7.5M1640.1,627.9h7.5M1972.6,627.9h-7.5M1640.1,714.5h7.5M1972.6,714.5h-7.5M1640.1,801.1h7.5M1972.6,801.1h-7.5" stroke="#231f20" stroke-width="1.7" fill="none"/>
<polyline points="1661.2,515.1 1669.26,517.8 1677.32,538.6 1685.38,543.4 1693.44,544.3 1701.5,558.4 1709.56,542.7 1717.62,585.4 1725.68,568.3 1733.74,590.8 1741.8,582.2 1749.86,604.1 1757.92,609.5 1765.98,628.5 1774.04,643.9 1782.1,658.6 1790.16,674.2 1798.22,697.3 1806.28,724.2 1814.34,713.2 1822.4,741.4 1830.46,728.8 1838.52,734.2 1846.58,737.8 1854.64,718 1862.7,706.3 1870.76,671.2 1878.82,673 1886.88,667.6 1894.94,643 1903,622.4 1911.06,610.7 1919.12,614.1 1927.18,589.5 1935.24,598.9 1943.3,595.3 1951.36,587.7" fill="none" stroke="#eb2027" stroke-width="2.2"/>
<g fill="#fff" stroke="#eb2027" stroke-width="3.2"><circle cx="1661.2" cy="515.1" r="9.2"/><circle cx="1669.26" cy="517.8" r="9.2"/><circle cx="1677.32" cy="538.6" r="9.2"/><circle cx="1685.38" cy="543.4" r="9.2"/><circle cx="1693.44" cy="544.3" r="9.2"/><circle cx="1701.5" cy="558.4" r="9.2"/><circle cx="1709.56" cy="542.7" r="9.2"/><circle cx="1717.62" cy="585.4" r="9.2"/><circle cx="1725.68" cy="568.3" r="9.2"/><circle cx="1733.74" cy="590.8" r="9.2"/><circle cx="1741.8" cy="582.2" r="9.2"/><circle cx="1749.86" cy="604.1" r="9.2"/><circle cx="1757.92" cy="609.5" r="9.2"/><circle cx="1765.98" cy="628.5" r="9.2"/><circle cx="1774.04" cy="643.9" r="9.2"/><circle cx="1782.1" cy="658.6" r="9.2"/><circle cx="1790.16" cy="674.2" r="9.2"/><circle cx="1798.22" cy="697.3" r="9.2"/><circle cx="1806.28" cy="724.2" r="9.2"/><circle cx="1814.34" cy="713.2" r="9.2"/><circle cx="1822.4" cy="741.4" r="9.2"/><circle cx="1830.46" cy="728.8" r="9.2"/><circle cx="1838.52" cy="734.2" r="9.2"/><circle cx="1846.58" cy="737.8" r="9.2"/><circle cx="1854.64" cy="718" r="9.2"/><circle cx="1862.7" cy="706.3" r="9.2"/><circle cx="1870.76" cy="671.2" r="9.2"/><circle cx="1878.82" cy="673" r="9.2"/><circle cx="1886.88" cy="667.6" r="9.2"/><circle cx="1894.94" cy="643" r="9.2"/><circle cx="1903" cy="622.4" r="9.2"/><circle cx="1911.06" cy="610.7" r="9.2"/><circle cx="1919.12" cy="614.1" r="9.2"/><circle cx="1927.18" cy="589.5" r="9.2"/><circle cx="1935.24" cy="598.9" r="9.2"/><circle cx="1943.3" cy="595.3" r="9.2"/><circle cx="1951.36" cy="587.7" r="9.2"/></g>
<polyline points="1661.2,762.1 1669.26,776.1 1677.32,786 1685.38,757.6 1693.44,733.6 1701.5,706.1 1709.56,690.8 1717.62,688 1725.68,650.2 1733.74,679.9 1741.8,652.9 1749.86,648.4 1757.92,639 1765.98,629.5 1774.04,618.5 1782.1,619.3 1790.16,582.7 1798.22,574 1806.28,563.2 1814.34,552.1 1822.4,524.1 1830.46,548.8 1838.52,553.9 1846.58,555.7 1854.64,566.1 1862.7,578.2 1870.76,574.6 1878.82,629.6 1886.88,640 1894.94,653.7 1903,687.4 1911.06,704.5 1919.12,725.1 1927.18,727 1935.24,755.2 1943.3,795 1951.36,747.5" fill="none" stroke="#27479d" stroke-width="2.2"/>
<g fill="#fff" stroke="#27479d" stroke-width="3.2"><circle cx="1661.2" cy="762.1" r="9.2"/><circle cx="1669.26" cy="776.1" r="9.2"/><circle cx="1677.32" cy="786" r="9.2"/><circle cx="1685.38" cy="757.6" r="9.2"/><circle cx="1693.44" cy="733.6" r="9.2"/><circle cx="1701.5" cy="706.1" r="9.2"/><circle cx="1709.56" cy="690.8" r="9.2"/><circle cx="1717.62" cy="688" r="9.2"/><circle cx="1725.68" cy="650.2" r="9.2"/><circle cx="1733.74" cy="679.9" r="9.2"/><circle cx="1741.8" cy="652.9" r="9.2"/><circle cx="1749.86" cy="648.4" r="9.2"/><circle cx="1757.92" cy="639" r="9.2"/><circle cx="1765.98" cy="629.5" r="9.2"/><circle cx="1774.04" cy="618.5" r="9.2"/><circle cx="1782.1" cy="619.3" r="9.2"/><circle cx="1790.16" cy="582.7" r="9.2"/><circle cx="1798.22" cy="574" r="9.2"/><circle cx="1806.28" cy="563.2" r="9.2"/><circle cx="1814.34" cy="552.1" r="9.2"/><circle cx="1822.4" cy="524.1" r="9.2"/><circle cx="1830.46" cy="548.8" r="9.2"/><circle cx="1838.52" cy="553.9" r="9.2"/><circle cx="1846.58" cy="555.7" r="9.2"/><circle cx="1854.64" cy="566.1" r="9.2"/><circle cx="1862.7" cy="578.2" r="9.2"/><circle cx="1870.76" cy="574.6" r="9.2"/><circle cx="1878.82" cy="629.6" r="9.2"/><circle cx="1886.88" cy="640" r="9.2"/><circle cx="1894.94" cy="653.7" r="9.2"/><circle cx="1903" cy="687.4" r="9.2"/><circle cx="1911.06" cy="704.5" r="9.2"/><circle cx="1919.12" cy="725.1" r="9.2"/><circle cx="1927.18" cy="727" r="9.2"/><circle cx="1935.24" cy="755.2" r="9.2"/><circle cx="1943.3" cy="795" r="9.2"/><circle cx="1951.36" cy="747.5" r="9.2"/></g>
<text x="1661.4" y="851.5" font-size="29.7" stroke="#231f20" stroke-width="0.3" text-anchor="middle" fill="#231f20">0</text>
<text x="1742" y="851.5" font-size="29.7" stroke="#231f20" stroke-width="0.3" text-anchor="middle" fill="#231f20">50</text>
<text x="1823" y="851.5" font-size="29.7" stroke="#231f20" stroke-width="0.3" text-anchor="middle" fill="#231f20">100</text>
<text x="1903.6" y="851.5" font-size="29.7" stroke="#231f20" stroke-width="0.3" text-anchor="middle" fill="#231f20">150</text>
<text x="1633.3" y="595.1" font-size="29.7" stroke="#231f20" stroke-width="0.3" text-anchor="end" fill="#231f20">4.0</text>
<text x="1633.3" y="681.7" font-size="29.7" stroke="#231f20" stroke-width="0.3" text-anchor="end" fill="#231f20">3.0</text>
<text x="1633.3" y="768.3" font-size="29.7" stroke="#231f20" stroke-width="0.3" text-anchor="end" fill="#231f20">2.0</text>
<text transform="matrix(0.3322,0,0,0.3375,1855.06,523.3)" font-size="100" fill="#231f20" stroke="#231f20" stroke-width="0.9">Peak 2</text>
<text x="1525.9" y="134.1" font-size="29.7" fill="#231f20" stroke="#231f20" stroke-width="0.3">20 x10<tspan font-size="21" dy="-20.4" dx="-1.7">-6</tspan></text>
<text x="1518" y="514.2" font-size="29.7" fill="#231f20" stroke="#231f20" stroke-width="0.3">5.0 x10<tspan font-size="21" dy="-20.8" dx="-1.7">-6</tspan></text>
<text x="1613" y="457.5" font-size="32.2" stroke="#231f20" stroke-width="0.3" fill="#231f20">Polarization angle (degree)</text>
<text x="1603.7" y="891.4" font-size="32.2" stroke="#231f20" stroke-width="0.3" fill="#231f20">Polarization angle (degree)</text>
<text transform="translate(1551.9,331) rotate(-90)" font-size="32.1" fill="#231f20" stroke="#231f20" stroke-width="0.3">THz <tspan font-style="italic">E</tspan><tspan font-size="19" dy="10.5" dx="-0.8">x</tspan><tspan dy="-10.5" dx="-1.6"> field</tspan></text>
<text transform="translate(1591,326) rotate(-90)" font-size="32.4" stroke="#231f20" stroke-width="0.3" fill="#231f20">(arb. units)</text>
<text transform="translate(1541.1,730.4) rotate(-90)" font-size="32.1" fill="#231f20" stroke="#231f20" stroke-width="0.3">THz <tspan font-style="italic">E</tspan><tspan font-size="19" dy="10.5" dx="-0.8">x</tspan><tspan dy="-10.5" dx="-1.6"> field</tspan></text>
<text transform="translate(1579.5,724.5) rotate(-90)" font-size="32.4" stroke="#231f20" stroke-width="0.3" fill="#231f20">(arb. units)</text>
<rect x="1682.3" y="1.6" width="229.6" height="42.2" fill="#fff" stroke="#231f20" stroke-width="1.7"/>
<line x1="1691.6" y1="24" x2="1747.2" y2="24" stroke="#27479d" stroke-width="2.3"/><circle cx="1719.5" cy="24" r="7.5" fill="#fff" stroke="#27479d" stroke-width="3.2"/>
<line x1="1809.7" y1="24" x2="1864.8" y2="24" stroke="#eb2027" stroke-width="2.3"/><circle cx="1837.5" cy="24" r="7.5" fill="#fff" stroke="#eb2027" stroke-width="3.2"/>
<text x="1761" y="32.8" font-size="29.5" fill="#231f20">+<tspan font-weight="bold">B</tspan></text>
<text x="1878.5" y="32.8" font-size="29.5" fill="#231f20">-<tspan font-weight="bold">B</tspan></text>
<text transform="matrix(0.4526,0,0,0.5288,1.14,44.27)" font-size="100" font-weight="bold" fill="#231f20">a</text>
<text transform="matrix(0.5158,0,0,0.5524,-2.8,485.35)" font-size="100" font-weight="bold" fill="#231f20">b</text>
<text transform="matrix(0.4431,0,0,0.5333,681.83,40.67)" font-size="100" font-weight="bold" fill="#231f20">c</text>
<text transform="matrix(0.5228,0,0,0.5524,679.61,485.35)" font-size="100" font-weight="bold" fill="#231f20">d</text>
<text transform="matrix(0.5181,0,0,0.5333,1502.93,40.07)" font-size="100" font-weight="bold" fill="#231f20">e</text>
<text transform="matrix(0.5858,0,0,0.5600,1504.27,479.5)" font-size="100" font-weight="bold" fill="#231f20">f</text>
</svg>
</body></html>
